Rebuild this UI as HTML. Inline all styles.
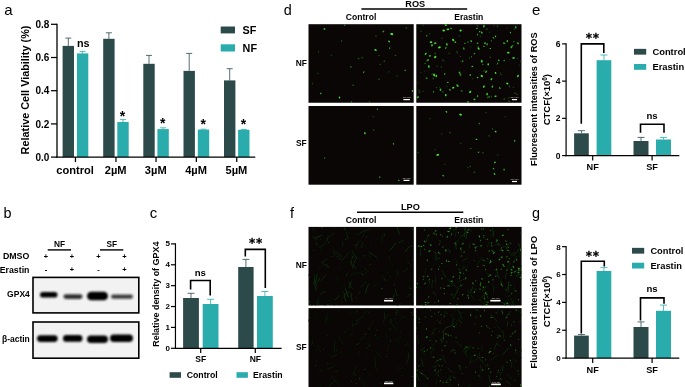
<!DOCTYPE html>
<html><head><meta charset="utf-8"><title>Figure</title>
<style>html,body{margin:0;padding:0;background:#fff;}svg{display:block;font-family:"Liberation Sans",sans-serif;}</style>
</head><body>
<svg width="685" height="387" viewBox="0 0 685 387">
<rect width="685" height="387" fill="#fff"/>
<text x="4.30" y="15.20" font-size="15" font-weight="normal" text-anchor="start" >a</text>
<line x1="51.00" y1="157.10" x2="57.00" y2="157.10" stroke="#000" stroke-width="1.25" stroke-linecap="butt"/>
<text x="49.30" y="160.70" font-size="10" font-weight="bold" text-anchor="end" >0.0</text>
<line x1="51.00" y1="123.90" x2="57.00" y2="123.90" stroke="#000" stroke-width="1.25" stroke-linecap="butt"/>
<text x="49.30" y="127.50" font-size="10" font-weight="bold" text-anchor="end" >0.2</text>
<line x1="51.00" y1="90.70" x2="57.00" y2="90.70" stroke="#000" stroke-width="1.25" stroke-linecap="butt"/>
<text x="49.30" y="94.30" font-size="10" font-weight="bold" text-anchor="end" >0.4</text>
<line x1="51.00" y1="57.50" x2="57.00" y2="57.50" stroke="#000" stroke-width="1.25" stroke-linecap="butt"/>
<text x="49.30" y="61.10" font-size="10" font-weight="bold" text-anchor="end" >0.6</text>
<line x1="51.00" y1="24.30" x2="57.00" y2="24.30" stroke="#000" stroke-width="1.25" stroke-linecap="butt"/>
<text x="49.30" y="27.90" font-size="10" font-weight="bold" text-anchor="end" >0.8</text>
<text transform="translate(29.40,90.00) rotate(-90)" font-size="10.85" font-weight="bold" text-anchor="middle">Relative Cell Viability (%)</text>
<rect x="62.60" y="45.90" width="11.40" height="111.20" fill="#2d4a4b" />
<line x1="68.30" y1="38.10" x2="68.30" y2="45.90" stroke="#2d4a4b" stroke-width="0.8" stroke-linecap="butt"/>
<line x1="65.30" y1="38.10" x2="71.30" y2="38.10" stroke="#2d4a4b" stroke-width="0.8" stroke-linecap="butt"/>
<rect x="76.90" y="53.40" width="11.40" height="103.70" fill="#2aacac" />
<line x1="82.60" y1="51.40" x2="82.60" y2="53.40" stroke="#2aacac" stroke-width="0.8" stroke-linecap="butt"/>
<line x1="79.60" y1="51.40" x2="85.60" y2="51.40" stroke="#2aacac" stroke-width="0.8" stroke-linecap="butt"/>
<line x1="75.45" y1="157.10" x2="75.45" y2="162.10" stroke="#000" stroke-width="1.25" stroke-linecap="butt"/>
<text x="75.15" y="174.30" font-size="11.1" font-weight="bold" text-anchor="middle" >control</text>
<rect x="103.20" y="38.80" width="11.40" height="118.30" fill="#2d4a4b" />
<line x1="108.90" y1="32.80" x2="108.90" y2="38.80" stroke="#2d4a4b" stroke-width="0.8" stroke-linecap="butt"/>
<line x1="105.90" y1="32.80" x2="111.90" y2="32.80" stroke="#2d4a4b" stroke-width="0.8" stroke-linecap="butt"/>
<rect x="117.30" y="122.00" width="11.40" height="35.10" fill="#2aacac" />
<line x1="123.00" y1="119.60" x2="123.00" y2="122.00" stroke="#2aacac" stroke-width="0.8" stroke-linecap="butt"/>
<line x1="120.00" y1="119.60" x2="126.00" y2="119.60" stroke="#2aacac" stroke-width="0.8" stroke-linecap="butt"/>
<line x1="115.95" y1="157.10" x2="115.95" y2="162.10" stroke="#000" stroke-width="1.25" stroke-linecap="butt"/>
<text x="115.65" y="174.30" font-size="11.1" font-weight="bold" text-anchor="middle" >2µM</text>
<rect x="143.30" y="63.80" width="11.40" height="93.30" fill="#2d4a4b" />
<line x1="149.00" y1="55.40" x2="149.00" y2="63.80" stroke="#2d4a4b" stroke-width="0.8" stroke-linecap="butt"/>
<line x1="146.00" y1="55.40" x2="152.00" y2="55.40" stroke="#2d4a4b" stroke-width="0.8" stroke-linecap="butt"/>
<rect x="157.40" y="129.10" width="11.40" height="28.00" fill="#2aacac" />
<line x1="163.10" y1="127.80" x2="163.10" y2="129.10" stroke="#2aacac" stroke-width="0.8" stroke-linecap="butt"/>
<line x1="160.10" y1="127.80" x2="166.10" y2="127.80" stroke="#2aacac" stroke-width="0.8" stroke-linecap="butt"/>
<line x1="156.05" y1="157.10" x2="156.05" y2="162.10" stroke="#000" stroke-width="1.25" stroke-linecap="butt"/>
<text x="155.75" y="174.30" font-size="11.1" font-weight="bold" text-anchor="middle" >3µM</text>
<rect x="183.50" y="70.90" width="11.40" height="86.20" fill="#2d4a4b" />
<line x1="189.20" y1="53.40" x2="189.20" y2="70.90" stroke="#2d4a4b" stroke-width="0.8" stroke-linecap="butt"/>
<line x1="186.20" y1="53.40" x2="192.20" y2="53.40" stroke="#2d4a4b" stroke-width="0.8" stroke-linecap="butt"/>
<rect x="197.80" y="129.60" width="11.40" height="27.50" fill="#2aacac" />
<line x1="203.50" y1="129.20" x2="203.50" y2="129.60" stroke="#2aacac" stroke-width="0.8" stroke-linecap="butt"/>
<line x1="200.50" y1="129.20" x2="206.50" y2="129.20" stroke="#2aacac" stroke-width="0.8" stroke-linecap="butt"/>
<line x1="196.35" y1="157.10" x2="196.35" y2="162.10" stroke="#000" stroke-width="1.25" stroke-linecap="butt"/>
<text x="196.05" y="174.30" font-size="11.1" font-weight="bold" text-anchor="middle" >4µM</text>
<rect x="224.00" y="80.40" width="11.40" height="76.70" fill="#2d4a4b" />
<line x1="229.70" y1="68.70" x2="229.70" y2="80.40" stroke="#2d4a4b" stroke-width="0.8" stroke-linecap="butt"/>
<line x1="226.70" y1="68.70" x2="232.70" y2="68.70" stroke="#2d4a4b" stroke-width="0.8" stroke-linecap="butt"/>
<rect x="238.10" y="129.80" width="11.40" height="27.30" fill="#2aacac" />
<line x1="243.80" y1="129.40" x2="243.80" y2="129.80" stroke="#2aacac" stroke-width="0.8" stroke-linecap="butt"/>
<line x1="240.80" y1="129.40" x2="246.80" y2="129.40" stroke="#2aacac" stroke-width="0.8" stroke-linecap="butt"/>
<line x1="236.75" y1="157.10" x2="236.75" y2="162.10" stroke="#000" stroke-width="1.25" stroke-linecap="butt"/>
<text x="236.45" y="174.30" font-size="11.1" font-weight="bold" text-anchor="middle" >5µM</text>
<line x1="57.00" y1="23.70" x2="57.00" y2="157.70" stroke="#000" stroke-width="1.3" stroke-linecap="butt"/>
<line x1="56.40" y1="157.10" x2="255.30" y2="157.10" stroke="#000" stroke-width="1.3" stroke-linecap="butt"/>
<text x="83.20" y="47.20" font-size="10.8" font-weight="bold" text-anchor="middle" >ns</text>
<text x="122.40" y="121.40" font-size="14" font-weight="bold" text-anchor="middle" >*</text>
<text x="162.80" y="128.40" font-size="14" font-weight="bold" text-anchor="middle" >*</text>
<text x="203.20" y="129.40" font-size="14" font-weight="bold" text-anchor="middle" >*</text>
<text x="243.50" y="129.40" font-size="14" font-weight="bold" text-anchor="middle" >*</text>
<rect x="220.70" y="26.50" width="14.30" height="6.90" fill="#2d4a4b" />
<text x="242.60" y="33.90" font-size="10.8" font-weight="bold" text-anchor="start" >SF</text>
<rect x="220.70" y="44.30" width="14.30" height="7.20" fill="#2aacac" />
<text x="242.60" y="51.60" font-size="10.8" font-weight="bold" text-anchor="start" >NF</text>
<text x="3.55" y="218.20" font-size="14.4" font-weight="normal" text-anchor="start" >b</text>
<text x="59.50" y="247.20" font-size="8.3" font-weight="bold" text-anchor="middle" >NF</text>
<line x1="47.70" y1="249.90" x2="71.00" y2="249.90" stroke="#000" stroke-width="1.4" stroke-linecap="butt"/>
<text x="111.70" y="247.20" font-size="8.3" font-weight="bold" text-anchor="middle" >SF</text>
<line x1="100.00" y1="249.90" x2="123.30" y2="249.90" stroke="#000" stroke-width="1.4" stroke-linecap="butt"/>
<text x="29.30" y="258.90" font-size="8.8" font-weight="bold" text-anchor="end" >DMSO</text>
<text x="29.50" y="272.60" font-size="8.8" font-weight="bold" text-anchor="end" >Erastin</text>
<text x="46.00" y="258.70" font-size="7.4" font-weight="bold" text-anchor="middle" >+</text>
<text x="46.00" y="272.30" font-size="7.4" font-weight="bold" text-anchor="middle" >-</text>
<text x="72.00" y="258.70" font-size="7.4" font-weight="bold" text-anchor="middle" >+</text>
<text x="72.00" y="272.30" font-size="7.4" font-weight="bold" text-anchor="middle" >+</text>
<text x="98.40" y="258.70" font-size="7.4" font-weight="bold" text-anchor="middle" >+</text>
<text x="98.40" y="272.30" font-size="7.4" font-weight="bold" text-anchor="middle" >-</text>
<text x="124.40" y="258.70" font-size="7.4" font-weight="bold" text-anchor="middle" >+</text>
<text x="124.40" y="272.30" font-size="7.4" font-weight="bold" text-anchor="middle" >+</text>
<defs><filter id="bl" x="-20%" y="-50%" width="140%" height="200%"><feGaussianBlur stdDeviation="0.9"/></filter><filter id="bl2" x="-20%" y="-50%" width="140%" height="200%"><feGaussianBlur stdDeviation="1.2"/></filter></defs>
<rect x="33.00" y="277.40" width="105.80" height="35.50" fill="#f2f2f2" stroke="#000" stroke-width="1.6"/>
<rect x="33.00" y="322.00" width="105.80" height="36.20" fill="#f2f2f2" stroke="#000" stroke-width="1.6"/>
<text x="29.80" y="297.20" font-size="8.5" font-weight="bold" text-anchor="end" >GPX4</text>
<text x="29.80" y="341.90" font-size="8.5" font-weight="bold" text-anchor="end" >β-actin</text>
<rect x="40.00" y="292.00" width="17.50" height="5.60" rx="2.80" fill="#000" opacity="1" filter="url(#bl)"/>
<rect x="63.50" y="294.30" width="19.00" height="4.60" rx="2.30" fill="#111" opacity="0.85" filter="url(#bl)"/>
<rect x="87.00" y="291.70" width="21.00" height="8.60" rx="4.30" fill="#000" opacity="1" filter="url(#bl)"/>
<rect x="111.00" y="294.40" width="22.00" height="4.40" rx="2.20" fill="#111" opacity="0.8" filter="url(#bl)"/>
<rect x="37.00" y="335.20" width="20.70" height="6.80" rx="3.40" fill="#000" opacity="1" filter="url(#bl)"/>
<rect x="63.00" y="335.00" width="19.50" height="6.80" rx="3.40" fill="#000" opacity="1" filter="url(#bl)"/>
<rect x="87.00" y="335.40" width="21.00" height="7.60" rx="3.80" fill="#000" opacity="1" filter="url(#bl)"/>
<rect x="110.00" y="334.50" width="23.00" height="7.40" rx="3.70" fill="#000" opacity="1" filter="url(#bl)"/>
<text x="149.70" y="218.40" font-size="15" font-weight="normal" text-anchor="start" >c</text>
<line x1="170.95" y1="348.30" x2="175.45" y2="348.30" stroke="#000" stroke-width="1.2" stroke-linecap="butt"/>
<text x="170.00" y="350.60" font-size="8.0" font-weight="bold" text-anchor="end" >0</text>
<line x1="170.95" y1="327.42" x2="175.45" y2="327.42" stroke="#000" stroke-width="1.2" stroke-linecap="butt"/>
<text x="170.00" y="329.72" font-size="8.0" font-weight="bold" text-anchor="end" >1</text>
<line x1="170.95" y1="306.54" x2="175.45" y2="306.54" stroke="#000" stroke-width="1.2" stroke-linecap="butt"/>
<text x="170.00" y="308.84" font-size="8.0" font-weight="bold" text-anchor="end" >2</text>
<line x1="170.95" y1="285.66" x2="175.45" y2="285.66" stroke="#000" stroke-width="1.2" stroke-linecap="butt"/>
<text x="170.00" y="287.96" font-size="8.0" font-weight="bold" text-anchor="end" >3</text>
<line x1="170.95" y1="264.78" x2="175.45" y2="264.78" stroke="#000" stroke-width="1.2" stroke-linecap="butt"/>
<text x="170.00" y="267.08" font-size="8.0" font-weight="bold" text-anchor="end" >4</text>
<line x1="170.95" y1="243.90" x2="175.45" y2="243.90" stroke="#000" stroke-width="1.2" stroke-linecap="butt"/>
<text x="170.00" y="246.20" font-size="8.0" font-weight="bold" text-anchor="end" >5</text>
<text transform="translate(159.20,294.20) rotate(-90)" font-size="8.93" font-weight="bold" text-anchor="middle">Relative density of GPX4</text>
<rect x="183.10" y="298.00" width="15.80" height="50.30" fill="#2d4a4b" />
<line x1="191.00" y1="293.30" x2="191.00" y2="298.00" stroke="#2d4a4b" stroke-width="0.8" stroke-linecap="butt"/>
<line x1="187.50" y1="293.30" x2="194.50" y2="293.30" stroke="#2d4a4b" stroke-width="0.8" stroke-linecap="butt"/>
<rect x="202.70" y="304.00" width="15.80" height="44.30" fill="#2aacac" />
<line x1="210.60" y1="299.30" x2="210.60" y2="304.00" stroke="#2aacac" stroke-width="0.8" stroke-linecap="butt"/>
<line x1="207.10" y1="299.30" x2="214.10" y2="299.30" stroke="#2aacac" stroke-width="0.8" stroke-linecap="butt"/>
<rect x="238.20" y="267.00" width="15.40" height="81.30" fill="#2d4a4b" />
<line x1="245.90" y1="259.40" x2="245.90" y2="267.00" stroke="#2d4a4b" stroke-width="0.8" stroke-linecap="butt"/>
<line x1="242.40" y1="259.40" x2="249.40" y2="259.40" stroke="#2d4a4b" stroke-width="0.8" stroke-linecap="butt"/>
<rect x="257.00" y="296.00" width="15.80" height="52.30" fill="#2aacac" />
<line x1="264.90" y1="291.50" x2="264.90" y2="296.00" stroke="#2aacac" stroke-width="0.8" stroke-linecap="butt"/>
<line x1="261.40" y1="291.50" x2="268.40" y2="291.50" stroke="#2aacac" stroke-width="0.8" stroke-linecap="butt"/>
<line x1="200.70" y1="348.30" x2="200.70" y2="352.90" stroke="#000" stroke-width="1.2" stroke-linecap="butt"/>
<text x="200.70" y="362.20" font-size="8.5" font-weight="bold" text-anchor="middle" >SF</text>
<line x1="255.30" y1="348.30" x2="255.30" y2="352.90" stroke="#000" stroke-width="1.2" stroke-linecap="butt"/>
<text x="255.30" y="362.20" font-size="8.5" font-weight="bold" text-anchor="middle" >NF</text>
<line x1="175.45" y1="243.30" x2="175.45" y2="348.90" stroke="#000" stroke-width="1.2" stroke-linecap="butt"/>
<line x1="174.85" y1="348.30" x2="281.60" y2="348.30" stroke="#000" stroke-width="1.2" stroke-linecap="butt"/>
<path d="M190.60 289.50V280.50H210.20V295.50" fill="none" stroke="#000" stroke-width="1.6" stroke-linejoin="miter"/>
<text x="200.30" y="276.00" font-size="9.6" font-weight="bold" text-anchor="middle" >ns</text>
<path d="M245.30 256.40V249.40H265.30V288.00" fill="none" stroke="#000" stroke-width="1.6" stroke-linejoin="miter"/>
<text x="256.00" y="246.90" font-family="DejaVu Sans, sans-serif" font-size="12" font-weight="bold" text-anchor="middle" stroke="#000" stroke-width="0.3" letter-spacing="0.6">**</text>
<rect x="169.60" y="372.20" width="11.40" height="5.60" fill="#2d4a4b" />
<text x="186.70" y="378.30" font-size="8.75" font-weight="bold" text-anchor="start" >Control</text>
<rect x="236.50" y="372.20" width="11.40" height="5.60" fill="#2aacac" />
<text x="253.00" y="378.30" font-size="8.75" font-weight="bold" text-anchor="start" >Erastin</text>
<defs><filter id="g1" x="-5%" y="-5%" width="110%" height="110%"><feGaussianBlur stdDeviation="0.35"/></filter><filter id="g2" x="-5%" y="-5%" width="110%" height="110%"><feGaussianBlur stdDeviation="0.45"/></filter></defs>
<text x="283.70" y="14.60" font-size="14.4" font-weight="normal" text-anchor="start" >d</text>
<text x="415.30" y="6.80" font-size="9.2" font-weight="bold" text-anchor="middle" >ROS</text>
<line x1="361.40" y1="9.10" x2="467.20" y2="9.10" stroke="#000" stroke-width="1.5" stroke-linecap="butt"/>
<text x="361.00" y="19.90" font-size="8.6" font-weight="bold" text-anchor="middle" >Control</text>
<text x="468.80" y="19.90" font-size="8.6" font-weight="bold" text-anchor="middle" >Erastin</text>
<text x="301.30" y="66.00" font-size="8.4" font-weight="bold" text-anchor="middle" >NF</text>
<text x="301.30" y="145.70" font-size="8.4" font-weight="bold" text-anchor="middle" >SF</text>
<rect x="308.50" y="24.20" width="105.20" height="78.55" fill="#090605" />
<clipPath id="cd1"><rect x="308.5" y="24.2" width="105.20" height="78.55"/></clipPath><g clip-path="url(#cd1)"><g filter="url(#g1)">
<ellipse cx="324.4" cy="29.0" rx="1.08" ry="0.72" transform="rotate(24 324.4 29.0)" fill="rgb(66,202,48)"/>
<ellipse cx="344.8" cy="25.0" rx="0.96" ry="0.64" transform="rotate(153 344.8 25.0)" fill="rgb(52,159,38)"/>
<ellipse cx="383.4" cy="31.5" rx="1.08" ry="0.72" transform="rotate(137 383.4 31.5)" fill="rgb(52,159,38)"/>
<ellipse cx="391.8" cy="34.1" rx="1.56" ry="1.04" transform="rotate(10 391.8 34.1)" fill="rgb(80,245,58)"/>
<ellipse cx="389.1" cy="41.5" rx="1.08" ry="0.72" transform="rotate(46 389.1 41.5)" fill="rgb(73,223,53)"/>
<ellipse cx="389.7" cy="48.1" rx="0.96" ry="0.64" transform="rotate(80 389.7 48.1)" fill="rgb(52,159,38)"/>
<ellipse cx="375.5" cy="50.0" rx="1.32" ry="0.88" transform="rotate(20 375.5 50.0)" fill="rgb(73,223,53)"/>
<ellipse cx="341.6" cy="41.1" rx="0.96" ry="0.64" transform="rotate(89 341.6 41.1)" fill="rgb(31,94,23)"/>
<ellipse cx="362.2" cy="57.6" rx="0.96" ry="0.64" transform="rotate(81 362.2 57.6)" fill="rgb(31,94,23)"/>
<ellipse cx="350.9" cy="66.9" rx="0.96" ry="0.64" transform="rotate(80 350.9 66.9)" fill="rgb(45,137,33)"/>
<ellipse cx="363.7" cy="72.2" rx="1.08" ry="0.72" transform="rotate(117 363.7 72.2)" fill="rgb(45,137,33)"/>
<ellipse cx="384.4" cy="61.2" rx="0.96" ry="0.64" transform="rotate(142 384.4 61.2)" fill="rgb(31,94,23)"/>
<ellipse cx="395.4" cy="55.5" rx="0.96" ry="0.64" transform="rotate(17 395.4 55.5)" fill="rgb(31,94,23)"/>
<ellipse cx="405.2" cy="70.3" rx="0.84" ry="0.56" transform="rotate(5 405.2 70.3)" fill="rgb(69,212,50)"/>
<ellipse cx="320.8" cy="93.4" rx="0.96" ry="0.64" transform="rotate(150 320.8 93.4)" fill="rgb(52,159,38)"/>
<ellipse cx="339.5" cy="97.5" rx="1.08" ry="0.72" transform="rotate(78 339.5 97.5)" fill="rgb(73,223,53)"/>
<ellipse cx="353.1" cy="85.2" rx="0.96" ry="0.64" transform="rotate(137 353.1 85.2)" fill="rgb(31,94,23)"/>
<ellipse cx="412.4" cy="90.9" rx="0.96" ry="0.64" transform="rotate(90 412.4 90.9)" fill="rgb(69,212,50)"/>
<ellipse cx="379.1" cy="79.2" rx="0.96" ry="0.64" transform="rotate(0 379.1 79.2)" fill="rgb(31,94,23)"/>
<ellipse cx="318.7" cy="51.7" rx="0.96" ry="0.64" transform="rotate(80 318.7 51.7)" fill="rgb(20,62,15)"/>
<ellipse cx="331.4" cy="55.5" rx="0.96" ry="0.64" transform="rotate(130 331.4 55.5)" fill="rgb(20,62,15)"/>
<ellipse cx="317.7" cy="73.5" rx="0.96" ry="0.64" transform="rotate(41 317.7 73.5)" fill="rgb(20,62,15)"/>
<ellipse cx="358.6" cy="58.5" rx="0.96" ry="0.64" transform="rotate(170 358.6 58.5)" fill="rgb(27,83,20)"/>
<ellipse cx="379.1" cy="55.5" rx="0.96" ry="0.64" transform="rotate(162 379.1 55.5)" fill="rgb(24,73,18)"/>
<ellipse cx="380.2" cy="64.4" rx="0.96" ry="0.64" transform="rotate(6 380.2 64.4)" fill="rgb(24,73,18)"/>
<ellipse cx="375.9" cy="35.8" rx="0.96" ry="0.64" transform="rotate(5 375.9 35.8)" fill="rgb(27,83,20)"/>
<ellipse cx="351.6" cy="102.1" rx="0.96" ry="0.64" transform="rotate(97 351.6 102.1)" fill="rgb(52,159,38)"/>
<ellipse cx="406.3" cy="27.9" rx="0.96" ry="0.64" transform="rotate(169 406.3 27.9)" fill="rgb(31,94,23)"/>
<ellipse cx="369.6" cy="102.1" rx="0.96" ry="0.64" transform="rotate(69 369.6 102.1)" fill="rgb(38,116,28)"/>
<ellipse cx="397.1" cy="76.0" rx="0.96" ry="0.64" transform="rotate(39 397.1 76.0)" fill="rgb(20,62,15)"/>
<ellipse cx="312.4" cy="83.5" rx="0.96" ry="0.64" transform="rotate(76 312.4 83.5)" fill="rgb(20,62,15)"/>
<ellipse cx="388.7" cy="71.8" rx="0.96" ry="0.64" transform="rotate(5 388.7 71.8)" fill="rgb(20,62,15)"/>
</g></g>
<line x1="403.40" y1="99.60" x2="409.90" y2="99.60" stroke="#fff" stroke-width="1.2" stroke-linecap="butt"/>
<text x="406.65" y="98.30" font-size="2.4" font-weight="normal" text-anchor="middle" fill="#cfcfcf">100 μm</text>
<rect x="416.30" y="24.20" width="105.20" height="78.55" fill="#090605" />
<clipPath id="cd2"><rect x="416.3" y="24.2" width="105.20" height="78.55"/></clipPath><g clip-path="url(#cd2)"><g filter="url(#g1)">
<ellipse cx="445.8" cy="25.2" rx="1.25" ry="0.84" transform="rotate(172 445.8 25.2)" fill="rgb(68,208,49)"/>
<ellipse cx="447.9" cy="29.4" rx="1.40" ry="0.93" transform="rotate(171 447.9 29.4)" fill="rgb(73,225,53)"/>
<ellipse cx="443.7" cy="30.5" rx="1.38" ry="0.92" transform="rotate(10 443.7 30.5)" fill="rgb(71,219,52)"/>
<ellipse cx="451.1" cy="28.4" rx="1.06" ry="0.70" transform="rotate(15 451.1 28.4)" fill="rgb(49,151,36)"/>
<ellipse cx="460.6" cy="30.5" rx="1.19" ry="0.79" transform="rotate(150 460.6 30.5)" fill="rgb(78,239,56)"/>
<ellipse cx="477.0" cy="28.4" rx="0.80" ry="0.53" transform="rotate(132 477.0 28.4)" fill="rgb(76,235,55)"/>
<ellipse cx="479.7" cy="31.5" rx="0.90" ry="0.60" transform="rotate(121 479.7 31.5)" fill="rgb(63,193,46)"/>
<ellipse cx="481.8" cy="32.6" rx="1.13" ry="0.76" transform="rotate(55 481.8 32.6)" fill="rgb(65,200,47)"/>
<ellipse cx="477.6" cy="34.7" rx="0.88" ry="0.58" transform="rotate(109 477.6 34.7)" fill="rgb(48,149,35)"/>
<ellipse cx="483.9" cy="26.2" rx="1.38" ry="0.92" transform="rotate(109 483.9 26.2)" fill="rgb(57,175,41)"/>
<ellipse cx="495.6" cy="36.4" rx="0.83" ry="0.56" transform="rotate(105 495.6 36.4)" fill="rgb(72,222,52)"/>
<ellipse cx="493.5" cy="37.9" rx="0.82" ry="0.55" transform="rotate(29 493.5 37.9)" fill="rgb(73,225,53)"/>
<ellipse cx="510.4" cy="32.6" rx="0.81" ry="0.54" transform="rotate(78 510.4 32.6)" fill="rgb(67,207,49)"/>
<ellipse cx="515.7" cy="27.3" rx="1.35" ry="0.90" transform="rotate(71 515.7 27.3)" fill="rgb(48,148,35)"/>
<ellipse cx="426.7" cy="35.8" rx="0.88" ry="0.58" transform="rotate(130 426.7 35.8)" fill="rgb(55,168,40)"/>
<ellipse cx="431.0" cy="42.1" rx="1.35" ry="0.90" transform="rotate(179 431.0 42.1)" fill="rgb(79,243,57)"/>
<ellipse cx="435.2" cy="43.2" rx="1.41" ry="0.94" transform="rotate(171 435.2 43.2)" fill="rgb(57,176,42)"/>
<ellipse cx="432.0" cy="45.3" rx="1.21" ry="0.81" transform="rotate(98 432.0 45.3)" fill="rgb(65,200,47)"/>
<ellipse cx="446.9" cy="44.3" rx="1.40" ry="0.93" transform="rotate(80 446.9 44.3)" fill="rgb(54,168,40)"/>
<ellipse cx="453.2" cy="40.0" rx="1.42" ry="0.94" transform="rotate(48 453.2 40.0)" fill="rgb(70,215,51)"/>
<ellipse cx="455.3" cy="42.1" rx="0.94" ry="0.62" transform="rotate(6 455.3 42.1)" fill="rgb(76,234,55)"/>
<ellipse cx="464.9" cy="43.2" rx="0.84" ry="0.56" transform="rotate(5 464.9 43.2)" fill="rgb(59,183,43)"/>
<ellipse cx="468.0" cy="42.1" rx="0.77" ry="0.51" transform="rotate(84 468.0 42.1)" fill="rgb(53,162,38)"/>
<ellipse cx="471.2" cy="41.1" rx="1.15" ry="0.77" transform="rotate(57 471.2 41.1)" fill="rgb(57,177,42)"/>
<ellipse cx="463.8" cy="48.5" rx="1.21" ry="0.81" transform="rotate(68 463.8 48.5)" fill="rgb(48,148,35)"/>
<ellipse cx="477.6" cy="43.2" rx="0.94" ry="0.63" transform="rotate(161 477.6 43.2)" fill="rgb(59,180,43)"/>
<ellipse cx="485.0" cy="43.2" rx="1.07" ry="0.71" transform="rotate(95 485.0 43.2)" fill="rgb(74,227,53)"/>
<ellipse cx="487.1" cy="44.3" rx="1.07" ry="0.71" transform="rotate(101 487.1 44.3)" fill="rgb(58,178,42)"/>
<ellipse cx="483.9" cy="46.4" rx="0.76" ry="0.51" transform="rotate(43 483.9 46.4)" fill="rgb(70,216,51)"/>
<ellipse cx="490.3" cy="48.5" rx="0.74" ry="0.49" transform="rotate(4 490.3 48.5)" fill="rgb(79,242,57)"/>
<ellipse cx="478.6" cy="48.5" rx="1.33" ry="0.89" transform="rotate(59 478.6 48.5)" fill="rgb(72,220,52)"/>
<ellipse cx="504.1" cy="43.2" rx="1.29" ry="0.86" transform="rotate(25 504.1 43.2)" fill="rgb(49,149,35)"/>
<ellipse cx="507.3" cy="41.1" rx="1.14" ry="0.76" transform="rotate(92 507.3 41.1)" fill="rgb(60,183,43)"/>
<ellipse cx="512.6" cy="45.3" rx="0.75" ry="0.50" transform="rotate(180 512.6 45.3)" fill="rgb(48,149,35)"/>
<ellipse cx="511.5" cy="47.0" rx="1.41" ry="0.94" transform="rotate(121 511.5 47.0)" fill="rgb(54,165,39)"/>
<ellipse cx="517.9" cy="43.2" rx="1.26" ry="0.84" transform="rotate(33 517.9 43.2)" fill="rgb(54,167,39)"/>
<ellipse cx="439.4" cy="47.4" rx="1.40" ry="0.93" transform="rotate(161 439.4 47.4)" fill="rgb(77,238,56)"/>
<ellipse cx="445.8" cy="47.9" rx="0.98" ry="0.65" transform="rotate(143 445.8 47.9)" fill="rgb(59,181,43)"/>
<ellipse cx="425.7" cy="53.8" rx="1.28" ry="0.85" transform="rotate(132 425.7 53.8)" fill="rgb(65,199,47)"/>
<ellipse cx="429.9" cy="55.9" rx="1.26" ry="0.84" transform="rotate(163 429.9 55.9)" fill="rgb(51,158,37)"/>
<ellipse cx="435.2" cy="57.0" rx="1.34" ry="0.89" transform="rotate(137 435.2 57.0)" fill="rgb(73,225,53)"/>
<ellipse cx="427.8" cy="60.2" rx="1.40" ry="0.93" transform="rotate(142 427.8 60.2)" fill="rgb(49,151,36)"/>
<ellipse cx="462.7" cy="61.2" rx="0.97" ry="0.64" transform="rotate(64 462.7 61.2)" fill="rgb(51,157,37)"/>
<ellipse cx="508.3" cy="52.7" rx="1.38" ry="0.92" transform="rotate(177 508.3 52.7)" fill="rgb(67,207,49)"/>
<ellipse cx="513.6" cy="58.0" rx="1.39" ry="0.92" transform="rotate(173 513.6 58.0)" fill="rgb(59,181,43)"/>
<ellipse cx="498.8" cy="60.2" rx="0.94" ry="0.63" transform="rotate(29 498.8 60.2)" fill="rgb(65,200,47)"/>
<ellipse cx="504.1" cy="60.6" rx="0.85" ry="0.57" transform="rotate(136 504.1 60.6)" fill="rgb(58,178,42)"/>
<ellipse cx="497.7" cy="63.3" rx="0.83" ry="0.55" transform="rotate(129 497.7 63.3)" fill="rgb(50,155,37)"/>
<ellipse cx="481.8" cy="61.2" rx="1.44" ry="0.96" transform="rotate(83 481.8 61.2)" fill="rgb(70,214,51)"/>
<ellipse cx="482.9" cy="64.4" rx="0.75" ry="0.50" transform="rotate(95 482.9 64.4)" fill="rgb(53,163,39)"/>
<ellipse cx="488.2" cy="64.4" rx="1.10" ry="0.74" transform="rotate(88 488.2 64.4)" fill="rgb(79,243,57)"/>
<ellipse cx="474.4" cy="53.8" rx="0.89" ry="0.59" transform="rotate(166 474.4 53.8)" fill="rgb(61,187,44)"/>
<ellipse cx="428.8" cy="66.5" rx="1.31" ry="0.88" transform="rotate(90 428.8 66.5)" fill="rgb(67,205,48)"/>
<ellipse cx="472.3" cy="66.5" rx="1.02" ry="0.68" transform="rotate(150 472.3 66.5)" fill="rgb(62,192,45)"/>
<ellipse cx="459.6" cy="72.9" rx="1.38" ry="0.92" transform="rotate(64 459.6 72.9)" fill="rgb(50,153,36)"/>
<ellipse cx="460.6" cy="75.0" rx="1.08" ry="0.72" transform="rotate(159 460.6 75.0)" fill="rgb(49,151,36)"/>
<ellipse cx="444.7" cy="73.9" rx="0.81" ry="0.54" transform="rotate(162 444.7 73.9)" fill="rgb(74,229,54)"/>
<ellipse cx="434.1" cy="75.0" rx="1.40" ry="0.94" transform="rotate(83 434.1 75.0)" fill="rgb(71,219,51)"/>
<ellipse cx="436.3" cy="76.0" rx="1.29" ry="0.86" transform="rotate(102 436.3 76.0)" fill="rgb(68,209,49)"/>
<ellipse cx="426.7" cy="78.2" rx="1.03" ry="0.69" transform="rotate(166 426.7 78.2)" fill="rgb(51,158,37)"/>
<ellipse cx="486.1" cy="71.8" rx="1.33" ry="0.89" transform="rotate(130 486.1 71.8)" fill="rgb(53,162,38)"/>
<ellipse cx="470.2" cy="75.0" rx="1.05" ry="0.70" transform="rotate(88 470.2 75.0)" fill="rgb(57,176,42)"/>
<ellipse cx="481.8" cy="76.0" rx="1.33" ry="0.89" transform="rotate(40 481.8 76.0)" fill="rgb(79,244,57)"/>
<ellipse cx="495.6" cy="72.9" rx="1.05" ry="0.70" transform="rotate(58 495.6 72.9)" fill="rgb(79,242,57)"/>
<ellipse cx="491.4" cy="79.2" rx="1.25" ry="0.83" transform="rotate(126 491.4 79.2)" fill="rgb(63,195,46)"/>
<ellipse cx="477.6" cy="77.5" rx="0.93" ry="0.62" transform="rotate(30 477.6 77.5)" fill="rgb(63,194,46)"/>
<ellipse cx="447.9" cy="82.4" rx="0.83" ry="0.55" transform="rotate(163 447.9 82.4)" fill="rgb(61,187,44)"/>
<ellipse cx="457.5" cy="85.6" rx="1.43" ry="0.95" transform="rotate(48 457.5 85.6)" fill="rgb(60,184,43)"/>
<ellipse cx="453.2" cy="87.7" rx="1.17" ry="0.78" transform="rotate(164 453.2 87.7)" fill="rgb(78,241,57)"/>
<ellipse cx="450.0" cy="89.8" rx="0.96" ry="0.64" transform="rotate(56 450.0 89.8)" fill="rgb(64,196,46)"/>
<ellipse cx="461.7" cy="90.9" rx="0.92" ry="0.61" transform="rotate(172 461.7 90.9)" fill="rgb(51,156,37)"/>
<ellipse cx="470.2" cy="91.9" rx="1.34" ry="0.90" transform="rotate(127 470.2 91.9)" fill="rgb(73,223,53)"/>
<ellipse cx="440.5" cy="89.8" rx="1.29" ry="0.86" transform="rotate(91 440.5 89.8)" fill="rgb(59,183,43)"/>
<ellipse cx="445.8" cy="95.1" rx="1.22" ry="0.81" transform="rotate(93 445.8 95.1)" fill="rgb(72,223,52)"/>
<ellipse cx="483.9" cy="86.6" rx="1.27" ry="0.84" transform="rotate(117 483.9 86.6)" fill="rgb(69,212,50)"/>
<ellipse cx="492.4" cy="86.6" rx="1.23" ry="0.82" transform="rotate(106 492.4 86.6)" fill="rgb(59,183,43)"/>
<ellipse cx="499.8" cy="88.1" rx="1.07" ry="0.71" transform="rotate(56 499.8 88.1)" fill="rgb(57,175,41)"/>
<ellipse cx="507.3" cy="83.5" rx="1.22" ry="0.81" transform="rotate(37 507.3 83.5)" fill="rgb(72,222,52)"/>
<ellipse cx="487.1" cy="94.1" rx="1.40" ry="0.93" transform="rotate(92 487.1 94.1)" fill="rgb(57,176,42)"/>
<ellipse cx="495.6" cy="96.2" rx="1.14" ry="0.76" transform="rotate(168 495.6 96.2)" fill="rgb(68,211,50)"/>
<ellipse cx="477.6" cy="96.2" rx="1.11" ry="0.74" transform="rotate(112 477.6 96.2)" fill="rgb(48,149,35)"/>
<ellipse cx="474.4" cy="99.4" rx="1.20" ry="0.80" transform="rotate(14 474.4 99.4)" fill="rgb(56,172,41)"/>
<ellipse cx="417.8" cy="97.2" rx="1.31" ry="0.87" transform="rotate(148 417.8 97.2)" fill="rgb(63,193,45)"/>
<ellipse cx="517.9" cy="76.0" rx="1.29" ry="0.86" transform="rotate(131 517.9 76.0)" fill="rgb(68,210,50)"/>
<ellipse cx="468.0" cy="102.1" rx="1.18" ry="0.79" transform="rotate(163 468.0 102.1)" fill="rgb(59,181,43)"/>
<ellipse cx="441.3" cy="66.9" rx="0.89" ry="0.59" transform="rotate(113 441.3 66.9)" fill="rgb(24,75,18)"/>
<ellipse cx="423.2" cy="25.2" rx="0.72" ry="0.48" transform="rotate(42 423.2 25.2)" fill="rgb(34,105,25)"/>
<ellipse cx="521.0" cy="61.1" rx="0.83" ry="0.55" transform="rotate(115 521.0 61.1)" fill="rgb(34,105,25)"/>
<ellipse cx="432.1" cy="74.1" rx="0.85" ry="0.57" transform="rotate(133 432.1 74.1)" fill="rgb(35,107,26)"/>
<ellipse cx="486.9" cy="29.2" rx="0.88" ry="0.59" transform="rotate(54 486.9 29.2)" fill="rgb(32,100,24)"/>
<ellipse cx="419.6" cy="92.2" rx="0.95" ry="0.63" transform="rotate(158 419.6 92.2)" fill="rgb(26,81,20)"/>
<ellipse cx="491.4" cy="96.6" rx="0.98" ry="0.66" transform="rotate(80 491.4 96.6)" fill="rgb(25,76,18)"/>
<ellipse cx="514.7" cy="93.2" rx="0.67" ry="0.44" transform="rotate(39 514.7 93.2)" fill="rgb(19,57,14)"/>
<ellipse cx="517.9" cy="58.5" rx="0.74" ry="0.50" transform="rotate(91 517.9 58.5)" fill="rgb(30,91,22)"/>
<ellipse cx="456.9" cy="51.8" rx="0.88" ry="0.59" transform="rotate(163 456.9 51.8)" fill="rgb(29,89,21)"/>
<ellipse cx="488.0" cy="97.2" rx="1.08" ry="0.72" transform="rotate(121 488.0 97.2)" fill="rgb(34,106,25)"/>
<ellipse cx="433.5" cy="91.8" rx="1.03" ry="0.69" transform="rotate(102 433.5 91.8)" fill="rgb(37,113,27)"/>
<ellipse cx="491.4" cy="40.8" rx="0.88" ry="0.58" transform="rotate(51 491.4 40.8)" fill="rgb(34,105,25)"/>
<ellipse cx="423.0" cy="91.3" rx="0.64" ry="0.43" transform="rotate(144 423.0 91.3)" fill="rgb(37,115,27)"/>
<ellipse cx="459.5" cy="36.0" rx="0.97" ry="0.65" transform="rotate(157 459.5 36.0)" fill="rgb(23,70,17)"/>
<ellipse cx="420.9" cy="72.5" rx="0.94" ry="0.63" transform="rotate(60 420.9 72.5)" fill="rgb(17,54,13)"/>
<ellipse cx="509.0" cy="101.2" rx="1.08" ry="0.72" transform="rotate(56 509.0 101.2)" fill="rgb(27,84,20)"/>
<ellipse cx="424.4" cy="71.3" rx="0.69" ry="0.46" transform="rotate(73 424.4 71.3)" fill="rgb(17,53,13)"/>
<ellipse cx="480.5" cy="36.5" rx="1.02" ry="0.68" transform="rotate(56 480.5 36.5)" fill="rgb(17,54,13)"/>
<ellipse cx="517.2" cy="94.6" rx="0.82" ry="0.55" transform="rotate(94 517.2 94.6)" fill="rgb(24,75,18)"/>
<ellipse cx="484.0" cy="71.0" rx="0.90" ry="0.60" transform="rotate(169 484.0 71.0)" fill="rgb(28,87,21)"/>
<ellipse cx="469.6" cy="58.1" rx="0.71" ry="0.48" transform="rotate(54 469.6 58.1)" fill="rgb(32,97,23)"/>
<ellipse cx="519.2" cy="65.1" rx="0.61" ry="0.40" transform="rotate(75 519.2 65.1)" fill="rgb(28,86,21)"/>
<ellipse cx="477.3" cy="25.8" rx="0.90" ry="0.60" transform="rotate(11 477.3 25.8)" fill="rgb(29,91,22)"/>
<ellipse cx="482.3" cy="60.8" rx="0.77" ry="0.51" transform="rotate(127 482.3 60.8)" fill="rgb(31,95,23)"/>
<ellipse cx="493.9" cy="25.9" rx="0.92" ry="0.62" transform="rotate(173 493.9 25.9)" fill="rgb(18,55,13)"/>
<ellipse cx="442.7" cy="60.0" rx="0.75" ry="0.50" transform="rotate(66 442.7 60.0)" fill="rgb(29,89,21)"/>
<ellipse cx="449.2" cy="53.2" rx="0.74" ry="0.50" transform="rotate(68 449.2 53.2)" fill="rgb(29,89,21)"/>
<ellipse cx="497.5" cy="26.3" rx="0.95" ry="0.64" transform="rotate(56 497.5 26.3)" fill="rgb(28,88,21)"/>
<ellipse cx="439.7" cy="87.3" rx="0.69" ry="0.46" transform="rotate(78 439.7 87.3)" fill="rgb(22,66,16)"/>
<ellipse cx="489.7" cy="32.2" rx="0.76" ry="0.51" transform="rotate(150 489.7 32.2)" fill="rgb(23,72,17)"/>
<ellipse cx="462.4" cy="91.4" rx="0.76" ry="0.51" transform="rotate(117 462.4 91.4)" fill="rgb(20,62,15)"/>
<ellipse cx="509.4" cy="59.6" rx="0.66" ry="0.44" transform="rotate(95 509.4 59.6)" fill="rgb(21,66,16)"/>
<ellipse cx="436.4" cy="87.6" rx="0.69" ry="0.46" transform="rotate(50 436.4 87.6)" fill="rgb(34,105,25)"/>
<ellipse cx="501.2" cy="74.6" rx="0.77" ry="0.51" transform="rotate(23 501.2 74.6)" fill="rgb(33,103,25)"/>
<ellipse cx="447.0" cy="86.6" rx="0.77" ry="0.51" transform="rotate(75 447.0 86.6)" fill="rgb(22,68,17)"/>
<ellipse cx="460.5" cy="56.4" rx="0.67" ry="0.45" transform="rotate(1 460.5 56.4)" fill="rgb(36,110,26)"/>
<ellipse cx="515.5" cy="93.3" rx="0.81" ry="0.54" transform="rotate(171 515.5 93.3)" fill="rgb(37,115,27)"/>
<ellipse cx="513.9" cy="41.6" rx="1.00" ry="0.67" transform="rotate(119 513.9 41.6)" fill="rgb(32,99,24)"/>
<ellipse cx="470.9" cy="46.9" rx="0.71" ry="0.47" transform="rotate(12 470.9 46.9)" fill="rgb(24,73,18)"/>
<ellipse cx="478.2" cy="46.7" rx="0.62" ry="0.41" transform="rotate(163 478.2 46.7)" fill="rgb(34,103,25)"/>
<ellipse cx="489.3" cy="96.8" rx="1.03" ry="0.69" transform="rotate(104 489.3 96.8)" fill="rgb(35,109,26)"/>
<ellipse cx="417.7" cy="82.7" rx="0.74" ry="0.50" transform="rotate(119 417.7 82.7)" fill="rgb(20,62,15)"/>
<ellipse cx="471.5" cy="56.7" rx="0.89" ry="0.60" transform="rotate(61 471.5 56.7)" fill="rgb(36,112,27)"/>
<ellipse cx="442.9" cy="91.9" rx="0.98" ry="0.65" transform="rotate(63 442.9 91.9)" fill="rgb(27,82,20)"/>
<ellipse cx="437.1" cy="66.2" rx="0.68" ry="0.45" transform="rotate(143 437.1 66.2)" fill="rgb(34,104,25)"/>
<ellipse cx="513.3" cy="87.5" rx="0.60" ry="0.40" transform="rotate(113 513.3 87.5)" fill="rgb(34,104,25)"/>
<ellipse cx="507.0" cy="28.1" rx="0.73" ry="0.49" transform="rotate(95 507.0 28.1)" fill="rgb(22,69,17)"/>
<ellipse cx="460.8" cy="61.3" rx="0.60" ry="0.40" transform="rotate(10 460.8 61.3)" fill="rgb(33,101,24)"/>
<ellipse cx="429.6" cy="34.0" rx="1.07" ry="0.71" transform="rotate(154 429.6 34.0)" fill="rgb(18,55,14)"/>
<ellipse cx="425.4" cy="63.6" rx="0.75" ry="0.50" transform="rotate(63 425.4 63.6)" fill="rgb(23,71,17)"/>
<ellipse cx="484.4" cy="70.3" rx="0.69" ry="0.46" transform="rotate(59 484.4 70.3)" fill="rgb(24,74,18)"/>
<ellipse cx="429.3" cy="67.8" rx="0.78" ry="0.52" transform="rotate(14 429.3 67.8)" fill="rgb(32,97,23)"/>
<ellipse cx="435.1" cy="53.5" rx="0.98" ry="0.65" transform="rotate(68 435.1 53.5)" fill="rgb(29,90,22)"/>
<ellipse cx="500.6" cy="73.1" rx="0.78" ry="0.52" transform="rotate(89 500.6 73.1)" fill="rgb(26,79,19)"/>
<ellipse cx="490.2" cy="57.2" rx="0.82" ry="0.55" transform="rotate(44 490.2 57.2)" fill="rgb(31,96,23)"/>
<ellipse cx="472.7" cy="78.8" rx="0.80" ry="0.54" transform="rotate(77 472.7 78.8)" fill="rgb(18,56,14)"/>
<ellipse cx="508.8" cy="97.8" rx="1.03" ry="0.69" transform="rotate(142 508.8 97.8)" fill="rgb(24,75,18)"/>
<ellipse cx="443.9" cy="60.7" rx="0.99" ry="0.66" transform="rotate(119 443.9 60.7)" fill="rgb(19,59,14)"/>
<ellipse cx="509.6" cy="86.4" rx="0.95" ry="0.63" transform="rotate(101 509.6 86.4)" fill="rgb(31,94,23)"/>
<ellipse cx="427.1" cy="70.4" rx="0.67" ry="0.45" transform="rotate(139 427.1 70.4)" fill="rgb(17,51,13)"/>
<ellipse cx="421.0" cy="31.4" rx="1.02" ry="0.68" transform="rotate(32 421.0 31.4)" fill="rgb(19,57,14)"/>
<ellipse cx="418.8" cy="90.3" rx="1.01" ry="0.67" transform="rotate(121 418.8 90.3)" fill="rgb(19,59,14)"/>
<ellipse cx="504.3" cy="99.0" rx="0.98" ry="0.66" transform="rotate(7 504.3 99.0)" fill="rgb(29,88,21)"/>
<ellipse cx="497.0" cy="64.4" rx="0.65" ry="0.43" transform="rotate(135 497.0 64.4)" fill="rgb(32,97,23)"/>
<ellipse cx="514.6" cy="29.0" rx="0.87" ry="0.58" transform="rotate(149 514.6 29.0)" fill="rgb(23,72,17)"/>
<ellipse cx="441.8" cy="38.3" rx="0.90" ry="0.60" transform="rotate(136 441.8 38.3)" fill="rgb(22,67,16)"/>
<ellipse cx="457.7" cy="53.1" rx="0.77" ry="0.51" transform="rotate(75 457.7 53.1)" fill="rgb(25,77,18)"/>
<ellipse cx="425.1" cy="63.5" rx="0.80" ry="0.53" transform="rotate(135 425.1 63.5)" fill="rgb(37,114,27)"/>
<ellipse cx="433.2" cy="78.5" rx="0.92" ry="0.62" transform="rotate(93 433.2 78.5)" fill="rgb(32,100,24)"/>
</g></g>
<line x1="511.90" y1="99.60" x2="517.10" y2="99.60" stroke="#fff" stroke-width="1.2" stroke-linecap="butt"/>
<text x="514.50" y="98.30" font-size="2.4" font-weight="normal" text-anchor="middle" fill="#cfcfcf">100 μm</text>
<rect x="308.50" y="106.00" width="105.20" height="78.70" fill="#090605" />
<clipPath id="cd3"><rect x="308.5" y="106.0" width="105.20" height="78.70"/></clipPath><g clip-path="url(#cd3)"><g filter="url(#g1)">
<ellipse cx="377.4" cy="109.3" rx="0.84" ry="0.56" transform="rotate(43 377.4 109.3)" fill="rgb(52,159,38)"/>
<ellipse cx="373.8" cy="130.1" rx="0.84" ry="0.56" transform="rotate(98 373.8 130.1)" fill="rgb(34,105,25)"/>
<ellipse cx="364.9" cy="133.2" rx="1.20" ry="0.80" transform="rotate(80 364.9 133.2)" fill="rgb(66,202,48)"/>
<ellipse cx="393.5" cy="143.8" rx="0.96" ry="0.64" transform="rotate(67 393.5 143.8)" fill="rgb(52,159,38)"/>
<ellipse cx="324.7" cy="158.0" rx="0.84" ry="0.56" transform="rotate(109 324.7 158.0)" fill="rgb(45,137,33)"/>
<ellipse cx="379.8" cy="177.1" rx="0.96" ry="0.64" transform="rotate(113 379.8 177.1)" fill="rgb(52,159,38)"/>
<ellipse cx="398.8" cy="180.3" rx="0.96" ry="0.64" transform="rotate(12 398.8 180.3)" fill="rgb(55,169,40)"/>
<ellipse cx="373.4" cy="116.7" rx="0.96" ry="0.64" transform="rotate(2 373.4 116.7)" fill="rgb(20,62,15)"/>
</g></g>
<line x1="403.50" y1="180.40" x2="409.50" y2="180.40" stroke="#fff" stroke-width="1.2" stroke-linecap="butt"/>
<text x="406.50" y="179.10" font-size="2.4" font-weight="normal" text-anchor="middle" fill="#cfcfcf">100 μm</text>
<rect x="416.30" y="106.00" width="105.20" height="78.70" fill="#090605" />
<clipPath id="cd4"><rect x="416.3" y="106.0" width="105.20" height="78.70"/></clipPath><g clip-path="url(#cd4)"><g filter="url(#g1)">
<ellipse cx="446.4" cy="111.8" rx="0.96" ry="0.64" transform="rotate(42 446.4 111.8)" fill="rgb(73,223,53)"/>
<ellipse cx="460.6" cy="114.6" rx="1.44" ry="0.96" transform="rotate(19 460.6 114.6)" fill="rgb(73,223,53)"/>
<ellipse cx="479.3" cy="123.5" rx="0.84" ry="0.56" transform="rotate(71 479.3 123.5)" fill="rgb(52,159,38)"/>
<ellipse cx="495.6" cy="131.6" rx="1.08" ry="0.72" transform="rotate(28 495.6 131.6)" fill="rgb(69,212,50)"/>
<ellipse cx="476.5" cy="139.4" rx="0.96" ry="0.64" transform="rotate(12 476.5 139.4)" fill="rgb(69,212,50)"/>
<ellipse cx="514.7" cy="140.7" rx="1.08" ry="0.72" transform="rotate(72 514.7 140.7)" fill="rgb(52,159,38)"/>
<ellipse cx="437.7" cy="154.9" rx="1.44" ry="0.96" transform="rotate(165 437.7 154.9)" fill="rgb(73,223,53)"/>
<ellipse cx="478.6" cy="152.3" rx="0.96" ry="0.64" transform="rotate(144 478.6 152.3)" fill="rgb(52,159,38)"/>
<ellipse cx="495.0" cy="162.3" rx="0.96" ry="0.64" transform="rotate(138 495.0 162.3)" fill="rgb(73,223,53)"/>
<ellipse cx="493.5" cy="168.6" rx="0.96" ry="0.64" transform="rotate(40 493.5 168.6)" fill="rgb(52,159,38)"/>
<ellipse cx="504.1" cy="169.7" rx="1.08" ry="0.72" transform="rotate(97 504.1 169.7)" fill="rgb(52,159,38)"/>
<ellipse cx="494.5" cy="173.9" rx="1.08" ry="0.72" transform="rotate(50 494.5 173.9)" fill="rgb(69,212,50)"/>
<ellipse cx="443.2" cy="175.6" rx="0.96" ry="0.64" transform="rotate(31 443.2 175.6)" fill="rgb(55,169,40)"/>
<ellipse cx="474.4" cy="172.2" rx="0.96" ry="0.64" transform="rotate(19 474.4 172.2)" fill="rgb(31,94,23)"/>
<ellipse cx="470.2" cy="166.5" rx="0.96" ry="0.64" transform="rotate(39 470.2 166.5)" fill="rgb(27,83,20)"/>
<ellipse cx="470.8" cy="148.5" rx="0.96" ry="0.64" transform="rotate(167 470.8 148.5)" fill="rgb(31,94,23)"/>
<ellipse cx="429.9" cy="118.8" rx="0.96" ry="0.64" transform="rotate(149 429.9 118.8)" fill="rgb(20,62,15)"/>
<ellipse cx="450.0" cy="132.6" rx="0.96" ry="0.64" transform="rotate(145 450.0 132.6)" fill="rgb(27,83,20)"/>
<ellipse cx="441.6" cy="133.7" rx="0.96" ry="0.64" transform="rotate(144 441.6 133.7)" fill="rgb(20,62,15)"/>
<ellipse cx="486.1" cy="112.5" rx="0.96" ry="0.64" transform="rotate(35 486.1 112.5)" fill="rgb(20,62,15)"/>
<ellipse cx="489.2" cy="135.8" rx="0.96" ry="0.64" transform="rotate(56 489.2 135.8)" fill="rgb(27,83,20)"/>
<ellipse cx="482.9" cy="152.7" rx="0.96" ry="0.64" transform="rotate(113 482.9 152.7)" fill="rgb(31,94,23)"/>
<ellipse cx="444.7" cy="164.4" rx="0.96" ry="0.64" transform="rotate(132 444.7 164.4)" fill="rgb(20,62,15)"/>
<ellipse cx="418.2" cy="152.7" rx="0.96" ry="0.64" transform="rotate(154 418.2 152.7)" fill="rgb(20,62,15)"/>
<ellipse cx="497.7" cy="154.9" rx="0.96" ry="0.64" transform="rotate(158 497.7 154.9)" fill="rgb(20,62,15)"/>
<ellipse cx="460.6" cy="143.2" rx="0.96" ry="0.64" transform="rotate(16 460.6 143.2)" fill="rgb(20,62,15)"/>
<ellipse cx="492.4" cy="129.0" rx="0.96" ry="0.64" transform="rotate(109 492.4 129.0)" fill="rgb(24,73,18)"/>
<ellipse cx="435.2" cy="149.6" rx="0.96" ry="0.64" transform="rotate(121 435.2 149.6)" fill="rgb(20,62,15)"/>
<ellipse cx="468.0" cy="167.6" rx="0.96" ry="0.64" transform="rotate(91 468.0 167.6)" fill="rgb(24,73,18)"/>
<ellipse cx="505.1" cy="116.7" rx="0.96" ry="0.64" transform="rotate(32 505.1 116.7)" fill="rgb(18,55,14)"/>
</g></g>
<line x1="512.00" y1="181.50" x2="517.00" y2="181.50" stroke="#fff" stroke-width="1.2" stroke-linecap="butt"/>
<text x="514.50" y="180.20" font-size="2.4" font-weight="normal" text-anchor="middle" fill="#cfcfcf">100 μm</text>
<text x="290.00" y="218.00" font-size="14.4" font-weight="normal" text-anchor="start" >f</text>
<text x="410.40" y="209.60" font-size="9.2" font-weight="bold" text-anchor="middle" >LPO</text>
<line x1="357.00" y1="212.20" x2="463.30" y2="212.20" stroke="#000" stroke-width="1.5" stroke-linecap="butt"/>
<text x="361.00" y="223.20" font-size="8.6" font-weight="bold" text-anchor="middle" >Control</text>
<text x="468.80" y="223.20" font-size="8.6" font-weight="bold" text-anchor="middle" >Erastin</text>
<text x="301.30" y="268.10" font-size="8.4" font-weight="bold" text-anchor="middle" >NF</text>
<text x="301.30" y="350.10" font-size="8.4" font-weight="bold" text-anchor="middle" >SF</text>
<defs><filter id="g3" x="-5%" y="-5%" width="110%" height="110%"><feGaussianBlur stdDeviation="0.7"/></filter></defs>
<rect x="308.50" y="226.90" width="105.30" height="78.60" fill="#090605" />
<clipPath id="cf1"><rect x="308.5" y="226.9" width="105.30" height="78.60"/></clipPath><g clip-path="url(#cf1)"><g filter="url(#g3)">
<path d="M348.1 239.0Q346.8 236.6 346.8 232.3" fill="none" stroke="rgb(12,41,11)" stroke-width="0.9" stroke-linecap="round"/>
<path d="M350.9 234.8Q349.3 232.7 346.5 229.1" fill="none" stroke="rgb(9,20,8)" stroke-width="0.9" stroke-linecap="round"/>
<path d="M343.1 246.5Q342.8 245.2 342.4 242.0" fill="none" stroke="rgb(11,37,10)" stroke-width="0.9" stroke-linecap="round"/>
<path d="M356.9 258.6Q355.0 254.6 352.4 251.8" fill="none" stroke="rgb(13,47,12)" stroke-width="0.9" stroke-linecap="round"/>
<path d="M345.6 288.7Q345.2 286.3 344.4 284.0" fill="none" stroke="rgb(10,26,9)" stroke-width="0.9" stroke-linecap="round"/>
<path d="M351.9 255.4Q352.5 252.9 352.6 250.3" fill="none" stroke="rgb(9,22,8)" stroke-width="0.9" stroke-linecap="round"/>
<path d="M361.8 237.4Q363.8 236.3 364.2 234.6" fill="none" stroke="rgb(10,30,9)" stroke-width="0.9" stroke-linecap="round"/>
<path d="M354.9 245.8Q355.9 245.7 357.8 244.2" fill="none" stroke="rgb(12,41,11)" stroke-width="0.9" stroke-linecap="round"/>
<path d="M317.9 307.3Q317.5 303.8 318.0 300.9" fill="none" stroke="rgb(12,44,11)" stroke-width="0.9" stroke-linecap="round"/>
<path d="M315.0 281.2Q315.2 276.6 314.1 274.0" fill="none" stroke="rgb(11,33,10)" stroke-width="0.9" stroke-linecap="round"/>
<path d="M322.3 292.9Q322.1 289.8 323.8 288.2" fill="none" stroke="rgb(9,22,8)" stroke-width="0.9" stroke-linecap="round"/>
<path d="M399.6 233.9Q398.2 229.6 396.0 225.0" fill="none" stroke="rgb(13,47,12)" stroke-width="0.9" stroke-linecap="round"/>
<path d="M367.3 271.3Q365.6 270.2 364.6 267.9" fill="none" stroke="rgb(11,38,10)" stroke-width="0.9" stroke-linecap="round"/>
<path d="M342.8 259.8Q346.0 255.5 348.9 252.4" fill="none" stroke="rgb(12,40,11)" stroke-width="0.9" stroke-linecap="round"/>
<path d="M316.6 239.5Q314.5 238.4 313.0 236.9" fill="none" stroke="rgb(13,48,12)" stroke-width="0.9" stroke-linecap="round"/>
<path d="M405.3 251.6Q407.2 248.3 410.1 246.1" fill="none" stroke="rgb(13,48,12)" stroke-width="0.9" stroke-linecap="round"/>
<path d="M355.9 259.2Q353.7 258.6 352.3 256.2" fill="none" stroke="rgb(10,27,9)" stroke-width="0.9" stroke-linecap="round"/>
<path d="M320.3 247.3Q323.0 245.2 325.1 243.4" fill="none" stroke="rgb(12,39,11)" stroke-width="0.9" stroke-linecap="round"/>
<path d="M315.7 242.3Q316.0 240.7 317.2 237.6" fill="none" stroke="rgb(10,25,9)" stroke-width="0.9" stroke-linecap="round"/>
<path d="M334.4 254.7Q334.6 253.4 333.8 250.7" fill="none" stroke="rgb(12,38,11)" stroke-width="0.9" stroke-linecap="round"/>
<path d="M361.0 287.0Q364.6 284.1 366.8 281.9" fill="none" stroke="rgb(11,34,10)" stroke-width="0.9" stroke-linecap="round"/>
<path d="M349.3 284.5Q349.6 282.4 348.1 281.4" fill="none" stroke="rgb(11,36,10)" stroke-width="0.9" stroke-linecap="round"/>
<path d="M397.8 263.0Q394.5 259.8 392.1 256.6" fill="none" stroke="rgb(8,18,7)" stroke-width="0.9" stroke-linecap="round"/>
<path d="M326.6 241.2Q327.5 238.2 328.1 236.9" fill="none" stroke="rgb(13,47,12)" stroke-width="0.9" stroke-linecap="round"/>
<path d="M352.4 268.1Q353.6 263.3 355.5 259.8" fill="none" stroke="rgb(12,42,11)" stroke-width="0.9" stroke-linecap="round"/>
<path d="M341.5 299.1Q342.1 298.2 344.4 295.9" fill="none" stroke="rgb(9,23,8)" stroke-width="0.9" stroke-linecap="round"/>
<path d="M352.0 301.1Q352.0 297.8 351.0 293.0" fill="none" stroke="rgb(13,48,12)" stroke-width="0.9" stroke-linecap="round"/>
<path d="M353.6 274.7Q358.3 272.6 362.2 271.7" fill="none" stroke="rgb(10,27,9)" stroke-width="0.9" stroke-linecap="round"/>
<path d="M328.2 267.6Q325.4 264.7 321.3 262.2" fill="none" stroke="rgb(11,37,10)" stroke-width="0.9" stroke-linecap="round"/>
<path d="M315.8 282.4Q316.1 278.3 317.2 273.6" fill="none" stroke="rgb(12,41,11)" stroke-width="0.9" stroke-linecap="round"/>
<path d="M355.9 245.7Q357.7 243.4 360.1 240.4" fill="none" stroke="rgb(11,33,10)" stroke-width="0.9" stroke-linecap="round"/>
<path d="M359.3 234.9Q360.5 233.2 362.4 230.8" fill="none" stroke="rgb(8,18,7)" stroke-width="0.9" stroke-linecap="round"/>
<path d="M397.4 295.8Q395.9 292.4 395.4 288.9" fill="none" stroke="rgb(12,43,11)" stroke-width="0.9" stroke-linecap="round"/>
<path d="M391.4 277.8Q389.5 274.1 386.9 271.7" fill="none" stroke="rgb(9,22,8)" stroke-width="0.9" stroke-linecap="round"/>
<path d="M409.6 288.0Q409.8 283.5 409.9 278.3" fill="none" stroke="rgb(9,22,8)" stroke-width="0.9" stroke-linecap="round"/>
<path d="M320.1 294.5Q322.4 292.3 325.9 291.6" fill="none" stroke="rgb(12,39,11)" stroke-width="0.9" stroke-linecap="round"/>
<path d="M398.8 243.0Q401.7 240.7 403.4 240.1" fill="none" stroke="rgb(13,46,12)" stroke-width="0.9" stroke-linecap="round"/>
<path d="M318.3 281.2Q319.1 279.2 319.8 278.2" fill="none" stroke="rgb(13,51,12)" stroke-width="0.9" stroke-linecap="round"/>
<path d="M347.5 263.4Q346.0 261.3 345.8 260.1" fill="none" stroke="rgb(9,19,8)" stroke-width="0.9" stroke-linecap="round"/>
<path d="M376.9 257.6Q373.9 254.8 369.4 252.6" fill="none" stroke="rgb(12,41,11)" stroke-width="0.9" stroke-linecap="round"/>
<path d="M334.8 300.0Q337.2 298.8 339.0 295.7" fill="none" stroke="rgb(13,51,12)" stroke-width="0.9" stroke-linecap="round"/>
<path d="M320.9 280.8Q322.6 278.6 325.8 274.7" fill="none" stroke="rgb(12,39,11)" stroke-width="0.9" stroke-linecap="round"/>
<path d="M317.8 269.4Q321.4 267.6 325.7 264.0" fill="none" stroke="rgb(10,25,9)" stroke-width="0.9" stroke-linecap="round"/>
<path d="M345.9 301.4Q344.2 297.9 344.3 294.6" fill="none" stroke="rgb(13,51,12)" stroke-width="0.9" stroke-linecap="round"/>
<path d="M343.9 294.8Q347.7 293.9 349.7 291.7" fill="none" stroke="rgb(12,41,11)" stroke-width="0.9" stroke-linecap="round"/>
<path d="M389.3 269.5Q391.2 267.8 393.6 264.6" fill="none" stroke="rgb(8,17,7)" stroke-width="0.9" stroke-linecap="round"/>
<path d="M322.7 261.9Q326.0 259.6 327.5 258.8" fill="none" stroke="rgb(12,40,11)" stroke-width="0.9" stroke-linecap="round"/>
<path d="M310.5 278.4Q309.2 275.2 306.3 272.3" fill="none" stroke="rgb(9,19,8)" stroke-width="0.9" stroke-linecap="round"/>
<path d="M363.7 274.7Q366.7 272.3 368.5 271.6" fill="none" stroke="rgb(10,26,9)" stroke-width="0.9" stroke-linecap="round"/>
<path d="M324.2 243.0Q325.0 240.6 325.0 238.3" fill="none" stroke="rgb(8,18,7)" stroke-width="0.9" stroke-linecap="round"/>
<path d="M349.6 265.3Q347.8 263.6 347.1 262.9" fill="none" stroke="rgb(8,17,7)" stroke-width="0.9" stroke-linecap="round"/>
<path d="M357.1 236.4Q359.6 234.0 363.7 230.5" fill="none" stroke="rgb(10,26,9)" stroke-width="0.9" stroke-linecap="round"/>
<path d="M318.1 310.2Q314.4 307.7 310.7 304.7" fill="none" stroke="rgb(13,51,12)" stroke-width="0.9" stroke-linecap="round"/>
<path d="M391.3 301.5Q393.8 298.1 394.3 294.3" fill="none" stroke="rgb(13,45,12)" stroke-width="0.9" stroke-linecap="round"/>
<path d="M361.7 247.8Q361.4 244.5 362.8 242.1" fill="none" stroke="rgb(11,37,10)" stroke-width="0.9" stroke-linecap="round"/>
<path d="M344.7 293.9Q342.7 291.7 342.1 291.4" fill="none" stroke="rgb(11,36,10)" stroke-width="0.9" stroke-linecap="round"/>
<path d="M316.2 290.5Q315.2 286.0 313.3 282.1" fill="none" stroke="rgb(12,44,11)" stroke-width="0.9" stroke-linecap="round"/>
<path d="M330.5 250.8Q332.8 249.1 334.6 247.6" fill="none" stroke="rgb(9,19,8)" stroke-width="0.9" stroke-linecap="round"/>
<path d="M316.7 286.6Q314.7 282.4 314.4 278.9" fill="none" stroke="rgb(13,47,12)" stroke-width="0.9" stroke-linecap="round"/>
<path d="M352.7 289.0Q350.3 286.3 349.8 283.2" fill="none" stroke="rgb(11,36,10)" stroke-width="0.9" stroke-linecap="round"/>
<path d="M394.0 308.0Q398.5 305.2 401.2 302.9" fill="none" stroke="rgb(10,27,9)" stroke-width="0.9" stroke-linecap="round"/>
<path d="M349.1 288.1Q349.7 284.5 351.4 281.3" fill="none" stroke="rgb(12,42,11)" stroke-width="0.9" stroke-linecap="round"/>
<path d="M351.2 265.0Q351.4 259.8 352.6 256.3" fill="none" stroke="rgb(12,42,11)" stroke-width="0.9" stroke-linecap="round"/>
<path d="M328.8 237.1Q330.8 235.5 334.4 233.3" fill="none" stroke="rgb(12,40,11)" stroke-width="0.9" stroke-linecap="round"/>
<path d="M353.7 258.8Q353.9 257.4 356.0 254.7" fill="none" stroke="rgb(9,22,8)" stroke-width="0.9" stroke-linecap="round"/>
<path d="M343.0 288.6Q340.0 285.8 336.6 282.5" fill="none" stroke="rgb(9,21,8)" stroke-width="0.9" stroke-linecap="round"/>
<path d="M387.5 281.6Q384.8 279.0 381.2 276.0" fill="none" stroke="rgb(10,31,9)" stroke-width="0.9" stroke-linecap="round"/>
<path d="M398.2 274.3Q397.9 272.7 396.8 271.0" fill="none" stroke="rgb(13,45,12)" stroke-width="0.9" stroke-linecap="round"/>
<path d="M404.7 244.6Q403.0 243.5 402.4 241.4" fill="none" stroke="rgb(8,16,7)" stroke-width="0.9" stroke-linecap="round"/>
<path d="M364.9 233.7Q364.9 231.4 363.2 230.1" fill="none" stroke="rgb(9,19,8)" stroke-width="0.9" stroke-linecap="round"/>
<path d="M348.6 297.5Q346.7 294.2 345.7 289.1" fill="none" stroke="rgb(13,50,12)" stroke-width="0.9" stroke-linecap="round"/>
<path d="M339.4 269.7Q340.6 269.0 342.8 267.0" fill="none" stroke="rgb(10,28,9)" stroke-width="0.9" stroke-linecap="round"/>
<path d="M368.4 293.9Q366.7 291.9 366.7 291.1" fill="none" stroke="rgb(10,25,9)" stroke-width="0.9" stroke-linecap="round"/>
<path d="M346.0 276.2Q346.3 275.7 347.7 273.3" fill="none" stroke="rgb(13,46,12)" stroke-width="0.9" stroke-linecap="round"/>
<path d="M411.8 265.0Q409.8 263.9 407.2 261.7" fill="none" stroke="rgb(11,32,10)" stroke-width="0.9" stroke-linecap="round"/>
<path d="M370.9 258.8Q370.1 257.3 368.8 255.4" fill="none" stroke="rgb(9,20,8)" stroke-width="0.9" stroke-linecap="round"/>
<path d="M324.1 307.6Q325.1 305.3 326.2 301.4" fill="none" stroke="rgb(8,17,7)" stroke-width="0.9" stroke-linecap="round"/>
<path d="M407.5 258.1Q405.2 256.6 403.9 253.1" fill="none" stroke="rgb(9,20,8)" stroke-width="0.9" stroke-linecap="round"/>
<path d="M345.4 230.6Q344.4 227.8 342.9 223.3" fill="none" stroke="rgb(12,44,11)" stroke-width="0.9" stroke-linecap="round"/>
<path d="M337.9 281.5Q336.8 278.0 336.7 275.7" fill="none" stroke="rgb(9,22,8)" stroke-width="0.9" stroke-linecap="round"/>
<path d="M356.7 248.6Q356.4 246.7 356.2 244.9" fill="none" stroke="rgb(10,29,9)" stroke-width="0.9" stroke-linecap="round"/>
<path d="M381.7 276.6Q383.7 274.4 384.4 271.9" fill="none" stroke="rgb(8,18,7)" stroke-width="0.9" stroke-linecap="round"/>
<path d="M403.3 271.8Q405.8 270.6 407.8 268.4" fill="none" stroke="rgb(11,33,10)" stroke-width="0.9" stroke-linecap="round"/>
<path d="M339.3 308.6Q339.8 305.2 338.5 303.0" fill="none" stroke="rgb(8,18,7)" stroke-width="0.9" stroke-linecap="round"/>
<path d="M395.5 277.6Q395.0 276.0 395.0 274.0" fill="none" stroke="rgb(8,16,7)" stroke-width="0.9" stroke-linecap="round"/>
<path d="M316.0 237.4Q319.0 236.7 322.0 235.0" fill="none" stroke="rgb(13,48,12)" stroke-width="0.9" stroke-linecap="round"/>
<path d="M348.9 276.6Q352.9 273.0 356.1 271.3" fill="none" stroke="rgb(9,25,8)" stroke-width="0.9" stroke-linecap="round"/>
<path d="M328.8 267.0Q326.9 266.3 326.7 264.3" fill="none" stroke="rgb(13,45,12)" stroke-width="0.9" stroke-linecap="round"/>
<path d="M413.0 230.5Q411.8 228.0 409.2 225.8" fill="none" stroke="rgb(13,49,12)" stroke-width="0.9" stroke-linecap="round"/>
<path d="M341.6 256.4Q338.3 254.5 335.8 251.3" fill="none" stroke="rgb(13,45,12)" stroke-width="0.9" stroke-linecap="round"/>
<path d="M356.0 268.6Q355.0 265.9 353.2 264.8" fill="none" stroke="rgb(11,37,10)" stroke-width="0.9" stroke-linecap="round"/>
<path d="M366.7 282.2Q366.9 279.0 367.9 276.1" fill="none" stroke="rgb(8,17,7)" stroke-width="0.9" stroke-linecap="round"/>
<path d="M412.7 304.5Q414.0 302.8 416.3 301.9" fill="none" stroke="rgb(9,21,8)" stroke-width="0.9" stroke-linecap="round"/>
<path d="M327.2 301.4Q330.7 300.1 332.3 298.1" fill="none" stroke="rgb(9,21,8)" stroke-width="0.9" stroke-linecap="round"/>
<path d="M333.9 306.3Q335.4 304.2 335.7 302.2" fill="none" stroke="rgb(9,19,8)" stroke-width="0.9" stroke-linecap="round"/>
<path d="M360.5 232.8Q364.4 230.3 369.9 229.7" fill="none" stroke="rgb(11,33,10)" stroke-width="0.9" stroke-linecap="round"/>
<path d="M358.8 294.4Q359.1 292.6 360.5 290.9" fill="none" stroke="rgb(10,29,9)" stroke-width="0.9" stroke-linecap="round"/>
<path d="M390.2 262.1Q389.5 259.3 389.4 256.1" fill="none" stroke="rgb(10,27,9)" stroke-width="0.9" stroke-linecap="round"/>
<path d="M329.7 304.5Q331.5 302.3 333.9 302.1" fill="none" stroke="rgb(9,20,8)" stroke-width="0.9" stroke-linecap="round"/>
<path d="M341.8 260.0Q338.6 257.2 335.7 255.4" fill="none" stroke="rgb(12,39,11)" stroke-width="0.9" stroke-linecap="round"/>
<path d="M315.1 306.4Q316.4 301.9 319.0 297.6" fill="none" stroke="rgb(9,24,8)" stroke-width="0.9" stroke-linecap="round"/>
<path d="M321.8 249.2Q317.9 247.3 315.7 243.5" fill="none" stroke="rgb(10,27,9)" stroke-width="0.9" stroke-linecap="round"/>
<path d="M315.0 232.1Q313.2 230.9 312.8 228.3" fill="none" stroke="rgb(11,34,10)" stroke-width="0.9" stroke-linecap="round"/>
<path d="M310.1 252.7Q310.5 250.2 309.5 249.5" fill="none" stroke="rgb(9,22,8)" stroke-width="0.9" stroke-linecap="round"/>
<path d="M381.7 243.0Q381.4 237.9 382.9 234.7" fill="none" stroke="rgb(10,28,9)" stroke-width="0.9" stroke-linecap="round"/>
<path d="M360.1 259.7Q358.2 255.5 356.1 253.4" fill="none" stroke="rgb(8,18,7)" stroke-width="0.9" stroke-linecap="round"/>
<path d="M390.0 250.4Q393.0 247.2 395.8 243.0" fill="none" stroke="rgb(13,51,12)" stroke-width="0.9" stroke-linecap="round"/>
<path d="M373.5 286.1Q376.2 284.4 378.4 282.7" fill="none" stroke="rgb(10,27,9)" stroke-width="0.9" stroke-linecap="round"/>
<path d="M354.0 267.4Q351.7 264.4 349.8 261.9" fill="none" stroke="rgb(12,39,11)" stroke-width="0.9" stroke-linecap="round"/>
<path d="M365.3 293.4Q366.2 289.3 368.6 284.0" fill="none" stroke="rgb(12,43,11)" stroke-width="0.9" stroke-linecap="round"/>
</g><g filter="url(#g1)">
<ellipse cx="316.7" cy="243.7" rx="0.92" ry="0.46" transform="rotate(89 316.7 243.7)" fill="rgb(19,58,14)"/>
<ellipse cx="384.3" cy="234.8" rx="0.90" ry="0.45" transform="rotate(94 384.3 234.8)" fill="rgb(21,65,16)"/>
<ellipse cx="408.0" cy="296.2" rx="0.56" ry="0.28" transform="rotate(136 408.0 296.2)" fill="rgb(20,60,15)"/>
<ellipse cx="321.8" cy="227.6" rx="0.90" ry="0.45" transform="rotate(151 321.8 227.6)" fill="rgb(24,73,18)"/>
<ellipse cx="408.9" cy="242.8" rx="0.61" ry="0.30" transform="rotate(176 408.9 242.8)" fill="rgb(16,50,12)"/>
<ellipse cx="320.3" cy="239.4" rx="0.58" ry="0.29" transform="rotate(7 320.3 239.4)" fill="rgb(15,47,12)"/>
<ellipse cx="345.7" cy="239.7" rx="0.93" ry="0.47" transform="rotate(30 345.7 239.7)" fill="rgb(19,58,14)"/>
<ellipse cx="394.3" cy="284.9" rx="0.79" ry="0.40" transform="rotate(139 394.3 284.9)" fill="rgb(22,67,16)"/>
<ellipse cx="370.3" cy="244.9" rx="0.66" ry="0.33" transform="rotate(72 370.3 244.9)" fill="rgb(19,59,14)"/>
<ellipse cx="412.5" cy="260.4" rx="0.75" ry="0.38" transform="rotate(146 412.5 260.4)" fill="rgb(16,49,12)"/>
<ellipse cx="355.4" cy="282.1" rx="0.58" ry="0.29" transform="rotate(119 355.4 282.1)" fill="rgb(16,50,12)"/>
<ellipse cx="313.6" cy="250.6" rx="0.64" ry="0.32" transform="rotate(7 313.6 250.6)" fill="rgb(20,61,15)"/>
<ellipse cx="309.2" cy="301.7" rx="0.94" ry="0.47" transform="rotate(89 309.2 301.7)" fill="rgb(23,72,17)"/>
<ellipse cx="409.0" cy="294.7" rx="0.77" ry="0.39" transform="rotate(92 409.0 294.7)" fill="rgb(22,69,17)"/>
<ellipse cx="332.2" cy="256.5" rx="0.64" ry="0.32" transform="rotate(153 332.2 256.5)" fill="rgb(24,73,18)"/>
<ellipse cx="362.2" cy="274.4" rx="0.82" ry="0.41" transform="rotate(25 362.2 274.4)" fill="rgb(25,77,18)"/>
<ellipse cx="334.6" cy="227.0" rx="0.94" ry="0.47" transform="rotate(107 334.6 227.0)" fill="rgb(15,48,12)"/>
<ellipse cx="410.5" cy="288.3" rx="0.95" ry="0.47" transform="rotate(166 410.5 288.3)" fill="rgb(19,58,14)"/>
<ellipse cx="356.6" cy="233.4" rx="0.63" ry="0.31" transform="rotate(66 356.6 233.4)" fill="rgb(19,58,14)"/>
<ellipse cx="317.2" cy="283.0" rx="0.64" ry="0.32" transform="rotate(140 317.2 283.0)" fill="rgb(27,83,20)"/>
<ellipse cx="370.0" cy="264.8" rx="0.71" ry="0.36" transform="rotate(148 370.0 264.8)" fill="rgb(26,80,19)"/>
<ellipse cx="312.2" cy="302.8" rx="0.56" ry="0.28" transform="rotate(159 312.2 302.8)" fill="rgb(17,53,13)"/>
<ellipse cx="384.5" cy="279.9" rx="0.71" ry="0.36" transform="rotate(21 384.5 279.9)" fill="rgb(24,75,18)"/>
<ellipse cx="342.0" cy="301.9" rx="0.65" ry="0.33" transform="rotate(80 342.0 301.9)" fill="rgb(27,83,20)"/>
<ellipse cx="355.9" cy="298.0" rx="0.89" ry="0.45" transform="rotate(46 355.9 298.0)" fill="rgb(15,47,12)"/>
<ellipse cx="366.3" cy="237.0" rx="0.91" ry="0.46" transform="rotate(91 366.3 237.0)" fill="rgb(16,50,12)"/>
<ellipse cx="410.8" cy="294.9" rx="0.59" ry="0.29" transform="rotate(106 410.8 294.9)" fill="rgb(24,74,18)"/>
<ellipse cx="413.0" cy="266.4" rx="0.63" ry="0.32" transform="rotate(178 413.0 266.4)" fill="rgb(16,49,12)"/>
<ellipse cx="411.4" cy="246.3" rx="0.85" ry="0.42" transform="rotate(91 411.4 246.3)" fill="rgb(19,58,14)"/>
<ellipse cx="328.0" cy="304.3" rx="0.71" ry="0.35" transform="rotate(4 328.0 304.3)" fill="rgb(22,69,17)"/>
<ellipse cx="381.9" cy="288.6" rx="0.72" ry="0.48" transform="rotate(103 381.9 288.6)" fill="rgb(41,126,30)"/>
<ellipse cx="328.3" cy="242.7" rx="0.60" ry="0.40" transform="rotate(114 328.3 242.7)" fill="rgb(31,94,23)"/>
<ellipse cx="364.3" cy="255.8" rx="0.60" ry="0.40" transform="rotate(80 364.3 255.8)" fill="rgb(31,94,23)"/>
</g></g>
<line x1="384.00" y1="300.70" x2="393.00" y2="300.70" stroke="#fff" stroke-width="1.6" stroke-linecap="butt"/>
<text x="388.50" y="299.40" font-size="2.4" font-weight="normal" text-anchor="middle" fill="#cfcfcf">100 μm</text>
<rect x="416.10" y="226.90" width="105.50" height="78.60" fill="#090605" />
<clipPath id="cf2"><rect x="416.1" y="226.9" width="105.50" height="78.60"/></clipPath><g clip-path="url(#cf2)"><g filter="url(#g3)">
<path d="M456.3 248.5Q455.4 245.2 455.3 242.9" fill="none" stroke="rgb(13,48,12)" stroke-width="0.9" stroke-linecap="round"/>
<path d="M506.0 291.4Q507.4 287.2 509.0 284.4" fill="none" stroke="rgb(13,46,12)" stroke-width="0.9" stroke-linecap="round"/>
<path d="M431.9 288.2Q431.5 284.5 432.7 280.4" fill="none" stroke="rgb(11,37,10)" stroke-width="0.9" stroke-linecap="round"/>
<path d="M461.7 252.6Q461.6 248.9 461.3 247.1" fill="none" stroke="rgb(11,33,10)" stroke-width="0.9" stroke-linecap="round"/>
<path d="M426.5 241.5Q427.2 238.3 427.5 236.3" fill="none" stroke="rgb(11,38,10)" stroke-width="0.9" stroke-linecap="round"/>
<path d="M509.8 298.1Q507.9 296.8 508.0 294.8" fill="none" stroke="rgb(9,19,8)" stroke-width="0.9" stroke-linecap="round"/>
<path d="M506.8 248.5Q507.9 246.1 509.3 242.8" fill="none" stroke="rgb(12,42,11)" stroke-width="0.9" stroke-linecap="round"/>
<path d="M473.0 300.9Q473.9 300.7 476.6 299.1" fill="none" stroke="rgb(8,18,7)" stroke-width="0.9" stroke-linecap="round"/>
<path d="M508.4 290.5Q508.4 286.9 508.8 282.5" fill="none" stroke="rgb(13,48,12)" stroke-width="0.9" stroke-linecap="round"/>
<path d="M425.1 272.5Q425.7 270.6 425.4 267.9" fill="none" stroke="rgb(10,31,9)" stroke-width="0.9" stroke-linecap="round"/>
<path d="M459.4 266.2Q456.7 262.5 454.5 258.0" fill="none" stroke="rgb(9,24,8)" stroke-width="0.9" stroke-linecap="round"/>
<path d="M501.3 280.1Q498.3 275.9 496.6 273.5" fill="none" stroke="rgb(9,23,8)" stroke-width="0.9" stroke-linecap="round"/>
<path d="M435.2 283.6Q435.3 279.5 435.5 276.8" fill="none" stroke="rgb(11,38,10)" stroke-width="0.9" stroke-linecap="round"/>
<path d="M456.6 288.1Q460.0 286.9 463.4 283.8" fill="none" stroke="rgb(11,35,10)" stroke-width="0.9" stroke-linecap="round"/>
<path d="M510.4 296.1Q512.1 293.0 515.3 289.9" fill="none" stroke="rgb(9,21,8)" stroke-width="0.9" stroke-linecap="round"/>
<path d="M513.1 263.0Q514.2 259.4 516.5 256.2" fill="none" stroke="rgb(12,40,11)" stroke-width="0.9" stroke-linecap="round"/>
<path d="M514.4 306.9Q513.4 303.5 511.1 298.5" fill="none" stroke="rgb(11,38,10)" stroke-width="0.9" stroke-linecap="round"/>
<path d="M445.6 277.2Q443.3 274.3 442.6 271.5" fill="none" stroke="rgb(13,46,12)" stroke-width="0.9" stroke-linecap="round"/>
<path d="M462.6 268.9Q464.9 267.6 466.9 266.9" fill="none" stroke="rgb(11,32,10)" stroke-width="0.9" stroke-linecap="round"/>
<path d="M480.5 310.4Q482.0 307.9 483.5 303.6" fill="none" stroke="rgb(10,30,9)" stroke-width="0.9" stroke-linecap="round"/>
<path d="M477.3 264.4Q479.3 261.0 482.7 257.1" fill="none" stroke="rgb(11,34,10)" stroke-width="0.9" stroke-linecap="round"/>
<path d="M472.1 232.1Q469.7 229.6 468.4 226.3" fill="none" stroke="rgb(11,34,10)" stroke-width="0.9" stroke-linecap="round"/>
<path d="M420.8 256.3Q420.2 252.2 420.8 249.3" fill="none" stroke="rgb(12,41,11)" stroke-width="0.9" stroke-linecap="round"/>
<path d="M467.2 290.7Q470.3 290.0 472.1 289.1" fill="none" stroke="rgb(10,26,9)" stroke-width="0.9" stroke-linecap="round"/>
<path d="M510.2 255.6Q511.7 253.7 514.8 252.3" fill="none" stroke="rgb(12,44,11)" stroke-width="0.9" stroke-linecap="round"/>
<path d="M453.1 299.5Q452.6 294.5 454.0 290.2" fill="none" stroke="rgb(8,18,7)" stroke-width="0.9" stroke-linecap="round"/>
<path d="M513.5 256.0Q517.1 252.6 519.2 248.6" fill="none" stroke="rgb(13,51,12)" stroke-width="0.9" stroke-linecap="round"/>
<path d="M510.7 303.6Q509.2 300.0 505.8 295.4" fill="none" stroke="rgb(10,25,9)" stroke-width="0.9" stroke-linecap="round"/>
<path d="M508.2 292.1Q506.6 289.9 504.8 288.7" fill="none" stroke="rgb(12,40,11)" stroke-width="0.9" stroke-linecap="round"/>
<path d="M489.1 302.8Q487.6 302.0 487.9 299.8" fill="none" stroke="rgb(10,25,9)" stroke-width="0.9" stroke-linecap="round"/>
<path d="M450.0 252.8Q450.2 250.7 448.5 249.4" fill="none" stroke="rgb(13,46,12)" stroke-width="0.9" stroke-linecap="round"/>
<path d="M458.8 273.8Q462.0 269.9 464.1 265.7" fill="none" stroke="rgb(10,29,9)" stroke-width="0.9" stroke-linecap="round"/>
<path d="M486.2 263.7Q485.8 260.9 485.9 259.3" fill="none" stroke="rgb(10,26,9)" stroke-width="0.9" stroke-linecap="round"/>
<path d="M460.5 237.0Q463.9 235.0 466.3 232.4" fill="none" stroke="rgb(13,51,12)" stroke-width="0.9" stroke-linecap="round"/>
<path d="M464.3 236.5Q465.5 230.8 465.6 226.9" fill="none" stroke="rgb(13,50,12)" stroke-width="0.9" stroke-linecap="round"/>
<path d="M516.0 275.7Q517.5 274.4 520.3 271.9" fill="none" stroke="rgb(13,48,12)" stroke-width="0.9" stroke-linecap="round"/>
<path d="M484.0 304.5Q482.8 303.1 479.8 299.9" fill="none" stroke="rgb(10,29,9)" stroke-width="0.9" stroke-linecap="round"/>
<path d="M510.9 271.8Q511.7 268.8 510.5 266.8" fill="none" stroke="rgb(9,22,8)" stroke-width="0.9" stroke-linecap="round"/>
<path d="M444.6 269.6Q445.7 266.6 446.2 265.3" fill="none" stroke="rgb(8,16,7)" stroke-width="0.9" stroke-linecap="round"/>
<path d="M510.8 305.4Q514.8 300.8 516.8 297.7" fill="none" stroke="rgb(9,22,8)" stroke-width="0.9" stroke-linecap="round"/>
<path d="M453.2 230.5Q454.0 229.6 456.5 229.3" fill="none" stroke="rgb(12,41,11)" stroke-width="0.9" stroke-linecap="round"/>
<path d="M431.7 246.0Q429.1 242.6 427.3 237.4" fill="none" stroke="rgb(9,21,8)" stroke-width="0.9" stroke-linecap="round"/>
<path d="M494.9 244.9Q496.5 243.7 499.0 243.1" fill="none" stroke="rgb(11,33,10)" stroke-width="0.9" stroke-linecap="round"/>
<path d="M505.4 270.0Q508.3 267.9 510.2 267.3" fill="none" stroke="rgb(10,29,9)" stroke-width="0.9" stroke-linecap="round"/>
<path d="M426.2 265.9Q424.7 264.1 423.2 260.5" fill="none" stroke="rgb(9,21,8)" stroke-width="0.9" stroke-linecap="round"/>
<path d="M449.7 237.1Q450.3 234.4 451.8 232.5" fill="none" stroke="rgb(10,25,9)" stroke-width="0.9" stroke-linecap="round"/>
<path d="M515.3 271.4Q519.3 269.4 521.5 266.9" fill="none" stroke="rgb(11,37,10)" stroke-width="0.9" stroke-linecap="round"/>
<path d="M469.2 248.4Q469.8 245.6 470.1 244.4" fill="none" stroke="rgb(12,39,11)" stroke-width="0.9" stroke-linecap="round"/>
<path d="M498.5 277.8Q497.3 273.9 496.5 269.1" fill="none" stroke="rgb(13,50,12)" stroke-width="0.9" stroke-linecap="round"/>
<path d="M510.3 253.3Q507.4 249.5 505.7 246.4" fill="none" stroke="rgb(12,42,11)" stroke-width="0.9" stroke-linecap="round"/>
<path d="M505.3 278.4Q505.7 275.0 506.4 273.2" fill="none" stroke="rgb(13,46,12)" stroke-width="0.9" stroke-linecap="round"/>
<path d="M465.7 273.5Q467.7 271.3 469.6 270.5" fill="none" stroke="rgb(9,22,8)" stroke-width="0.9" stroke-linecap="round"/>
<path d="M461.6 239.1Q462.6 237.5 464.3 237.6" fill="none" stroke="rgb(9,22,8)" stroke-width="0.9" stroke-linecap="round"/>
<path d="M453.8 297.5Q456.7 292.8 458.4 288.7" fill="none" stroke="rgb(13,50,12)" stroke-width="0.9" stroke-linecap="round"/>
<path d="M505.4 306.2Q505.9 303.6 505.1 300.2" fill="none" stroke="rgb(10,30,9)" stroke-width="0.9" stroke-linecap="round"/>
<path d="M464.5 230.4Q463.7 227.8 464.5 224.6" fill="none" stroke="rgb(11,35,10)" stroke-width="0.9" stroke-linecap="round"/>
<path d="M430.0 283.9Q430.2 282.8 428.6 279.8" fill="none" stroke="rgb(12,41,11)" stroke-width="0.9" stroke-linecap="round"/>
<path d="M496.8 242.6Q497.8 237.8 500.6 233.5" fill="none" stroke="rgb(8,17,7)" stroke-width="0.9" stroke-linecap="round"/>
<path d="M424.3 306.7Q423.5 304.6 422.9 302.6" fill="none" stroke="rgb(10,25,9)" stroke-width="0.9" stroke-linecap="round"/>
<path d="M511.9 257.8Q511.1 256.7 510.5 255.2" fill="none" stroke="rgb(8,17,7)" stroke-width="0.9" stroke-linecap="round"/>
<path d="M521.3 271.9Q525.8 269.1 528.7 266.1" fill="none" stroke="rgb(12,38,11)" stroke-width="0.9" stroke-linecap="round"/>
<path d="M417.1 288.6Q419.0 286.9 420.4 286.4" fill="none" stroke="rgb(10,25,9)" stroke-width="0.9" stroke-linecap="round"/>
<path d="M485.3 292.1Q484.4 288.4 485.2 285.7" fill="none" stroke="rgb(8,18,7)" stroke-width="0.9" stroke-linecap="round"/>
<path d="M487.5 247.2Q488.6 243.8 488.5 242.3" fill="none" stroke="rgb(11,34,10)" stroke-width="0.9" stroke-linecap="round"/>
<path d="M482.2 290.5Q485.1 288.8 486.3 286.0" fill="none" stroke="rgb(13,51,12)" stroke-width="0.9" stroke-linecap="round"/>
<path d="M479.3 300.3Q482.2 298.2 483.5 295.1" fill="none" stroke="rgb(12,40,11)" stroke-width="0.9" stroke-linecap="round"/>
<path d="M473.8 298.9Q471.1 294.2 468.3 291.4" fill="none" stroke="rgb(11,36,10)" stroke-width="0.9" stroke-linecap="round"/>
<path d="M507.2 267.3Q509.7 265.7 510.6 263.2" fill="none" stroke="rgb(11,37,10)" stroke-width="0.9" stroke-linecap="round"/>
<path d="M451.4 310.1Q450.5 308.5 451.0 306.7" fill="none" stroke="rgb(12,43,11)" stroke-width="0.9" stroke-linecap="round"/>
<path d="M436.0 295.4Q434.7 294.5 433.2 291.9" fill="none" stroke="rgb(13,51,12)" stroke-width="0.9" stroke-linecap="round"/>
<path d="M470.6 292.8Q471.3 290.6 472.8 286.8" fill="none" stroke="rgb(13,45,12)" stroke-width="0.9" stroke-linecap="round"/>
<path d="M493.3 293.4Q492.9 289.9 494.6 286.1" fill="none" stroke="rgb(10,30,9)" stroke-width="0.9" stroke-linecap="round"/>
<path d="M488.9 274.6Q487.1 274.0 486.1 272.8" fill="none" stroke="rgb(12,39,11)" stroke-width="0.9" stroke-linecap="round"/>
<path d="M521.5 250.1Q519.4 247.0 518.4 243.4" fill="none" stroke="rgb(13,49,12)" stroke-width="0.9" stroke-linecap="round"/>
<path d="M466.1 238.6Q466.1 236.0 466.5 234.0" fill="none" stroke="rgb(13,48,12)" stroke-width="0.9" stroke-linecap="round"/>
<path d="M436.0 260.5Q436.5 255.4 435.2 251.5" fill="none" stroke="rgb(13,50,12)" stroke-width="0.9" stroke-linecap="round"/>
<path d="M491.2 235.4Q491.6 234.8 493.2 232.9" fill="none" stroke="rgb(10,30,9)" stroke-width="0.9" stroke-linecap="round"/>
<path d="M454.9 237.1Q456.2 233.3 456.3 230.1" fill="none" stroke="rgb(10,30,9)" stroke-width="0.9" stroke-linecap="round"/>
<path d="M485.2 302.4Q484.8 298.8 484.1 293.4" fill="none" stroke="rgb(13,46,12)" stroke-width="0.9" stroke-linecap="round"/>
<path d="M456.2 245.5Q456.2 242.1 458.2 239.9" fill="none" stroke="rgb(12,42,11)" stroke-width="0.9" stroke-linecap="round"/>
<path d="M453.1 286.1Q451.0 282.3 447.4 278.9" fill="none" stroke="rgb(11,36,10)" stroke-width="0.9" stroke-linecap="round"/>
<path d="M516.4 276.7Q520.2 274.4 523.7 271.6" fill="none" stroke="rgb(12,44,11)" stroke-width="0.9" stroke-linecap="round"/>
<path d="M514.0 289.9Q514.3 287.6 514.8 285.3" fill="none" stroke="rgb(10,27,9)" stroke-width="0.9" stroke-linecap="round"/>
<path d="M520.0 258.4Q519.5 255.7 520.1 252.5" fill="none" stroke="rgb(11,35,10)" stroke-width="0.9" stroke-linecap="round"/>
<path d="M455.9 287.1Q453.2 283.7 449.8 279.5" fill="none" stroke="rgb(12,41,11)" stroke-width="0.9" stroke-linecap="round"/>
<path d="M493.3 236.3Q493.8 232.3 492.4 227.8" fill="none" stroke="rgb(13,51,12)" stroke-width="0.9" stroke-linecap="round"/>
<path d="M459.1 281.6Q462.3 279.7 467.1 278.3" fill="none" stroke="rgb(13,46,12)" stroke-width="0.9" stroke-linecap="round"/>
<path d="M438.5 267.0Q437.6 263.8 437.5 258.8" fill="none" stroke="rgb(8,17,7)" stroke-width="0.9" stroke-linecap="round"/>
<path d="M493.9 291.4Q493.7 287.2 492.6 284.2" fill="none" stroke="rgb(10,29,9)" stroke-width="0.9" stroke-linecap="round"/>
<path d="M463.1 260.4Q465.3 259.5 467.5 258.1" fill="none" stroke="rgb(13,46,12)" stroke-width="0.9" stroke-linecap="round"/>
</g><g filter="url(#g1)">
<ellipse cx="483.6" cy="228.9" rx="0.84" ry="0.42" transform="rotate(133 483.6 228.9)" fill="rgb(32,97,23)"/>
<ellipse cx="487.5" cy="297.0" rx="0.96" ry="0.48" transform="rotate(5 487.5 297.0)" fill="rgb(26,80,19)"/>
<ellipse cx="439.2" cy="266.6" rx="0.83" ry="0.42" transform="rotate(117 439.2 266.6)" fill="rgb(24,75,18)"/>
<ellipse cx="473.6" cy="244.2" rx="1.17" ry="0.59" transform="rotate(1 473.6 244.2)" fill="rgb(41,126,30)"/>
<ellipse cx="501.1" cy="281.8" rx="0.81" ry="0.40" transform="rotate(172 501.1 281.8)" fill="rgb(34,103,25)"/>
<ellipse cx="451.6" cy="234.2" rx="1.19" ry="0.60" transform="rotate(109 451.6 234.2)" fill="rgb(26,81,20)"/>
<ellipse cx="501.3" cy="284.3" rx="1.26" ry="0.63" transform="rotate(68 501.3 284.3)" fill="rgb(39,121,29)"/>
<ellipse cx="474.3" cy="292.1" rx="1.20" ry="0.60" transform="rotate(104 474.3 292.1)" fill="rgb(42,128,30)"/>
<ellipse cx="490.4" cy="230.5" rx="0.88" ry="0.44" transform="rotate(14 490.4 230.5)" fill="rgb(30,93,22)"/>
<ellipse cx="440.7" cy="234.8" rx="1.08" ry="0.54" transform="rotate(66 440.7 234.8)" fill="rgb(32,98,23)"/>
<ellipse cx="455.2" cy="243.4" rx="1.24" ry="0.62" transform="rotate(117 455.2 243.4)" fill="rgb(31,97,23)"/>
<ellipse cx="480.4" cy="240.4" rx="0.81" ry="0.41" transform="rotate(68 480.4 240.4)" fill="rgb(45,138,33)"/>
<ellipse cx="520.5" cy="277.2" rx="1.10" ry="0.55" transform="rotate(152 520.5 277.2)" fill="rgb(40,123,29)"/>
<ellipse cx="498.0" cy="244.9" rx="0.90" ry="0.45" transform="rotate(48 498.0 244.9)" fill="rgb(24,75,18)"/>
<ellipse cx="438.4" cy="301.0" rx="0.90" ry="0.45" transform="rotate(118 438.4 301.0)" fill="rgb(49,152,36)"/>
<ellipse cx="457.8" cy="298.8" rx="0.87" ry="0.43" transform="rotate(44 457.8 298.8)" fill="rgb(37,114,27)"/>
<ellipse cx="475.3" cy="247.6" rx="1.22" ry="0.61" transform="rotate(72 475.3 247.6)" fill="rgb(41,125,30)"/>
<ellipse cx="439.2" cy="305.3" rx="0.77" ry="0.39" transform="rotate(8 439.2 305.3)" fill="rgb(38,119,28)"/>
<ellipse cx="427.7" cy="276.2" rx="0.96" ry="0.48" transform="rotate(11 427.7 276.2)" fill="rgb(47,144,34)"/>
<ellipse cx="456.4" cy="305.2" rx="1.26" ry="0.63" transform="rotate(155 456.4 305.2)" fill="rgb(39,120,29)"/>
<ellipse cx="417.3" cy="283.5" rx="1.02" ry="0.51" transform="rotate(48 417.3 283.5)" fill="rgb(44,134,32)"/>
<ellipse cx="483.7" cy="235.7" rx="0.97" ry="0.49" transform="rotate(172 483.7 235.7)" fill="rgb(36,112,27)"/>
<ellipse cx="508.5" cy="247.6" rx="0.82" ry="0.41" transform="rotate(164 508.5 247.6)" fill="rgb(38,118,28)"/>
<ellipse cx="507.9" cy="250.4" rx="1.06" ry="0.53" transform="rotate(28 507.9 250.4)" fill="rgb(42,130,31)"/>
<ellipse cx="496.5" cy="269.3" rx="1.02" ry="0.51" transform="rotate(0 496.5 269.3)" fill="rgb(46,143,34)"/>
<ellipse cx="450.3" cy="228.4" rx="1.21" ry="0.61" transform="rotate(150 450.3 228.4)" fill="rgb(51,156,37)"/>
<ellipse cx="448.5" cy="231.5" rx="1.25" ry="0.63" transform="rotate(15 448.5 231.5)" fill="rgb(49,152,36)"/>
<ellipse cx="467.4" cy="232.3" rx="1.15" ry="0.57" transform="rotate(23 467.4 232.3)" fill="rgb(46,141,33)"/>
<ellipse cx="466.2" cy="270.1" rx="1.21" ry="0.60" transform="rotate(76 466.2 270.1)" fill="rgb(31,96,23)"/>
<ellipse cx="438.4" cy="269.3" rx="0.83" ry="0.42" transform="rotate(56 438.4 269.3)" fill="rgb(45,138,33)"/>
<ellipse cx="521.1" cy="278.0" rx="1.01" ry="0.50" transform="rotate(22 521.1 278.0)" fill="rgb(36,112,27)"/>
<ellipse cx="439.8" cy="253.5" rx="0.85" ry="0.42" transform="rotate(40 439.8 253.5)" fill="rgb(41,126,30)"/>
<ellipse cx="423.6" cy="276.5" rx="1.23" ry="0.61" transform="rotate(155 423.6 276.5)" fill="rgb(30,93,22)"/>
<ellipse cx="423.6" cy="245.6" rx="0.84" ry="0.42" transform="rotate(24 423.6 245.6)" fill="rgb(43,133,32)"/>
<ellipse cx="514.8" cy="271.8" rx="1.16" ry="0.58" transform="rotate(145 514.8 271.8)" fill="rgb(37,115,27)"/>
<ellipse cx="436.2" cy="234.5" rx="0.96" ry="0.48" transform="rotate(84 436.2 234.5)" fill="rgb(36,111,27)"/>
<ellipse cx="493.0" cy="279.8" rx="0.78" ry="0.39" transform="rotate(72 493.0 279.8)" fill="rgb(52,161,38)"/>
<ellipse cx="451.9" cy="294.6" rx="0.83" ry="0.41" transform="rotate(81 451.9 294.6)" fill="rgb(31,95,23)"/>
<ellipse cx="460.6" cy="248.8" rx="1.24" ry="0.62" transform="rotate(80 460.6 248.8)" fill="rgb(31,95,23)"/>
<ellipse cx="507.0" cy="270.2" rx="1.28" ry="0.64" transform="rotate(150 507.0 270.2)" fill="rgb(25,77,19)"/>
<ellipse cx="518.3" cy="299.7" rx="0.81" ry="0.41" transform="rotate(87 518.3 299.7)" fill="rgb(48,149,35)"/>
<ellipse cx="438.7" cy="258.4" rx="0.93" ry="0.47" transform="rotate(177 438.7 258.4)" fill="rgb(25,78,19)"/>
<ellipse cx="444.1" cy="288.5" rx="0.96" ry="0.48" transform="rotate(172 444.1 288.5)" fill="rgb(37,114,27)"/>
<ellipse cx="521.1" cy="270.6" rx="0.81" ry="0.40" transform="rotate(53 521.1 270.6)" fill="rgb(45,137,33)"/>
<ellipse cx="518.3" cy="272.4" rx="1.14" ry="0.57" transform="rotate(10 518.3 272.4)" fill="rgb(39,121,29)"/>
<ellipse cx="477.7" cy="266.4" rx="0.81" ry="0.40" transform="rotate(173 477.7 266.4)" fill="rgb(49,150,35)"/>
<ellipse cx="424.6" cy="241.5" rx="1.10" ry="0.55" transform="rotate(42 424.6 241.5)" fill="rgb(41,126,30)"/>
<ellipse cx="428.7" cy="296.9" rx="1.05" ry="0.53" transform="rotate(111 428.7 296.9)" fill="rgb(31,95,23)"/>
<ellipse cx="460.3" cy="272.8" rx="1.24" ry="0.62" transform="rotate(37 460.3 272.8)" fill="rgb(39,120,28)"/>
<ellipse cx="491.7" cy="245.7" rx="1.10" ry="0.55" transform="rotate(54 491.7 245.7)" fill="rgb(35,108,26)"/>
<ellipse cx="449.5" cy="286.0" rx="0.98" ry="0.49" transform="rotate(180 449.5 286.0)" fill="rgb(26,79,19)"/>
<ellipse cx="521.2" cy="232.7" rx="0.87" ry="0.43" transform="rotate(168 521.2 232.7)" fill="rgb(30,92,22)"/>
<ellipse cx="509.0" cy="296.0" rx="0.81" ry="0.40" transform="rotate(150 509.0 296.0)" fill="rgb(34,106,25)"/>
<ellipse cx="490.3" cy="275.0" rx="1.09" ry="0.54" transform="rotate(1 490.3 275.0)" fill="rgb(53,162,38)"/>
<ellipse cx="502.3" cy="250.4" rx="1.25" ry="0.62" transform="rotate(24 502.3 250.4)" fill="rgb(43,132,31)"/>
<ellipse cx="428.3" cy="235.3" rx="0.87" ry="0.44" transform="rotate(109 428.3 235.3)" fill="rgb(40,122,29)"/>
<ellipse cx="491.8" cy="242.9" rx="0.87" ry="0.43" transform="rotate(88 491.8 242.9)" fill="rgb(42,130,31)"/>
<ellipse cx="511.6" cy="293.4" rx="0.96" ry="0.48" transform="rotate(50 511.6 293.4)" fill="rgb(26,81,19)"/>
<ellipse cx="416.5" cy="287.5" rx="0.87" ry="0.43" transform="rotate(133 416.5 287.5)" fill="rgb(42,130,31)"/>
<ellipse cx="474.3" cy="260.5" rx="0.76" ry="0.38" transform="rotate(159 474.3 260.5)" fill="rgb(24,73,18)"/>
<ellipse cx="511.5" cy="269.8" rx="1.05" ry="0.52" transform="rotate(27 511.5 269.8)" fill="rgb(48,148,35)"/>
<ellipse cx="429.5" cy="251.1" rx="1.17" ry="0.58" transform="rotate(155 429.5 251.1)" fill="rgb(50,154,36)"/>
<ellipse cx="510.9" cy="243.4" rx="0.78" ry="0.39" transform="rotate(140 510.9 243.4)" fill="rgb(31,95,23)"/>
<ellipse cx="509.4" cy="258.8" rx="0.81" ry="0.40" transform="rotate(167 509.4 258.8)" fill="rgb(42,129,31)"/>
<ellipse cx="507.3" cy="303.6" rx="1.21" ry="0.61" transform="rotate(4 507.3 303.6)" fill="rgb(47,146,35)"/>
<ellipse cx="493.8" cy="253.0" rx="1.17" ry="0.58" transform="rotate(156 493.8 253.0)" fill="rgb(51,157,37)"/>
<ellipse cx="501.6" cy="247.9" rx="0.78" ry="0.39" transform="rotate(157 501.6 247.9)" fill="rgb(47,144,34)"/>
<ellipse cx="506.7" cy="244.4" rx="0.98" ry="0.49" transform="rotate(55 506.7 244.4)" fill="rgb(48,146,35)"/>
<ellipse cx="500.0" cy="244.8" rx="0.83" ry="0.41" transform="rotate(59 500.0 244.8)" fill="rgb(24,75,18)"/>
<ellipse cx="507.3" cy="302.9" rx="1.08" ry="0.54" transform="rotate(72 507.3 302.9)" fill="rgb(32,98,23)"/>
<ellipse cx="519.6" cy="269.0" rx="0.78" ry="0.39" transform="rotate(175 519.6 269.0)" fill="rgb(51,157,37)"/>
<ellipse cx="434.9" cy="302.6" rx="0.78" ry="0.39" transform="rotate(78 434.9 302.6)" fill="rgb(31,96,23)"/>
<ellipse cx="493.0" cy="251.6" rx="1.01" ry="0.50" transform="rotate(69 493.0 251.6)" fill="rgb(41,127,30)"/>
<ellipse cx="476.9" cy="246.9" rx="0.72" ry="0.36" transform="rotate(167 476.9 246.9)" fill="rgb(44,137,32)"/>
<ellipse cx="472.9" cy="283.4" rx="1.10" ry="0.55" transform="rotate(66 472.9 283.4)" fill="rgb(45,139,33)"/>
<ellipse cx="423.5" cy="279.1" rx="0.90" ry="0.45" transform="rotate(153 423.5 279.1)" fill="rgb(33,102,24)"/>
<ellipse cx="492.0" cy="250.5" rx="0.95" ry="0.47" transform="rotate(72 492.0 250.5)" fill="rgb(33,100,24)"/>
<ellipse cx="447.3" cy="236.9" rx="1.25" ry="0.62" transform="rotate(122 447.3 236.9)" fill="rgb(36,110,26)"/>
<ellipse cx="511.3" cy="275.3" rx="1.03" ry="0.51" transform="rotate(0 511.3 275.3)" fill="rgb(32,100,24)"/>
<ellipse cx="446.4" cy="260.7" rx="1.09" ry="0.54" transform="rotate(84 446.4 260.7)" fill="rgb(41,125,30)"/>
<ellipse cx="462.7" cy="243.7" rx="1.22" ry="0.61" transform="rotate(143 462.7 243.7)" fill="rgb(37,115,27)"/>
<ellipse cx="434.0" cy="233.6" rx="1.07" ry="0.54" transform="rotate(60 434.0 233.6)" fill="rgb(39,119,28)"/>
<ellipse cx="502.4" cy="285.9" rx="0.85" ry="0.42" transform="rotate(36 502.4 285.9)" fill="rgb(43,133,32)"/>
<ellipse cx="418.7" cy="246.1" rx="1.20" ry="0.60" transform="rotate(13 418.7 246.1)" fill="rgb(37,115,27)"/>
<ellipse cx="459.8" cy="276.4" rx="1.11" ry="0.55" transform="rotate(89 459.8 276.4)" fill="rgb(29,90,22)"/>
<ellipse cx="441.8" cy="278.5" rx="1.14" ry="0.57" transform="rotate(139 441.8 278.5)" fill="rgb(24,73,18)"/>
<ellipse cx="427.3" cy="260.3" rx="1.26" ry="0.63" transform="rotate(93 427.3 260.3)" fill="rgb(29,88,21)"/>
<ellipse cx="421.4" cy="246.5" rx="0.98" ry="0.49" transform="rotate(144 421.4 246.5)" fill="rgb(48,149,35)"/>
<ellipse cx="486.5" cy="304.5" rx="1.25" ry="0.63" transform="rotate(160 486.5 304.5)" fill="rgb(41,126,30)"/>
<ellipse cx="480.7" cy="283.4" rx="1.19" ry="0.59" transform="rotate(99 480.7 283.4)" fill="rgb(38,118,28)"/>
<ellipse cx="510.8" cy="285.4" rx="0.87" ry="0.43" transform="rotate(45 510.8 285.4)" fill="rgb(37,115,27)"/>
<ellipse cx="483.4" cy="287.1" rx="1.07" ry="0.54" transform="rotate(49 483.4 287.1)" fill="rgb(39,120,28)"/>
<ellipse cx="424.3" cy="249.4" rx="0.90" ry="0.45" transform="rotate(97 424.3 249.4)" fill="rgb(31,97,23)"/>
<ellipse cx="430.7" cy="245.1" rx="1.12" ry="0.56" transform="rotate(12 430.7 245.1)" fill="rgb(44,135,32)"/>
<ellipse cx="459.1" cy="269.5" rx="0.84" ry="0.42" transform="rotate(76 459.1 269.5)" fill="rgb(36,110,26)"/>
<ellipse cx="511.6" cy="272.8" rx="1.20" ry="0.60" transform="rotate(138 511.6 272.8)" fill="rgb(44,135,32)"/>
<ellipse cx="456.2" cy="227.4" rx="1.14" ry="0.57" transform="rotate(154 456.2 227.4)" fill="rgb(34,104,25)"/>
<ellipse cx="516.7" cy="259.8" rx="1.03" ry="0.51" transform="rotate(109 516.7 259.8)" fill="rgb(45,140,33)"/>
<ellipse cx="439.4" cy="244.1" rx="0.74" ry="0.37" transform="rotate(61 439.4 244.1)" fill="rgb(36,112,27)"/>
<ellipse cx="487.7" cy="258.7" rx="0.98" ry="0.49" transform="rotate(23 487.7 258.7)" fill="rgb(28,87,21)"/>
<ellipse cx="481.7" cy="229.0" rx="1.04" ry="0.52" transform="rotate(5 481.7 229.0)" fill="rgb(35,108,26)"/>
<ellipse cx="483.9" cy="237.6" rx="0.75" ry="0.37" transform="rotate(68 483.9 237.6)" fill="rgb(37,114,27)"/>
<ellipse cx="438.4" cy="252.6" rx="0.93" ry="0.47" transform="rotate(135 438.4 252.6)" fill="rgb(46,141,33)"/>
<ellipse cx="503.9" cy="246.7" rx="0.73" ry="0.37" transform="rotate(97 503.9 246.7)" fill="rgb(26,80,19)"/>
<ellipse cx="521.6" cy="254.4" rx="1.16" ry="0.58" transform="rotate(117 521.6 254.4)" fill="rgb(43,131,31)"/>
<ellipse cx="495.7" cy="301.5" rx="0.73" ry="0.37" transform="rotate(27 495.7 301.5)" fill="rgb(29,91,22)"/>
<ellipse cx="429.4" cy="279.5" rx="0.84" ry="0.42" transform="rotate(126 429.4 279.5)" fill="rgb(40,123,29)"/>
<ellipse cx="497.0" cy="240.1" rx="1.14" ry="0.57" transform="rotate(21 497.0 240.1)" fill="rgb(41,127,30)"/>
<ellipse cx="502.5" cy="302.7" rx="0.73" ry="0.37" transform="rotate(56 502.5 302.7)" fill="rgb(27,82,20)"/>
<ellipse cx="487.6" cy="302.2" rx="1.12" ry="0.56" transform="rotate(14 487.6 302.2)" fill="rgb(35,108,26)"/>
<ellipse cx="489.0" cy="276.2" rx="1.15" ry="0.58" transform="rotate(153 489.0 276.2)" fill="rgb(26,82,20)"/>
<ellipse cx="479.4" cy="236.4" rx="1.16" ry="0.58" transform="rotate(62 479.4 236.4)" fill="rgb(52,161,38)"/>
<ellipse cx="461.3" cy="256.0" rx="0.91" ry="0.46" transform="rotate(153 461.3 256.0)" fill="rgb(38,118,28)"/>
<ellipse cx="502.9" cy="235.2" rx="1.08" ry="0.54" transform="rotate(149 502.9 235.2)" fill="rgb(52,159,38)"/>
<ellipse cx="490.7" cy="261.1" rx="1.26" ry="0.63" transform="rotate(49 490.7 261.1)" fill="rgb(45,139,33)"/>
<ellipse cx="501.4" cy="269.2" rx="0.96" ry="0.48" transform="rotate(132 501.4 269.2)" fill="rgb(38,116,28)"/>
<ellipse cx="444.4" cy="293.8" rx="0.77" ry="0.38" transform="rotate(159 444.4 293.8)" fill="rgb(48,148,35)"/>
<ellipse cx="441.8" cy="263.4" rx="0.93" ry="0.47" transform="rotate(5 441.8 263.4)" fill="rgb(41,128,30)"/>
<ellipse cx="505.9" cy="241.2" rx="1.17" ry="0.58" transform="rotate(61 505.9 241.2)" fill="rgb(30,92,22)"/>
<ellipse cx="509.0" cy="282.0" rx="0.73" ry="0.36" transform="rotate(171 509.0 282.0)" fill="rgb(32,97,23)"/>
<ellipse cx="425.1" cy="283.5" rx="1.14" ry="0.57" transform="rotate(124 425.1 283.5)" fill="rgb(38,117,28)"/>
<ellipse cx="484.2" cy="265.5" rx="0.77" ry="0.39" transform="rotate(40 484.2 265.5)" fill="rgb(47,144,34)"/>
<ellipse cx="489.1" cy="251.0" rx="0.99" ry="0.49" transform="rotate(96 489.1 251.0)" fill="rgb(41,125,30)"/>
<ellipse cx="461.0" cy="285.5" rx="1.11" ry="0.56" transform="rotate(49 461.0 285.5)" fill="rgb(33,102,24)"/>
<ellipse cx="442.6" cy="236.4" rx="0.79" ry="0.39" transform="rotate(96 442.6 236.4)" fill="rgb(29,90,22)"/>
<ellipse cx="496.5" cy="241.5" rx="0.99" ry="0.50" transform="rotate(130 496.5 241.5)" fill="rgb(30,92,22)"/>
<ellipse cx="519.1" cy="268.1" rx="0.78" ry="0.39" transform="rotate(35 519.1 268.1)" fill="rgb(32,98,23)"/>
<ellipse cx="440.1" cy="241.0" rx="1.02" ry="0.51" transform="rotate(49 440.1 241.0)" fill="rgb(24,74,18)"/>
<ellipse cx="518.9" cy="270.4" rx="0.79" ry="0.40" transform="rotate(156 518.9 270.4)" fill="rgb(44,135,32)"/>
<ellipse cx="467.9" cy="295.5" rx="0.98" ry="0.49" transform="rotate(79 467.9 295.5)" fill="rgb(40,124,30)"/>
<ellipse cx="435.6" cy="230.9" rx="0.99" ry="0.49" transform="rotate(148 435.6 230.9)" fill="rgb(51,157,37)"/>
<ellipse cx="458.4" cy="232.7" rx="0.75" ry="0.38" transform="rotate(27 458.4 232.7)" fill="rgb(42,129,31)"/>
<ellipse cx="475.5" cy="250.8" rx="0.79" ry="0.39" transform="rotate(138 475.5 250.8)" fill="rgb(53,162,38)"/>
<ellipse cx="480.1" cy="289.1" rx="1.01" ry="0.51" transform="rotate(81 480.1 289.1)" fill="rgb(30,93,22)"/>
<ellipse cx="462.8" cy="294.5" rx="0.89" ry="0.45" transform="rotate(112 462.8 294.5)" fill="rgb(53,162,38)"/>
<ellipse cx="480.4" cy="285.1" rx="0.84" ry="0.42" transform="rotate(38 480.4 285.1)" fill="rgb(51,158,37)"/>
<ellipse cx="485.8" cy="239.2" rx="0.76" ry="0.38" transform="rotate(0 485.8 239.2)" fill="rgb(29,88,21)"/>
<ellipse cx="463.6" cy="273.6" rx="0.85" ry="0.42" transform="rotate(127 463.6 273.6)" fill="rgb(32,99,24)"/>
<ellipse cx="490.3" cy="262.6" rx="1.24" ry="0.62" transform="rotate(142 490.3 262.6)" fill="rgb(44,135,32)"/>
<ellipse cx="482.0" cy="278.9" rx="0.96" ry="0.48" transform="rotate(98 482.0 278.9)" fill="rgb(51,157,37)"/>
<ellipse cx="484.4" cy="298.3" rx="0.76" ry="0.38" transform="rotate(30 484.4 298.3)" fill="rgb(48,147,35)"/>
<ellipse cx="448.6" cy="285.8" rx="0.88" ry="0.44" transform="rotate(22 448.6 285.8)" fill="rgb(40,124,29)"/>
<ellipse cx="488.8" cy="281.9" rx="1.00" ry="0.50" transform="rotate(89 488.8 281.9)" fill="rgb(51,158,37)"/>
<ellipse cx="424.6" cy="230.0" rx="0.90" ry="0.45" transform="rotate(45 424.6 230.0)" fill="rgb(36,112,27)"/>
<ellipse cx="425.7" cy="302.5" rx="1.04" ry="0.52" transform="rotate(171 425.7 302.5)" fill="rgb(48,148,35)"/>
<ellipse cx="521.6" cy="279.7" rx="0.74" ry="0.37" transform="rotate(136 521.6 279.7)" fill="rgb(31,97,23)"/>
<ellipse cx="465.7" cy="278.1" rx="0.82" ry="0.41" transform="rotate(105 465.7 278.1)" fill="rgb(50,155,37)"/>
<ellipse cx="483.1" cy="265.5" rx="0.91" ry="0.46" transform="rotate(60 483.1 265.5)" fill="rgb(26,81,19)"/>
<ellipse cx="486.8" cy="294.3" rx="1.11" ry="0.55" transform="rotate(52 486.8 294.3)" fill="rgb(33,102,24)"/>
<ellipse cx="515.8" cy="290.8" rx="0.97" ry="0.49" transform="rotate(57 515.8 290.8)" fill="rgb(40,122,29)"/>
<ellipse cx="450.2" cy="303.2" rx="1.01" ry="0.50" transform="rotate(178 450.2 303.2)" fill="rgb(35,109,26)"/>
<ellipse cx="485.5" cy="269.5" rx="0.83" ry="0.41" transform="rotate(65 485.5 269.5)" fill="rgb(36,110,26)"/>
<ellipse cx="495.9" cy="276.1" rx="0.83" ry="0.42" transform="rotate(99 495.9 276.1)" fill="rgb(46,141,33)"/>
<ellipse cx="514.0" cy="261.3" rx="0.79" ry="0.39" transform="rotate(175 514.0 261.3)" fill="rgb(44,136,32)"/>
<ellipse cx="480.3" cy="245.7" rx="1.03" ry="0.51" transform="rotate(99 480.3 245.7)" fill="rgb(28,87,21)"/>
<ellipse cx="425.9" cy="304.9" rx="0.98" ry="0.49" transform="rotate(21 425.9 304.9)" fill="rgb(50,155,37)"/>
<ellipse cx="503.9" cy="266.1" rx="1.00" ry="0.50" transform="rotate(49 503.9 266.1)" fill="rgb(45,137,33)"/>
<ellipse cx="504.2" cy="303.9" rx="1.03" ry="0.51" transform="rotate(69 504.2 303.9)" fill="rgb(31,95,23)"/>
<ellipse cx="513.4" cy="266.8" rx="1.20" ry="0.60" transform="rotate(50 513.4 266.8)" fill="rgb(49,152,36)"/>
<ellipse cx="499.4" cy="259.5" rx="1.00" ry="0.50" transform="rotate(148 499.4 259.5)" fill="rgb(51,157,37)"/>
<ellipse cx="445.9" cy="250.4" rx="1.28" ry="0.64" transform="rotate(88 445.9 250.4)" fill="rgb(41,126,30)"/>
<ellipse cx="431.8" cy="269.2" rx="1.03" ry="0.51" transform="rotate(98 431.8 269.2)" fill="rgb(34,104,25)"/>
<ellipse cx="464.1" cy="252.2" rx="1.11" ry="0.56" transform="rotate(103 464.1 252.2)" fill="rgb(29,90,21)"/>
<ellipse cx="440.7" cy="287.9" rx="1.14" ry="0.57" transform="rotate(127 440.7 287.9)" fill="rgb(25,76,18)"/>
<ellipse cx="501.7" cy="257.2" rx="1.18" ry="0.59" transform="rotate(177 501.7 257.2)" fill="rgb(43,132,31)"/>
<ellipse cx="468.4" cy="229.8" rx="1.05" ry="0.53" transform="rotate(157 468.4 229.8)" fill="rgb(38,118,28)"/>
<ellipse cx="508.3" cy="261.5" rx="0.98" ry="0.49" transform="rotate(130 508.3 261.5)" fill="rgb(39,120,29)"/>
<ellipse cx="459.4" cy="278.4" rx="0.98" ry="0.49" transform="rotate(174 459.4 278.4)" fill="rgb(28,86,21)"/>
<ellipse cx="451.8" cy="281.3" rx="1.20" ry="0.60" transform="rotate(153 451.8 281.3)" fill="rgb(43,131,31)"/>
<ellipse cx="506.8" cy="256.8" rx="1.12" ry="0.56" transform="rotate(137 506.8 256.8)" fill="rgb(33,101,24)"/>
<ellipse cx="508.1" cy="229.7" rx="1.07" ry="0.54" transform="rotate(166 508.1 229.7)" fill="rgb(26,79,19)"/>
<ellipse cx="521.3" cy="285.6" rx="0.78" ry="0.39" transform="rotate(114 521.3 285.6)" fill="rgb(36,112,27)"/>
<ellipse cx="508.2" cy="261.8" rx="1.23" ry="0.61" transform="rotate(8 508.2 261.8)" fill="rgb(44,135,32)"/>
<ellipse cx="500.1" cy="250.0" rx="0.80" ry="0.40" transform="rotate(96 500.1 250.0)" fill="rgb(35,106,25)"/>
<ellipse cx="475.8" cy="289.2" rx="0.76" ry="0.38" transform="rotate(157 475.8 289.2)" fill="rgb(28,88,21)"/>
<ellipse cx="481.5" cy="245.8" rx="0.80" ry="0.40" transform="rotate(83 481.5 245.8)" fill="rgb(50,155,37)"/>
<ellipse cx="442.9" cy="247.0" rx="1.17" ry="0.59" transform="rotate(162 442.9 247.0)" fill="rgb(24,73,18)"/>
<ellipse cx="487.6" cy="239.3" rx="0.91" ry="0.46" transform="rotate(106 487.6 239.3)" fill="rgb(36,112,27)"/>
<ellipse cx="483.5" cy="260.3" rx="1.19" ry="0.60" transform="rotate(36 483.5 260.3)" fill="rgb(31,95,23)"/>
<ellipse cx="456.7" cy="264.9" rx="1.04" ry="0.52" transform="rotate(103 456.7 264.9)" fill="rgb(30,94,22)"/>
<ellipse cx="520.8" cy="250.1" rx="1.09" ry="0.54" transform="rotate(49 520.8 250.1)" fill="rgb(52,161,38)"/>
<ellipse cx="475.8" cy="280.8" rx="0.75" ry="0.37" transform="rotate(109 475.8 280.8)" fill="rgb(45,140,33)"/>
<ellipse cx="468.5" cy="298.0" rx="1.17" ry="0.58" transform="rotate(109 468.5 298.0)" fill="rgb(32,98,24)"/>
<ellipse cx="453.3" cy="276.9" rx="1.10" ry="0.55" transform="rotate(130 453.3 276.9)" fill="rgb(42,129,31)"/>
<ellipse cx="485.6" cy="292.8" rx="1.23" ry="0.61" transform="rotate(116 485.6 292.8)" fill="rgb(42,129,31)"/>
<ellipse cx="448.7" cy="261.5" rx="1.13" ry="0.57" transform="rotate(16 448.7 261.5)" fill="rgb(41,125,30)"/>
<ellipse cx="447.2" cy="285.7" rx="0.79" ry="0.40" transform="rotate(97 447.2 285.7)" fill="rgb(29,88,21)"/>
<ellipse cx="518.6" cy="268.6" rx="1.19" ry="0.59" transform="rotate(46 518.6 268.6)" fill="rgb(50,155,37)"/>
<ellipse cx="503.1" cy="264.8" rx="1.14" ry="0.57" transform="rotate(61 503.1 264.8)" fill="rgb(47,145,34)"/>
<ellipse cx="428.3" cy="302.6" rx="1.26" ry="0.63" transform="rotate(155 428.3 302.6)" fill="rgb(28,85,20)"/>
</g></g>
<line x1="490.30" y1="300.70" x2="500.50" y2="300.70" stroke="#fff" stroke-width="1.6" stroke-linecap="butt"/>
<text x="495.40" y="299.40" font-size="2.4" font-weight="normal" text-anchor="middle" fill="#cfcfcf">100 μm</text>
<rect x="308.50" y="308.10" width="105.30" height="79.40" fill="#090605" />
<clipPath id="cf3"><rect x="308.5" y="308.1" width="105.30" height="79.40"/></clipPath><g clip-path="url(#cf3)"><g filter="url(#g3)">
<path d="M334.1 352.0Q334.2 347.8 335.2 342.1" fill="none" stroke="rgb(10,31,9)" stroke-width="0.9" stroke-linecap="round"/>
<path d="M366.2 348.8Q367.9 347.8 370.0 344.8" fill="none" stroke="rgb(11,35,10)" stroke-width="0.9" stroke-linecap="round"/>
<path d="M398.3 313.4Q396.7 309.3 395.8 306.1" fill="none" stroke="rgb(11,34,10)" stroke-width="0.9" stroke-linecap="round"/>
<path d="M355.8 375.7Q354.5 373.2 354.6 372.7" fill="none" stroke="rgb(11,34,10)" stroke-width="0.9" stroke-linecap="round"/>
<path d="M314.9 319.7Q315.8 315.1 318.7 310.6" fill="none" stroke="rgb(9,23,8)" stroke-width="0.9" stroke-linecap="round"/>
<path d="M352.2 327.5Q355.3 324.4 359.8 322.0" fill="none" stroke="rgb(9,25,8)" stroke-width="0.9" stroke-linecap="round"/>
<path d="M355.9 320.7Q360.6 318.9 364.1 315.2" fill="none" stroke="rgb(10,31,9)" stroke-width="0.9" stroke-linecap="round"/>
<path d="M406.6 363.5Q408.4 360.0 408.8 355.1" fill="none" stroke="rgb(11,34,10)" stroke-width="0.9" stroke-linecap="round"/>
<path d="M311.4 345.3Q312.6 340.4 312.3 336.3" fill="none" stroke="rgb(9,21,8)" stroke-width="0.9" stroke-linecap="round"/>
<path d="M403.9 349.3Q408.3 347.4 412.9 345.4" fill="none" stroke="rgb(8,13,7)" stroke-width="0.9" stroke-linecap="round"/>
<path d="M371.2 391.0Q372.0 389.3 374.2 386.9" fill="none" stroke="rgb(9,23,8)" stroke-width="0.9" stroke-linecap="round"/>
<path d="M353.0 375.0Q354.9 370.0 356.1 366.4" fill="none" stroke="rgb(10,29,9)" stroke-width="0.9" stroke-linecap="round"/>
<path d="M352.9 317.4Q350.9 314.1 349.1 311.3" fill="none" stroke="rgb(9,22,8)" stroke-width="0.9" stroke-linecap="round"/>
<path d="M375.9 367.1Q375.1 362.9 374.7 357.2" fill="none" stroke="rgb(10,30,9)" stroke-width="0.9" stroke-linecap="round"/>
<path d="M349.1 337.1Q350.8 335.2 353.2 332.9" fill="none" stroke="rgb(10,29,9)" stroke-width="0.9" stroke-linecap="round"/>
<path d="M309.1 321.8Q308.3 320.2 307.2 317.3" fill="none" stroke="rgb(9,21,8)" stroke-width="0.9" stroke-linecap="round"/>
<path d="M364.2 313.8Q364.3 312.6 366.1 311.4" fill="none" stroke="rgb(11,34,10)" stroke-width="0.9" stroke-linecap="round"/>
<path d="M364.8 374.9Q365.0 370.2 365.4 365.5" fill="none" stroke="rgb(8,13,7)" stroke-width="0.9" stroke-linecap="round"/>
<path d="M396.8 330.7Q395.0 328.2 391.6 323.9" fill="none" stroke="rgb(11,33,10)" stroke-width="0.9" stroke-linecap="round"/>
<path d="M384.8 312.0Q383.2 308.5 383.1 303.7" fill="none" stroke="rgb(9,23,8)" stroke-width="0.9" stroke-linecap="round"/>
<path d="M365.2 345.1Q367.7 343.2 372.0 339.3" fill="none" stroke="rgb(9,23,8)" stroke-width="0.9" stroke-linecap="round"/>
<path d="M320.9 352.4Q319.4 349.8 317.9 345.4" fill="none" stroke="rgb(10,26,9)" stroke-width="0.9" stroke-linecap="round"/>
<path d="M394.8 340.1Q398.4 337.9 401.9 337.0" fill="none" stroke="rgb(9,23,8)" stroke-width="0.9" stroke-linecap="round"/>
<path d="M348.8 355.9Q350.5 352.5 352.2 347.9" fill="none" stroke="rgb(8,14,7)" stroke-width="0.9" stroke-linecap="round"/>
<path d="M364.0 311.9Q366.0 308.6 369.3 304.0" fill="none" stroke="rgb(9,19,8)" stroke-width="0.9" stroke-linecap="round"/>
<path d="M385.2 318.8Q386.3 316.8 389.1 313.8" fill="none" stroke="rgb(10,30,9)" stroke-width="0.9" stroke-linecap="round"/>
<path d="M380.3 356.5Q377.6 353.8 375.5 350.8" fill="none" stroke="rgb(10,31,9)" stroke-width="0.9" stroke-linecap="round"/>
<path d="M355.2 314.8Q354.3 312.9 353.5 311.8" fill="none" stroke="rgb(9,24,8)" stroke-width="0.9" stroke-linecap="round"/>
<path d="M328.5 386.1Q332.3 382.3 336.4 380.3" fill="none" stroke="rgb(11,34,10)" stroke-width="0.9" stroke-linecap="round"/>
<path d="M339.2 315.3Q338.4 312.4 338.9 309.5" fill="none" stroke="rgb(9,24,8)" stroke-width="0.9" stroke-linecap="round"/>
<path d="M378.8 372.4Q377.0 368.8 374.1 366.8" fill="none" stroke="rgb(9,24,8)" stroke-width="0.9" stroke-linecap="round"/>
<path d="M327.0 369.5Q331.2 367.7 334.7 366.1" fill="none" stroke="rgb(10,30,9)" stroke-width="0.9" stroke-linecap="round"/>
<path d="M314.5 329.8Q314.4 328.0 312.6 327.2" fill="none" stroke="rgb(9,20,8)" stroke-width="0.9" stroke-linecap="round"/>
<path d="M406.8 374.9Q408.8 371.5 411.1 368.5" fill="none" stroke="rgb(8,16,7)" stroke-width="0.9" stroke-linecap="round"/>
<path d="M378.5 339.9Q377.1 338.2 377.0 335.5" fill="none" stroke="rgb(8,17,7)" stroke-width="0.9" stroke-linecap="round"/>
<path d="M400.7 318.8Q404.5 316.7 406.4 316.2" fill="none" stroke="rgb(10,26,9)" stroke-width="0.9" stroke-linecap="round"/>
<path d="M334.8 379.7Q332.7 378.6 331.6 376.3" fill="none" stroke="rgb(10,27,9)" stroke-width="0.9" stroke-linecap="round"/>
<path d="M358.0 355.9Q358.4 352.6 359.7 351.3" fill="none" stroke="rgb(10,29,9)" stroke-width="0.9" stroke-linecap="round"/>
<path d="M398.1 326.6Q396.9 322.7 394.3 318.1" fill="none" stroke="rgb(8,18,7)" stroke-width="0.9" stroke-linecap="round"/>
<path d="M377.4 338.4Q379.8 337.0 381.5 336.8" fill="none" stroke="rgb(9,21,8)" stroke-width="0.9" stroke-linecap="round"/>
<path d="M331.6 357.5Q331.1 356.4 329.1 354.5" fill="none" stroke="rgb(9,21,8)" stroke-width="0.9" stroke-linecap="round"/>
<path d="M356.9 312.2Q357.5 307.7 358.7 304.0" fill="none" stroke="rgb(10,28,9)" stroke-width="0.9" stroke-linecap="round"/>
<path d="M383.7 321.9Q385.1 317.5 384.5 313.2" fill="none" stroke="rgb(11,33,10)" stroke-width="0.9" stroke-linecap="round"/>
<path d="M387.2 338.5Q386.2 335.6 386.8 333.9" fill="none" stroke="rgb(10,27,9)" stroke-width="0.9" stroke-linecap="round"/>
<path d="M409.6 387.1Q410.2 384.2 410.4 381.9" fill="none" stroke="rgb(9,20,8)" stroke-width="0.9" stroke-linecap="round"/>
<path d="M387.0 353.4Q387.9 350.2 389.0 345.0" fill="none" stroke="rgb(9,23,8)" stroke-width="0.9" stroke-linecap="round"/>
<path d="M338.8 352.8Q336.6 351.6 335.9 349.2" fill="none" stroke="rgb(8,16,7)" stroke-width="0.9" stroke-linecap="round"/>
<path d="M363.6 390.2Q363.8 385.3 365.0 380.8" fill="none" stroke="rgb(9,25,8)" stroke-width="0.9" stroke-linecap="round"/>
<path d="M355.1 324.2Q356.8 321.3 359.2 318.9" fill="none" stroke="rgb(10,25,9)" stroke-width="0.9" stroke-linecap="round"/>
<path d="M328.6 321.5Q330.9 320.0 333.8 318.1" fill="none" stroke="rgb(8,18,7)" stroke-width="0.9" stroke-linecap="round"/>
<path d="M343.7 333.5Q346.9 330.3 348.3 328.4" fill="none" stroke="rgb(10,31,9)" stroke-width="0.9" stroke-linecap="round"/>
<path d="M406.1 359.7Q408.1 357.9 408.1 357.0" fill="none" stroke="rgb(9,23,8)" stroke-width="0.9" stroke-linecap="round"/>
<path d="M411.9 391.1Q414.4 388.6 418.0 385.9" fill="none" stroke="rgb(10,26,9)" stroke-width="0.9" stroke-linecap="round"/>
<path d="M331.6 357.6Q334.7 355.1 336.5 354.5" fill="none" stroke="rgb(11,32,10)" stroke-width="0.9" stroke-linecap="round"/>
<path d="M368.0 328.7Q371.3 324.7 373.0 321.7" fill="none" stroke="rgb(10,28,9)" stroke-width="0.9" stroke-linecap="round"/>
<path d="M339.4 385.3Q337.8 383.0 337.7 382.5" fill="none" stroke="rgb(11,35,10)" stroke-width="0.9" stroke-linecap="round"/>
<path d="M408.3 345.7Q406.8 343.6 407.2 342.4" fill="none" stroke="rgb(10,30,9)" stroke-width="0.9" stroke-linecap="round"/>
<path d="M342.9 344.5Q340.6 339.9 338.7 336.6" fill="none" stroke="rgb(10,29,9)" stroke-width="0.9" stroke-linecap="round"/>
<path d="M359.3 340.1Q362.8 338.5 364.6 336.4" fill="none" stroke="rgb(10,26,9)" stroke-width="0.9" stroke-linecap="round"/>
<path d="M390.9 382.0Q392.2 380.0 392.2 378.7" fill="none" stroke="rgb(9,23,8)" stroke-width="0.9" stroke-linecap="round"/>
<path d="M397.4 342.4Q394.4 338.8 393.1 334.8" fill="none" stroke="rgb(8,17,7)" stroke-width="0.9" stroke-linecap="round"/>
<path d="M399.4 345.1Q398.7 342.0 397.6 339.7" fill="none" stroke="rgb(9,23,8)" stroke-width="0.9" stroke-linecap="round"/>
<path d="M413.7 317.5Q413.1 316.0 411.2 313.9" fill="none" stroke="rgb(11,33,10)" stroke-width="0.9" stroke-linecap="round"/>
<path d="M352.0 326.7Q353.2 323.7 352.8 321.8" fill="none" stroke="rgb(10,27,9)" stroke-width="0.9" stroke-linecap="round"/>
<path d="M388.6 323.9Q392.1 321.7 396.1 317.6" fill="none" stroke="rgb(9,20,8)" stroke-width="0.9" stroke-linecap="round"/>
<path d="M318.0 373.6Q319.2 371.4 321.0 371.1" fill="none" stroke="rgb(9,22,8)" stroke-width="0.9" stroke-linecap="round"/>
<path d="M326.0 322.5Q327.3 317.2 327.3 313.0" fill="none" stroke="rgb(10,29,9)" stroke-width="0.9" stroke-linecap="round"/>
<path d="M327.7 383.3Q329.8 381.0 330.3 379.6" fill="none" stroke="rgb(8,16,7)" stroke-width="0.9" stroke-linecap="round"/>
<path d="M399.1 369.2Q400.7 368.0 403.9 367.7" fill="none" stroke="rgb(9,22,8)" stroke-width="0.9" stroke-linecap="round"/>
<path d="M402.5 316.6Q399.7 312.4 395.7 309.9" fill="none" stroke="rgb(9,25,8)" stroke-width="0.9" stroke-linecap="round"/>
</g><g filter="url(#g1)">
<ellipse cx="411.5" cy="312.4" rx="0.71" ry="0.36" transform="rotate(170 411.5 312.4)" fill="rgb(23,72,17)"/>
<ellipse cx="351.3" cy="381.1" rx="0.88" ry="0.44" transform="rotate(74 351.3 381.1)" fill="rgb(16,49,12)"/>
<ellipse cx="327.8" cy="335.6" rx="0.57" ry="0.29" transform="rotate(70 327.8 335.6)" fill="rgb(22,68,16)"/>
<ellipse cx="309.7" cy="313.6" rx="0.63" ry="0.32" transform="rotate(49 309.7 313.6)" fill="rgb(16,49,12)"/>
<ellipse cx="390.4" cy="341.1" rx="0.85" ry="0.42" transform="rotate(161 390.4 341.1)" fill="rgb(25,77,19)"/>
<ellipse cx="408.3" cy="353.8" rx="0.84" ry="0.42" transform="rotate(98 408.3 353.8)" fill="rgb(23,70,17)"/>
<ellipse cx="323.5" cy="349.4" rx="0.62" ry="0.31" transform="rotate(17 323.5 349.4)" fill="rgb(21,64,16)"/>
<ellipse cx="327.9" cy="363.5" rx="0.77" ry="0.39" transform="rotate(77 327.9 363.5)" fill="rgb(25,76,18)"/>
<ellipse cx="311.5" cy="308.4" rx="0.73" ry="0.36" transform="rotate(82 311.5 308.4)" fill="rgb(22,69,17)"/>
<ellipse cx="326.6" cy="317.9" rx="0.60" ry="0.30" transform="rotate(108 326.6 317.9)" fill="rgb(16,50,12)"/>
<ellipse cx="340.8" cy="352.2" rx="0.74" ry="0.37" transform="rotate(134 340.8 352.2)" fill="rgb(19,60,15)"/>
<ellipse cx="390.7" cy="320.0" rx="0.83" ry="0.42" transform="rotate(148 390.7 320.0)" fill="rgb(26,82,20)"/>
<ellipse cx="356.2" cy="383.7" rx="0.64" ry="0.32" transform="rotate(124 356.2 383.7)" fill="rgb(25,76,18)"/>
<ellipse cx="397.9" cy="367.9" rx="0.73" ry="0.36" transform="rotate(121 397.9 367.9)" fill="rgb(26,79,19)"/>
<ellipse cx="316.5" cy="360.8" rx="0.79" ry="0.40" transform="rotate(162 316.5 360.8)" fill="rgb(16,48,12)"/>
<ellipse cx="347.6" cy="313.7" rx="0.73" ry="0.36" transform="rotate(28 347.6 313.7)" fill="rgb(14,44,11)"/>
<ellipse cx="386.3" cy="356.5" rx="0.77" ry="0.39" transform="rotate(27 386.3 356.5)" fill="rgb(20,63,15)"/>
<ellipse cx="356.8" cy="311.8" rx="0.81" ry="0.41" transform="rotate(28 356.8 311.8)" fill="rgb(21,65,16)"/>
<ellipse cx="381.0" cy="387.0" rx="0.63" ry="0.31" transform="rotate(45 381.0 387.0)" fill="rgb(18,56,14)"/>
<ellipse cx="396.2" cy="314.5" rx="0.64" ry="0.32" transform="rotate(136 396.2 314.5)" fill="rgb(24,74,18)"/>
<ellipse cx="401.9" cy="375.4" rx="0.74" ry="0.37" transform="rotate(57 401.9 375.4)" fill="rgb(16,50,12)"/>
<ellipse cx="400.7" cy="331.5" rx="0.69" ry="0.34" transform="rotate(16 400.7 331.5)" fill="rgb(16,49,12)"/>
<ellipse cx="332.0" cy="363.9" rx="0.62" ry="0.31" transform="rotate(168 332.0 363.9)" fill="rgb(18,56,14)"/>
<ellipse cx="336.0" cy="371.3" rx="0.74" ry="0.37" transform="rotate(117 336.0 371.3)" fill="rgb(23,70,17)"/>
<ellipse cx="369.7" cy="374.9" rx="0.65" ry="0.32" transform="rotate(118 369.7 374.9)" fill="rgb(23,71,17)"/>
<ellipse cx="361.9" cy="381.4" rx="0.70" ry="0.35" transform="rotate(174 361.9 381.4)" fill="rgb(15,47,12)"/>
<ellipse cx="315.6" cy="365.9" rx="0.75" ry="0.38" transform="rotate(10 315.6 365.9)" fill="rgb(26,79,19)"/>
<ellipse cx="390.2" cy="329.0" rx="0.82" ry="0.41" transform="rotate(56 390.2 329.0)" fill="rgb(21,64,15)"/>
<ellipse cx="334.2" cy="317.4" rx="0.59" ry="0.30" transform="rotate(125 334.2 317.4)" fill="rgb(18,56,14)"/>
<ellipse cx="395.9" cy="312.5" rx="0.81" ry="0.41" transform="rotate(140 395.9 312.5)" fill="rgb(21,64,16)"/>
<ellipse cx="336.4" cy="350.2" rx="0.73" ry="0.36" transform="rotate(180 336.4 350.2)" fill="rgb(23,70,17)"/>
<ellipse cx="404.4" cy="384.8" rx="0.57" ry="0.28" transform="rotate(106 404.4 384.8)" fill="rgb(15,48,12)"/>
<ellipse cx="369.4" cy="329.2" rx="0.81" ry="0.41" transform="rotate(143 369.4 329.2)" fill="rgb(17,52,13)"/>
<ellipse cx="309.9" cy="317.9" rx="0.70" ry="0.35" transform="rotate(28 309.9 317.9)" fill="rgb(23,72,17)"/>
<ellipse cx="408.4" cy="334.3" rx="0.69" ry="0.35" transform="rotate(73 408.4 334.3)" fill="rgb(15,46,11)"/>
<ellipse cx="376.6" cy="368.9" rx="0.71" ry="0.36" transform="rotate(162 376.6 368.9)" fill="rgb(15,46,11)"/>
<ellipse cx="359.7" cy="378.6" rx="0.82" ry="0.41" transform="rotate(117 359.7 378.6)" fill="rgb(26,79,19)"/>
<ellipse cx="320.1" cy="386.2" rx="0.66" ry="0.33" transform="rotate(91 320.1 386.2)" fill="rgb(18,55,13)"/>
<ellipse cx="364.8" cy="369.3" rx="0.85" ry="0.43" transform="rotate(141 364.8 369.3)" fill="rgb(21,64,16)"/>
<ellipse cx="376.6" cy="329.9" rx="0.72" ry="0.36" transform="rotate(137 376.6 329.9)" fill="rgb(22,68,17)"/>
<ellipse cx="337.4" cy="371.0" rx="0.62" ry="0.31" transform="rotate(169 337.4 371.0)" fill="rgb(23,72,17)"/>
<ellipse cx="359.6" cy="343.1" rx="0.68" ry="0.34" transform="rotate(144 359.6 343.1)" fill="rgb(18,56,14)"/>
<ellipse cx="405.6" cy="345.4" rx="0.71" ry="0.36" transform="rotate(22 405.6 345.4)" fill="rgb(21,64,16)"/>
<ellipse cx="402.1" cy="341.5" rx="0.63" ry="0.32" transform="rotate(54 402.1 341.5)" fill="rgb(14,43,11)"/>
<ellipse cx="391.2" cy="322.2" rx="0.85" ry="0.42" transform="rotate(55 391.2 322.2)" fill="rgb(16,49,12)"/>
<ellipse cx="406.5" cy="308.9" rx="0.63" ry="0.31" transform="rotate(70 406.5 308.9)" fill="rgb(15,46,11)"/>
<ellipse cx="365.2" cy="334.2" rx="0.86" ry="0.43" transform="rotate(102 365.2 334.2)" fill="rgb(27,82,20)"/>
<ellipse cx="412.3" cy="376.5" rx="0.75" ry="0.37" transform="rotate(19 412.3 376.5)" fill="rgb(27,82,20)"/>
<ellipse cx="368.2" cy="312.0" rx="0.88" ry="0.44" transform="rotate(71 368.2 312.0)" fill="rgb(19,59,14)"/>
<ellipse cx="380.7" cy="383.6" rx="0.68" ry="0.34" transform="rotate(92 380.7 383.6)" fill="rgb(23,71,17)"/>
<ellipse cx="321.4" cy="370.2" rx="0.66" ry="0.33" transform="rotate(78 321.4 370.2)" fill="rgb(22,69,17)"/>
<ellipse cx="398.3" cy="312.0" rx="0.76" ry="0.38" transform="rotate(142 398.3 312.0)" fill="rgb(17,51,13)"/>
<ellipse cx="365.5" cy="358.2" rx="0.74" ry="0.37" transform="rotate(100 365.5 358.2)" fill="rgb(14,43,11)"/>
<ellipse cx="316.2" cy="350.1" rx="0.67" ry="0.34" transform="rotate(142 316.2 350.1)" fill="rgb(17,53,13)"/>
<ellipse cx="396.6" cy="309.1" rx="0.76" ry="0.38" transform="rotate(166 396.6 309.1)" fill="rgb(15,46,11)"/>
<ellipse cx="375.1" cy="335.2" rx="0.85" ry="0.43" transform="rotate(12 375.1 335.2)" fill="rgb(24,73,18)"/>
<ellipse cx="312.3" cy="342.8" rx="0.73" ry="0.36" transform="rotate(86 312.3 342.8)" fill="rgb(23,72,17)"/>
<ellipse cx="325.2" cy="321.2" rx="0.71" ry="0.35" transform="rotate(47 325.2 321.2)" fill="rgb(14,44,11)"/>
<ellipse cx="369.6" cy="345.3" rx="0.80" ry="0.40" transform="rotate(61 369.6 345.3)" fill="rgb(18,55,14)"/>
<ellipse cx="357.2" cy="344.3" rx="0.87" ry="0.44" transform="rotate(133 357.2 344.3)" fill="rgb(23,71,17)"/>
</g></g>
<line x1="384.00" y1="383.40" x2="393.30" y2="383.40" stroke="#fff" stroke-width="1.6" stroke-linecap="butt"/>
<text x="388.65" y="382.10" font-size="2.4" font-weight="normal" text-anchor="middle" fill="#cfcfcf">100 μm</text>
<rect x="416.10" y="308.10" width="105.50" height="79.40" fill="#090605" />
<clipPath id="cf4"><rect x="416.1" y="308.1" width="105.50" height="79.40"/></clipPath><g clip-path="url(#cf4)"><g filter="url(#g3)">
<path d="M468.3 356.4Q471.3 352.8 474.9 350.9" fill="none" stroke="rgb(8,16,7)" stroke-width="0.9" stroke-linecap="round"/>
<path d="M464.8 390.4Q468.1 386.6 470.9 383.5" fill="none" stroke="rgb(12,40,11)" stroke-width="0.9" stroke-linecap="round"/>
<path d="M461.8 322.8Q459.9 321.9 458.6 319.0" fill="none" stroke="rgb(13,51,12)" stroke-width="0.9" stroke-linecap="round"/>
<path d="M481.3 373.1Q480.3 368.8 480.4 365.8" fill="none" stroke="rgb(10,31,9)" stroke-width="0.9" stroke-linecap="round"/>
<path d="M473.2 350.5Q471.1 348.3 470.2 346.2" fill="none" stroke="rgb(8,16,7)" stroke-width="0.9" stroke-linecap="round"/>
<path d="M491.4 343.1Q492.1 339.4 492.9 336.0" fill="none" stroke="rgb(8,17,7)" stroke-width="0.9" stroke-linecap="round"/>
<path d="M458.1 322.1Q454.7 319.6 451.3 315.3" fill="none" stroke="rgb(10,27,9)" stroke-width="0.9" stroke-linecap="round"/>
<path d="M419.2 380.9Q418.4 377.7 416.2 372.7" fill="none" stroke="rgb(13,48,12)" stroke-width="0.9" stroke-linecap="round"/>
<path d="M518.4 352.1Q521.0 350.7 522.0 350.8" fill="none" stroke="rgb(9,23,8)" stroke-width="0.9" stroke-linecap="round"/>
<path d="M418.6 343.5Q417.6 338.5 417.2 335.2" fill="none" stroke="rgb(11,32,10)" stroke-width="0.9" stroke-linecap="round"/>
<path d="M507.1 325.9Q508.1 324.1 507.3 321.9" fill="none" stroke="rgb(13,48,12)" stroke-width="0.9" stroke-linecap="round"/>
<path d="M425.6 359.8Q426.6 357.8 426.2 356.1" fill="none" stroke="rgb(9,22,8)" stroke-width="0.9" stroke-linecap="round"/>
<path d="M462.0 346.6Q458.0 343.2 455.7 341.6" fill="none" stroke="rgb(11,35,10)" stroke-width="0.9" stroke-linecap="round"/>
<path d="M430.3 353.1Q432.7 350.8 434.3 348.1" fill="none" stroke="rgb(11,34,10)" stroke-width="0.9" stroke-linecap="round"/>
<path d="M420.3 350.8Q422.7 348.7 424.4 347.5" fill="none" stroke="rgb(12,45,11)" stroke-width="0.9" stroke-linecap="round"/>
<path d="M511.7 367.4Q511.9 364.2 511.5 362.4" fill="none" stroke="rgb(11,35,10)" stroke-width="0.9" stroke-linecap="round"/>
<path d="M452.6 326.0Q452.3 323.2 453.4 318.9" fill="none" stroke="rgb(12,43,11)" stroke-width="0.9" stroke-linecap="round"/>
<path d="M431.2 367.4Q435.0 366.1 438.4 364.7" fill="none" stroke="rgb(10,29,9)" stroke-width="0.9" stroke-linecap="round"/>
<path d="M445.7 327.8Q449.9 326.4 452.7 325.1" fill="none" stroke="rgb(13,45,12)" stroke-width="0.9" stroke-linecap="round"/>
<path d="M514.4 363.0Q514.5 362.5 516.6 360.1" fill="none" stroke="rgb(11,35,10)" stroke-width="0.9" stroke-linecap="round"/>
<path d="M431.6 334.4Q433.2 331.7 435.5 328.5" fill="none" stroke="rgb(11,38,10)" stroke-width="0.9" stroke-linecap="round"/>
<path d="M498.9 374.2Q499.4 371.5 500.8 369.5" fill="none" stroke="rgb(10,26,9)" stroke-width="0.9" stroke-linecap="round"/>
<path d="M480.1 357.1Q479.4 354.5 479.4 353.1" fill="none" stroke="rgb(11,37,10)" stroke-width="0.9" stroke-linecap="round"/>
<path d="M428.2 388.3Q425.1 385.0 421.5 382.8" fill="none" stroke="rgb(9,23,8)" stroke-width="0.9" stroke-linecap="round"/>
<path d="M482.3 351.0Q482.6 347.8 481.2 345.0" fill="none" stroke="rgb(10,28,9)" stroke-width="0.9" stroke-linecap="round"/>
<path d="M425.5 313.3Q425.6 310.6 424.5 305.9" fill="none" stroke="rgb(9,19,8)" stroke-width="0.9" stroke-linecap="round"/>
<path d="M454.9 375.9Q454.6 373.5 453.0 370.0" fill="none" stroke="rgb(9,19,8)" stroke-width="0.9" stroke-linecap="round"/>
<path d="M431.6 377.6Q432.9 376.0 433.8 373.5" fill="none" stroke="rgb(9,20,8)" stroke-width="0.9" stroke-linecap="round"/>
<path d="M479.2 379.5Q480.5 378.3 481.4 376.2" fill="none" stroke="rgb(9,24,8)" stroke-width="0.9" stroke-linecap="round"/>
<path d="M497.3 311.1Q497.6 310.2 499.4 307.3" fill="none" stroke="rgb(11,34,10)" stroke-width="0.9" stroke-linecap="round"/>
<path d="M425.7 330.5Q424.3 327.5 422.5 323.6" fill="none" stroke="rgb(9,20,8)" stroke-width="0.9" stroke-linecap="round"/>
<path d="M514.5 363.0Q513.9 361.7 512.1 359.1" fill="none" stroke="rgb(8,18,7)" stroke-width="0.9" stroke-linecap="round"/>
<path d="M460.7 369.9Q459.7 368.3 460.1 366.2" fill="none" stroke="rgb(13,48,12)" stroke-width="0.9" stroke-linecap="round"/>
<path d="M442.7 331.5Q445.4 328.4 447.3 326.9" fill="none" stroke="rgb(13,47,12)" stroke-width="0.9" stroke-linecap="round"/>
<path d="M443.6 340.3Q443.9 334.8 443.1 331.3" fill="none" stroke="rgb(13,47,12)" stroke-width="0.9" stroke-linecap="round"/>
<path d="M422.8 353.7Q423.3 352.1 422.0 349.2" fill="none" stroke="rgb(10,26,9)" stroke-width="0.9" stroke-linecap="round"/>
<path d="M440.4 320.7Q442.5 317.6 445.5 316.1" fill="none" stroke="rgb(10,25,9)" stroke-width="0.9" stroke-linecap="round"/>
<path d="M521.5 314.9Q519.7 312.6 518.4 310.6" fill="none" stroke="rgb(11,37,10)" stroke-width="0.9" stroke-linecap="round"/>
<path d="M499.5 345.7Q496.8 345.4 495.9 343.3" fill="none" stroke="rgb(12,40,11)" stroke-width="0.9" stroke-linecap="round"/>
<path d="M512.2 379.2Q510.7 376.7 507.1 374.1" fill="none" stroke="rgb(10,29,9)" stroke-width="0.9" stroke-linecap="round"/>
<path d="M441.6 392.3Q441.8 391.4 442.2 388.4" fill="none" stroke="rgb(13,45,12)" stroke-width="0.9" stroke-linecap="round"/>
<path d="M455.8 325.5Q457.3 323.1 457.3 322.6" fill="none" stroke="rgb(12,44,11)" stroke-width="0.9" stroke-linecap="round"/>
<path d="M427.0 317.8Q427.5 315.0 429.7 314.2" fill="none" stroke="rgb(9,21,8)" stroke-width="0.9" stroke-linecap="round"/>
<path d="M439.1 376.3Q438.0 373.7 435.6 371.9" fill="none" stroke="rgb(13,47,12)" stroke-width="0.9" stroke-linecap="round"/>
<path d="M460.9 313.4Q462.6 311.8 464.5 311.8" fill="none" stroke="rgb(10,30,9)" stroke-width="0.9" stroke-linecap="round"/>
<path d="M503.9 338.3Q502.7 334.0 503.1 330.2" fill="none" stroke="rgb(11,38,10)" stroke-width="0.9" stroke-linecap="round"/>
<path d="M496.8 321.3Q493.9 318.0 490.4 313.9" fill="none" stroke="rgb(13,45,12)" stroke-width="0.9" stroke-linecap="round"/>
<path d="M449.9 385.8Q449.2 383.3 449.7 382.7" fill="none" stroke="rgb(10,30,9)" stroke-width="0.9" stroke-linecap="round"/>
<path d="M451.9 372.3Q449.3 369.5 447.9 368.2" fill="none" stroke="rgb(13,48,12)" stroke-width="0.9" stroke-linecap="round"/>
<path d="M436.8 386.2Q436.3 382.9 436.5 380.1" fill="none" stroke="rgb(9,25,8)" stroke-width="0.9" stroke-linecap="round"/>
<path d="M472.3 362.3Q474.9 361.3 477.6 358.7" fill="none" stroke="rgb(10,30,9)" stroke-width="0.9" stroke-linecap="round"/>
<path d="M431.9 356.3Q431.5 351.8 430.7 349.0" fill="none" stroke="rgb(9,22,8)" stroke-width="0.9" stroke-linecap="round"/>
<path d="M516.6 370.8Q516.1 368.5 514.8 367.4" fill="none" stroke="rgb(9,19,8)" stroke-width="0.9" stroke-linecap="round"/>
<path d="M515.4 353.7Q516.3 350.9 516.1 348.8" fill="none" stroke="rgb(11,35,10)" stroke-width="0.9" stroke-linecap="round"/>
<path d="M499.2 388.0Q498.3 385.8 499.0 381.7" fill="none" stroke="rgb(11,37,10)" stroke-width="0.9" stroke-linecap="round"/>
<path d="M448.2 381.5Q446.3 377.4 446.4 371.9" fill="none" stroke="rgb(8,16,7)" stroke-width="0.9" stroke-linecap="round"/>
<path d="M447.2 380.6Q449.1 378.3 450.9 375.9" fill="none" stroke="rgb(12,43,11)" stroke-width="0.9" stroke-linecap="round"/>
<path d="M431.2 347.8Q432.4 346.3 434.6 343.3" fill="none" stroke="rgb(10,27,9)" stroke-width="0.9" stroke-linecap="round"/>
<path d="M434.7 362.6Q437.6 359.7 442.3 358.8" fill="none" stroke="rgb(13,45,12)" stroke-width="0.9" stroke-linecap="round"/>
<path d="M423.1 366.5Q422.6 361.6 421.0 358.7" fill="none" stroke="rgb(12,40,11)" stroke-width="0.9" stroke-linecap="round"/>
<path d="M426.4 377.0Q423.6 373.7 418.8 371.5" fill="none" stroke="rgb(13,48,12)" stroke-width="0.9" stroke-linecap="round"/>
<path d="M453.7 329.5Q457.4 326.5 461.2 324.5" fill="none" stroke="rgb(9,19,8)" stroke-width="0.9" stroke-linecap="round"/>
<path d="M458.8 383.8Q457.7 381.9 458.1 380.5" fill="none" stroke="rgb(10,26,9)" stroke-width="0.9" stroke-linecap="round"/>
<path d="M424.5 355.1Q422.2 350.3 421.9 345.9" fill="none" stroke="rgb(9,19,8)" stroke-width="0.9" stroke-linecap="round"/>
<path d="M510.8 384.7Q509.0 382.9 506.2 381.1" fill="none" stroke="rgb(12,43,11)" stroke-width="0.9" stroke-linecap="round"/>
<path d="M502.5 371.1Q502.4 368.4 503.1 365.5" fill="none" stroke="rgb(13,48,12)" stroke-width="0.9" stroke-linecap="round"/>
<path d="M416.1 370.1Q415.8 367.9 416.5 366.2" fill="none" stroke="rgb(13,48,12)" stroke-width="0.9" stroke-linecap="round"/>
<path d="M474.5 326.1Q476.4 324.0 476.8 323.1" fill="none" stroke="rgb(9,21,8)" stroke-width="0.9" stroke-linecap="round"/>
<path d="M456.3 379.9Q455.8 379.4 454.7 377.0" fill="none" stroke="rgb(11,33,10)" stroke-width="0.9" stroke-linecap="round"/>
<path d="M478.0 311.2Q477.6 309.0 477.3 306.2" fill="none" stroke="rgb(10,28,9)" stroke-width="0.9" stroke-linecap="round"/>
<path d="M465.1 350.4Q467.7 348.6 471.8 346.0" fill="none" stroke="rgb(9,24,8)" stroke-width="0.9" stroke-linecap="round"/>
<path d="M502.5 332.2Q500.0 328.9 496.8 325.2" fill="none" stroke="rgb(11,32,10)" stroke-width="0.9" stroke-linecap="round"/>
<path d="M497.0 387.5Q497.2 384.6 496.0 383.4" fill="none" stroke="rgb(13,49,12)" stroke-width="0.9" stroke-linecap="round"/>
<path d="M442.4 339.2Q442.7 337.7 443.9 335.5" fill="none" stroke="rgb(10,31,9)" stroke-width="0.9" stroke-linecap="round"/>
<path d="M490.6 360.2Q494.3 357.9 497.9 354.9" fill="none" stroke="rgb(11,34,10)" stroke-width="0.9" stroke-linecap="round"/>
<path d="M490.4 382.5Q489.8 378.5 488.7 375.2" fill="none" stroke="rgb(12,44,11)" stroke-width="0.9" stroke-linecap="round"/>
<path d="M470.0 354.6Q468.8 349.8 469.0 345.3" fill="none" stroke="rgb(8,18,7)" stroke-width="0.9" stroke-linecap="round"/>
<path d="M499.9 375.4Q500.8 374.0 501.4 372.4" fill="none" stroke="rgb(11,33,10)" stroke-width="0.9" stroke-linecap="round"/>
<path d="M452.9 315.1Q455.1 309.8 457.4 306.2" fill="none" stroke="rgb(9,22,8)" stroke-width="0.9" stroke-linecap="round"/>
<path d="M424.3 350.6Q422.6 345.6 421.1 342.1" fill="none" stroke="rgb(9,18,8)" stroke-width="0.9" stroke-linecap="round"/>
<path d="M494.1 349.7Q495.0 346.0 497.6 341.9" fill="none" stroke="rgb(12,39,11)" stroke-width="0.9" stroke-linecap="round"/>
<path d="M470.6 363.7Q470.7 359.6 471.1 356.2" fill="none" stroke="rgb(11,33,10)" stroke-width="0.9" stroke-linecap="round"/>
<path d="M465.1 353.6Q466.6 350.9 469.9 347.5" fill="none" stroke="rgb(11,32,10)" stroke-width="0.9" stroke-linecap="round"/>
<path d="M467.1 355.4Q465.0 350.9 464.2 347.0" fill="none" stroke="rgb(10,26,9)" stroke-width="0.9" stroke-linecap="round"/>
<path d="M426.2 351.6Q427.5 350.0 427.6 348.1" fill="none" stroke="rgb(9,19,8)" stroke-width="0.9" stroke-linecap="round"/>
<path d="M461.8 318.7Q460.2 314.2 458.2 310.3" fill="none" stroke="rgb(12,41,11)" stroke-width="0.9" stroke-linecap="round"/>
<path d="M502.7 354.6Q506.4 350.6 508.7 347.9" fill="none" stroke="rgb(13,45,12)" stroke-width="0.9" stroke-linecap="round"/>
<path d="M508.8 391.8Q508.0 389.5 508.7 387.0" fill="none" stroke="rgb(13,48,12)" stroke-width="0.9" stroke-linecap="round"/>
<path d="M517.2 389.1Q520.1 386.9 524.9 386.2" fill="none" stroke="rgb(9,20,8)" stroke-width="0.9" stroke-linecap="round"/>
<path d="M435.4 335.2Q432.9 332.3 431.3 331.1" fill="none" stroke="rgb(9,21,8)" stroke-width="0.9" stroke-linecap="round"/>
<path d="M445.3 362.6Q444.8 359.6 442.8 355.1" fill="none" stroke="rgb(11,33,10)" stroke-width="0.9" stroke-linecap="round"/>
<path d="M436.2 369.8Q435.9 368.3 434.6 366.4" fill="none" stroke="rgb(11,36,10)" stroke-width="0.9" stroke-linecap="round"/>
<path d="M417.9 390.5Q416.6 388.7 417.0 385.5" fill="none" stroke="rgb(12,43,11)" stroke-width="0.9" stroke-linecap="round"/>
<path d="M519.7 317.5Q516.8 315.3 514.7 311.4" fill="none" stroke="rgb(8,16,7)" stroke-width="0.9" stroke-linecap="round"/>
<path d="M505.4 318.5Q507.2 315.4 510.3 311.1" fill="none" stroke="rgb(13,48,12)" stroke-width="0.9" stroke-linecap="round"/>
<path d="M482.0 317.7Q478.9 313.6 476.9 309.2" fill="none" stroke="rgb(9,21,8)" stroke-width="0.9" stroke-linecap="round"/>
<path d="M483.3 362.9Q481.1 360.0 477.5 356.3" fill="none" stroke="rgb(13,49,12)" stroke-width="0.9" stroke-linecap="round"/>
<path d="M467.1 356.8Q465.9 353.3 463.2 350.2" fill="none" stroke="rgb(10,29,9)" stroke-width="0.9" stroke-linecap="round"/>
<path d="M521.4 357.6Q518.2 353.6 515.4 349.9" fill="none" stroke="rgb(9,19,8)" stroke-width="0.9" stroke-linecap="round"/>
<path d="M509.6 336.6Q512.5 333.6 516.0 331.3" fill="none" stroke="rgb(11,37,10)" stroke-width="0.9" stroke-linecap="round"/>
</g><g filter="url(#g1)">
<ellipse cx="514.0" cy="321.8" rx="0.77" ry="0.39" transform="rotate(84 514.0 321.8)" fill="rgb(40,124,30)"/>
<ellipse cx="510.8" cy="336.3" rx="0.73" ry="0.37" transform="rotate(173 510.8 336.3)" fill="rgb(30,91,22)"/>
<ellipse cx="520.0" cy="321.7" rx="0.90" ry="0.45" transform="rotate(93 520.0 321.7)" fill="rgb(21,64,16)"/>
<ellipse cx="497.9" cy="335.3" rx="0.73" ry="0.36" transform="rotate(38 497.9 335.3)" fill="rgb(32,97,23)"/>
<ellipse cx="424.4" cy="351.4" rx="0.99" ry="0.49" transform="rotate(168 424.4 351.4)" fill="rgb(31,95,23)"/>
<ellipse cx="448.4" cy="335.3" rx="1.17" ry="0.58" transform="rotate(55 448.4 335.3)" fill="rgb(29,88,21)"/>
<ellipse cx="446.7" cy="342.0" rx="0.80" ry="0.40" transform="rotate(31 446.7 342.0)" fill="rgb(34,104,25)"/>
<ellipse cx="493.3" cy="353.8" rx="0.65" ry="0.32" transform="rotate(45 493.3 353.8)" fill="rgb(31,96,23)"/>
<ellipse cx="426.8" cy="337.1" rx="1.19" ry="0.60" transform="rotate(152 426.8 337.1)" fill="rgb(39,120,28)"/>
<ellipse cx="455.1" cy="353.0" rx="0.83" ry="0.42" transform="rotate(72 455.1 353.0)" fill="rgb(39,119,28)"/>
<ellipse cx="491.4" cy="335.3" rx="0.84" ry="0.42" transform="rotate(148 491.4 335.3)" fill="rgb(29,89,21)"/>
<ellipse cx="470.8" cy="315.9" rx="1.00" ry="0.50" transform="rotate(21 470.8 315.9)" fill="rgb(18,56,14)"/>
<ellipse cx="486.7" cy="325.8" rx="0.83" ry="0.42" transform="rotate(118 486.7 325.8)" fill="rgb(30,93,22)"/>
<ellipse cx="430.1" cy="340.6" rx="0.79" ry="0.39" transform="rotate(178 430.1 340.6)" fill="rgb(33,102,24)"/>
<ellipse cx="520.7" cy="385.0" rx="1.17" ry="0.58" transform="rotate(103 520.7 385.0)" fill="rgb(39,121,29)"/>
<ellipse cx="504.5" cy="340.3" rx="1.16" ry="0.58" transform="rotate(165 504.5 340.3)" fill="rgb(19,60,15)"/>
<ellipse cx="443.3" cy="337.9" rx="1.04" ry="0.52" transform="rotate(30 443.3 337.9)" fill="rgb(23,72,17)"/>
<ellipse cx="501.9" cy="311.0" rx="1.08" ry="0.54" transform="rotate(87 501.9 311.0)" fill="rgb(27,84,20)"/>
<ellipse cx="430.6" cy="310.5" rx="0.68" ry="0.34" transform="rotate(51 430.6 310.5)" fill="rgb(34,104,25)"/>
<ellipse cx="479.6" cy="332.6" rx="1.09" ry="0.54" transform="rotate(130 479.6 332.6)" fill="rgb(19,58,14)"/>
<ellipse cx="480.7" cy="316.1" rx="1.18" ry="0.59" transform="rotate(92 480.7 316.1)" fill="rgb(29,90,21)"/>
<ellipse cx="443.0" cy="382.5" rx="0.93" ry="0.47" transform="rotate(30 443.0 382.5)" fill="rgb(26,80,19)"/>
<ellipse cx="507.0" cy="362.3" rx="0.92" ry="0.46" transform="rotate(61 507.0 362.3)" fill="rgb(30,93,22)"/>
<ellipse cx="464.6" cy="348.7" rx="1.04" ry="0.52" transform="rotate(136 464.6 348.7)" fill="rgb(18,57,14)"/>
<ellipse cx="419.1" cy="318.9" rx="0.83" ry="0.42" transform="rotate(25 419.1 318.9)" fill="rgb(34,106,25)"/>
<ellipse cx="489.7" cy="386.1" rx="0.97" ry="0.49" transform="rotate(99 489.7 386.1)" fill="rgb(26,80,19)"/>
<ellipse cx="474.8" cy="355.4" rx="1.12" ry="0.56" transform="rotate(160 474.8 355.4)" fill="rgb(39,120,29)"/>
<ellipse cx="488.7" cy="368.6" rx="1.06" ry="0.53" transform="rotate(123 488.7 368.6)" fill="rgb(35,109,26)"/>
<ellipse cx="496.2" cy="312.7" rx="1.00" ry="0.50" transform="rotate(76 496.2 312.7)" fill="rgb(22,67,16)"/>
<ellipse cx="440.3" cy="359.4" rx="1.06" ry="0.53" transform="rotate(57 440.3 359.4)" fill="rgb(23,70,17)"/>
<ellipse cx="512.8" cy="333.2" rx="0.82" ry="0.41" transform="rotate(141 512.8 333.2)" fill="rgb(40,124,29)"/>
<ellipse cx="430.5" cy="348.1" rx="1.12" ry="0.56" transform="rotate(128 430.5 348.1)" fill="rgb(26,81,19)"/>
<ellipse cx="476.3" cy="317.1" rx="0.77" ry="0.39" transform="rotate(18 476.3 317.1)" fill="rgb(30,92,22)"/>
<ellipse cx="490.3" cy="351.4" rx="1.11" ry="0.56" transform="rotate(8 490.3 351.4)" fill="rgb(41,126,30)"/>
<ellipse cx="515.6" cy="350.2" rx="0.81" ry="0.41" transform="rotate(84 515.6 350.2)" fill="rgb(41,126,30)"/>
<ellipse cx="489.4" cy="328.4" rx="0.83" ry="0.41" transform="rotate(61 489.4 328.4)" fill="rgb(27,84,20)"/>
<ellipse cx="473.1" cy="347.9" rx="0.78" ry="0.39" transform="rotate(43 473.1 347.9)" fill="rgb(38,118,28)"/>
<ellipse cx="446.6" cy="308.4" rx="0.83" ry="0.42" transform="rotate(17 446.6 308.4)" fill="rgb(26,79,19)"/>
<ellipse cx="470.7" cy="315.0" rx="1.17" ry="0.58" transform="rotate(110 470.7 315.0)" fill="rgb(36,112,27)"/>
<ellipse cx="437.3" cy="320.2" rx="0.74" ry="0.37" transform="rotate(153 437.3 320.2)" fill="rgb(19,60,15)"/>
<ellipse cx="496.8" cy="376.5" rx="0.95" ry="0.48" transform="rotate(129 496.8 376.5)" fill="rgb(26,81,20)"/>
<ellipse cx="485.7" cy="359.5" rx="1.20" ry="0.60" transform="rotate(104 485.7 359.5)" fill="rgb(19,57,14)"/>
<ellipse cx="445.8" cy="334.0" rx="1.16" ry="0.58" transform="rotate(7 445.8 334.0)" fill="rgb(35,109,26)"/>
<ellipse cx="438.8" cy="312.1" rx="0.98" ry="0.49" transform="rotate(112 438.8 312.1)" fill="rgb(33,101,24)"/>
<ellipse cx="436.1" cy="341.2" rx="0.82" ry="0.41" transform="rotate(36 436.1 341.2)" fill="rgb(38,118,28)"/>
<ellipse cx="438.5" cy="371.6" rx="1.04" ry="0.52" transform="rotate(110 438.5 371.6)" fill="rgb(23,72,17)"/>
<ellipse cx="502.6" cy="313.0" rx="1.18" ry="0.59" transform="rotate(90 502.6 313.0)" fill="rgb(25,77,18)"/>
<ellipse cx="425.2" cy="317.0" rx="1.01" ry="0.50" transform="rotate(58 425.2 317.0)" fill="rgb(22,68,17)"/>
<ellipse cx="426.3" cy="329.0" rx="1.04" ry="0.52" transform="rotate(86 426.3 329.0)" fill="rgb(36,112,27)"/>
<ellipse cx="444.2" cy="315.8" rx="1.13" ry="0.57" transform="rotate(110 444.2 315.8)" fill="rgb(20,63,15)"/>
<ellipse cx="417.3" cy="370.1" rx="0.86" ry="0.43" transform="rotate(161 417.3 370.1)" fill="rgb(40,122,29)"/>
<ellipse cx="450.9" cy="335.6" rx="0.93" ry="0.46" transform="rotate(68 450.9 335.6)" fill="rgb(27,84,20)"/>
<ellipse cx="441.0" cy="314.7" rx="0.96" ry="0.48" transform="rotate(156 441.0 314.7)" fill="rgb(25,76,18)"/>
<ellipse cx="490.1" cy="348.6" rx="0.73" ry="0.36" transform="rotate(125 490.1 348.6)" fill="rgb(27,84,20)"/>
<ellipse cx="500.0" cy="336.0" rx="1.11" ry="0.56" transform="rotate(63 500.0 336.0)" fill="rgb(35,109,26)"/>
<ellipse cx="416.7" cy="374.3" rx="0.68" ry="0.34" transform="rotate(109 416.7 374.3)" fill="rgb(30,92,22)"/>
<ellipse cx="482.5" cy="357.5" rx="0.95" ry="0.47" transform="rotate(8 482.5 357.5)" fill="rgb(33,101,24)"/>
<ellipse cx="510.4" cy="360.5" rx="0.93" ry="0.46" transform="rotate(123 510.4 360.5)" fill="rgb(38,116,28)"/>
<ellipse cx="466.0" cy="367.5" rx="0.82" ry="0.41" transform="rotate(139 466.0 367.5)" fill="rgb(20,62,15)"/>
<ellipse cx="453.5" cy="349.9" rx="1.07" ry="0.54" transform="rotate(21 453.5 349.9)" fill="rgb(26,80,19)"/>
<ellipse cx="447.2" cy="313.2" rx="0.86" ry="0.43" transform="rotate(170 447.2 313.2)" fill="rgb(20,60,15)"/>
<ellipse cx="433.5" cy="357.1" rx="1.04" ry="0.52" transform="rotate(7 433.5 357.1)" fill="rgb(35,108,26)"/>
<ellipse cx="418.9" cy="365.9" rx="1.08" ry="0.54" transform="rotate(117 418.9 365.9)" fill="rgb(23,71,17)"/>
<ellipse cx="518.6" cy="339.3" rx="0.73" ry="0.36" transform="rotate(48 518.6 339.3)" fill="rgb(36,112,27)"/>
<ellipse cx="456.0" cy="337.4" rx="0.80" ry="0.40" transform="rotate(22 456.0 337.4)" fill="rgb(30,94,22)"/>
<ellipse cx="466.1" cy="347.2" rx="0.96" ry="0.48" transform="rotate(83 466.1 347.2)" fill="rgb(37,113,27)"/>
<ellipse cx="439.5" cy="365.9" rx="0.68" ry="0.34" transform="rotate(51 439.5 365.9)" fill="rgb(38,118,28)"/>
<ellipse cx="494.8" cy="327.6" rx="0.77" ry="0.39" transform="rotate(176 494.8 327.6)" fill="rgb(20,60,15)"/>
<ellipse cx="431.8" cy="316.4" rx="0.72" ry="0.36" transform="rotate(148 431.8 316.4)" fill="rgb(34,104,25)"/>
<ellipse cx="445.1" cy="345.8" rx="1.14" ry="0.57" transform="rotate(168 445.1 345.8)" fill="rgb(29,91,22)"/>
<ellipse cx="439.1" cy="331.4" rx="0.73" ry="0.36" transform="rotate(154 439.1 331.4)" fill="rgb(20,62,15)"/>
<ellipse cx="442.1" cy="350.1" rx="0.80" ry="0.40" transform="rotate(12 442.1 350.1)" fill="rgb(31,95,23)"/>
<ellipse cx="416.5" cy="328.0" rx="0.77" ry="0.38" transform="rotate(51 416.5 328.0)" fill="rgb(38,117,28)"/>
<ellipse cx="514.9" cy="380.5" rx="1.07" ry="0.53" transform="rotate(78 514.9 380.5)" fill="rgb(20,60,15)"/>
<ellipse cx="462.0" cy="373.5" rx="0.94" ry="0.47" transform="rotate(158 462.0 373.5)" fill="rgb(18,56,14)"/>
<ellipse cx="518.0" cy="371.0" rx="0.80" ry="0.40" transform="rotate(173 518.0 371.0)" fill="rgb(29,91,22)"/>
<ellipse cx="416.4" cy="316.8" rx="1.18" ry="0.59" transform="rotate(71 416.4 316.8)" fill="rgb(24,76,18)"/>
<ellipse cx="509.0" cy="314.3" rx="0.79" ry="0.40" transform="rotate(1 509.0 314.3)" fill="rgb(24,75,18)"/>
<ellipse cx="498.3" cy="370.5" rx="0.82" ry="0.41" transform="rotate(117 498.3 370.5)" fill="rgb(32,99,24)"/>
<ellipse cx="492.6" cy="331.6" rx="0.64" ry="0.32" transform="rotate(165 492.6 331.6)" fill="rgb(28,87,21)"/>
<ellipse cx="419.4" cy="322.5" rx="0.66" ry="0.33" transform="rotate(33 419.4 322.5)" fill="rgb(38,119,28)"/>
<ellipse cx="461.2" cy="387.4" rx="0.76" ry="0.38" transform="rotate(121 461.2 387.4)" fill="rgb(38,118,28)"/>
<ellipse cx="441.1" cy="339.9" rx="0.75" ry="0.38" transform="rotate(47 441.1 339.9)" fill="rgb(38,116,28)"/>
<ellipse cx="511.6" cy="325.2" rx="0.94" ry="0.47" transform="rotate(60 511.6 325.2)" fill="rgb(20,61,15)"/>
<ellipse cx="454.0" cy="326.7" rx="1.18" ry="0.59" transform="rotate(32 454.0 326.7)" fill="rgb(34,104,25)"/>
<ellipse cx="434.6" cy="313.8" rx="0.68" ry="0.34" transform="rotate(29 434.6 313.8)" fill="rgb(30,94,22)"/>
<ellipse cx="500.7" cy="378.9" rx="1.15" ry="0.58" transform="rotate(44 500.7 378.9)" fill="rgb(29,91,22)"/>
<ellipse cx="487.8" cy="365.0" rx="0.83" ry="0.42" transform="rotate(30 487.8 365.0)" fill="rgb(32,98,24)"/>
<ellipse cx="435.0" cy="370.3" rx="0.95" ry="0.48" transform="rotate(139 435.0 370.3)" fill="rgb(34,105,25)"/>
<ellipse cx="421.8" cy="373.7" rx="1.02" ry="0.51" transform="rotate(38 421.8 373.7)" fill="rgb(33,101,24)"/>
<ellipse cx="515.2" cy="331.4" rx="1.20" ry="0.60" transform="rotate(98 515.2 331.4)" fill="rgb(26,79,19)"/>
<ellipse cx="490.6" cy="372.2" rx="0.92" ry="0.46" transform="rotate(32 490.6 372.2)" fill="rgb(37,115,27)"/>
<ellipse cx="474.5" cy="323.9" rx="0.71" ry="0.36" transform="rotate(178 474.5 323.9)" fill="rgb(30,91,22)"/>
<ellipse cx="459.3" cy="365.8" rx="0.87" ry="0.43" transform="rotate(67 459.3 365.8)" fill="rgb(33,100,24)"/>
<ellipse cx="416.6" cy="376.1" rx="0.76" ry="0.38" transform="rotate(93 416.6 376.1)" fill="rgb(19,59,14)"/>
<ellipse cx="442.2" cy="365.9" rx="0.92" ry="0.46" transform="rotate(176 442.2 365.9)" fill="rgb(38,117,28)"/>
<ellipse cx="437.2" cy="360.6" rx="0.68" ry="0.34" transform="rotate(126 437.2 360.6)" fill="rgb(41,126,30)"/>
<ellipse cx="482.6" cy="370.0" rx="1.12" ry="0.56" transform="rotate(53 482.6 370.0)" fill="rgb(33,101,24)"/>
<ellipse cx="476.9" cy="309.7" rx="1.06" ry="0.53" transform="rotate(61 476.9 309.7)" fill="rgb(18,57,14)"/>
<ellipse cx="491.4" cy="317.5" rx="1.19" ry="0.60" transform="rotate(167 491.4 317.5)" fill="rgb(33,101,24)"/>
<ellipse cx="484.6" cy="310.5" rx="1.02" ry="0.51" transform="rotate(92 484.6 310.5)" fill="rgb(29,88,21)"/>
<ellipse cx="497.9" cy="337.4" rx="1.05" ry="0.53" transform="rotate(119 497.9 337.4)" fill="rgb(36,112,27)"/>
<ellipse cx="451.2" cy="350.9" rx="0.72" ry="0.36" transform="rotate(38 451.2 350.9)" fill="rgb(30,93,22)"/>
<ellipse cx="487.9" cy="327.1" rx="0.68" ry="0.34" transform="rotate(25 487.9 327.1)" fill="rgb(40,124,30)"/>
<ellipse cx="445.0" cy="312.0" rx="0.80" ry="0.40" transform="rotate(171 445.0 312.0)" fill="rgb(21,65,16)"/>
<ellipse cx="454.7" cy="350.7" rx="0.84" ry="0.42" transform="rotate(163 454.7 350.7)" fill="rgb(20,61,15)"/>
<ellipse cx="510.7" cy="345.1" rx="1.11" ry="0.56" transform="rotate(70 510.7 345.1)" fill="rgb(36,109,26)"/>
<ellipse cx="450.5" cy="379.7" rx="1.08" ry="0.54" transform="rotate(50 450.5 379.7)" fill="rgb(24,73,18)"/>
<ellipse cx="520.7" cy="385.9" rx="0.70" ry="0.35" transform="rotate(180 520.7 385.9)" fill="rgb(26,80,19)"/>
<ellipse cx="479.0" cy="375.9" rx="1.00" ry="0.50" transform="rotate(31 479.0 375.9)" fill="rgb(26,81,19)"/>
<ellipse cx="440.4" cy="369.8" rx="0.77" ry="0.39" transform="rotate(127 440.4 369.8)" fill="rgb(23,70,17)"/>
<ellipse cx="440.4" cy="380.9" rx="0.98" ry="0.49" transform="rotate(147 440.4 380.9)" fill="rgb(40,123,29)"/>
<ellipse cx="506.7" cy="317.5" rx="0.91" ry="0.45" transform="rotate(151 506.7 317.5)" fill="rgb(27,82,20)"/>
<ellipse cx="427.6" cy="378.3" rx="1.08" ry="0.54" transform="rotate(44 427.6 378.3)" fill="rgb(28,87,21)"/>
<ellipse cx="439.9" cy="322.7" rx="1.09" ry="0.54" transform="rotate(37 439.9 322.7)" fill="rgb(22,68,16)"/>
<ellipse cx="442.0" cy="342.2" rx="0.88" ry="0.44" transform="rotate(112 442.0 342.2)" fill="rgb(19,60,14)"/>
<ellipse cx="485.1" cy="365.7" rx="0.72" ry="0.36" transform="rotate(69 485.1 365.7)" fill="rgb(21,64,15)"/>
<ellipse cx="453.8" cy="377.3" rx="0.93" ry="0.46" transform="rotate(18 453.8 377.3)" fill="rgb(22,68,17)"/>
<ellipse cx="478.0" cy="348.3" rx="0.80" ry="0.40" transform="rotate(152 478.0 348.3)" fill="rgb(31,96,23)"/>
<ellipse cx="475.5" cy="372.3" rx="1.01" ry="0.51" transform="rotate(67 475.5 372.3)" fill="rgb(28,85,20)"/>
<ellipse cx="427.5" cy="350.2" rx="0.99" ry="0.50" transform="rotate(93 427.5 350.2)" fill="rgb(20,61,15)"/>
<ellipse cx="516.3" cy="310.2" rx="0.99" ry="0.49" transform="rotate(46 516.3 310.2)" fill="rgb(36,112,27)"/>
<ellipse cx="458.6" cy="385.0" rx="1.01" ry="0.51" transform="rotate(79 458.6 385.0)" fill="rgb(31,97,23)"/>
<ellipse cx="518.2" cy="374.0" rx="0.74" ry="0.37" transform="rotate(64 518.2 374.0)" fill="rgb(24,74,18)"/>
<ellipse cx="467.5" cy="347.0" rx="0.82" ry="0.41" transform="rotate(50 467.5 347.0)" fill="rgb(34,105,25)"/>
<ellipse cx="481.5" cy="326.4" rx="0.82" ry="0.41" transform="rotate(39 481.5 326.4)" fill="rgb(39,121,29)"/>
<ellipse cx="489.4" cy="352.5" rx="1.09" ry="0.55" transform="rotate(138 489.4 352.5)" fill="rgb(39,120,29)"/>
<ellipse cx="497.8" cy="372.4" rx="0.69" ry="0.35" transform="rotate(1 497.8 372.4)" fill="rgb(24,75,18)"/>
<ellipse cx="446.6" cy="382.4" rx="1.10" ry="0.55" transform="rotate(39 446.6 382.4)" fill="rgb(37,115,27)"/>
<ellipse cx="432.9" cy="333.6" rx="0.70" ry="0.35" transform="rotate(144 432.9 333.6)" fill="rgb(20,60,15)"/>
</g></g>
<line x1="491.20" y1="384.40" x2="500.80" y2="384.40" stroke="#fff" stroke-width="1.6" stroke-linecap="butt"/>
<text x="496.00" y="383.10" font-size="2.4" font-weight="normal" text-anchor="middle" fill="#cfcfcf">100 μm</text>
<text x="531.90" y="14.90" font-size="15" font-weight="normal" text-anchor="start" >e</text>
<line x1="562.10" y1="155.60" x2="566.10" y2="155.60" stroke="#000" stroke-width="1.2" stroke-linecap="butt"/>
<text x="560.60" y="158.66" font-size="8.5" font-weight="bold" text-anchor="end" >0</text>
<line x1="562.10" y1="118.36" x2="566.10" y2="118.36" stroke="#000" stroke-width="1.2" stroke-linecap="butt"/>
<text x="560.60" y="121.42" font-size="8.5" font-weight="bold" text-anchor="end" >2</text>
<line x1="562.10" y1="81.12" x2="566.10" y2="81.12" stroke="#000" stroke-width="1.2" stroke-linecap="butt"/>
<text x="560.60" y="84.18" font-size="8.5" font-weight="bold" text-anchor="end" >4</text>
<line x1="562.10" y1="43.88" x2="566.10" y2="43.88" stroke="#000" stroke-width="1.2" stroke-linecap="butt"/>
<text x="560.60" y="46.94" font-size="8.5" font-weight="bold" text-anchor="end" >6</text>
<text transform="translate(537.40,99.20) rotate(-90)" font-size="9.18" font-weight="bold" text-anchor="middle">Fluorescent intensities of ROS</text>
<text transform="translate(550.3,99.70) rotate(-90)" font-size="9.5" font-weight="bold" text-anchor="middle">CTCF(×10<tspan font-size="6.3" dy="-3.6">6</tspan><tspan dy="3.6">)</tspan></text>
<rect x="574.10" y="133.30" width="14.70" height="22.30" fill="#2d4a4b" />
<line x1="581.45" y1="130.70" x2="581.45" y2="133.30" stroke="#2d4a4b" stroke-width="0.8" stroke-linecap="butt"/>
<line x1="577.95" y1="130.70" x2="584.95" y2="130.70" stroke="#2d4a4b" stroke-width="0.8" stroke-linecap="butt"/>
<rect x="596.60" y="60.20" width="14.70" height="95.40" fill="#2aacac" />
<line x1="603.95" y1="55.00" x2="603.95" y2="60.20" stroke="#2aacac" stroke-width="0.8" stroke-linecap="butt"/>
<line x1="600.45" y1="55.00" x2="607.45" y2="55.00" stroke="#2aacac" stroke-width="0.8" stroke-linecap="butt"/>
<rect x="633.50" y="141.00" width="15.00" height="14.60" fill="#2d4a4b" />
<line x1="641.00" y1="137.40" x2="641.00" y2="141.00" stroke="#2d4a4b" stroke-width="0.8" stroke-linecap="butt"/>
<line x1="637.50" y1="137.40" x2="644.50" y2="137.40" stroke="#2d4a4b" stroke-width="0.8" stroke-linecap="butt"/>
<rect x="656.00" y="139.50" width="15.00" height="16.10" fill="#2aacac" />
<line x1="663.50" y1="137.40" x2="663.50" y2="139.50" stroke="#2aacac" stroke-width="0.8" stroke-linecap="butt"/>
<line x1="660.00" y1="137.40" x2="667.00" y2="137.40" stroke="#2aacac" stroke-width="0.8" stroke-linecap="butt"/>
<line x1="592.70" y1="155.60" x2="592.70" y2="160.40" stroke="#000" stroke-width="1.2" stroke-linecap="butt"/>
<text x="592.70" y="169.60" font-size="9.2" font-weight="bold" text-anchor="middle" >NF</text>
<line x1="652.10" y1="155.60" x2="652.10" y2="160.40" stroke="#000" stroke-width="1.2" stroke-linecap="butt"/>
<text x="652.10" y="169.60" font-size="9.2" font-weight="bold" text-anchor="middle" >SF</text>
<line x1="566.10" y1="43.28" x2="566.10" y2="156.20" stroke="#000" stroke-width="1.2" stroke-linecap="butt"/>
<line x1="565.50" y1="155.60" x2="679.30" y2="155.60" stroke="#000" stroke-width="1.2" stroke-linecap="butt"/>
<path d="M581.30 123.70V43.90H603.80V53.00" fill="none" stroke="#000" stroke-width="1.6" stroke-linejoin="miter"/>
<path d="M640.50 132.80V124.20H664.00V132.80" fill="none" stroke="#000" stroke-width="1.6" stroke-linejoin="miter"/>
<text x="592.70" y="41.90" font-family="DejaVu Sans, sans-serif" font-size="12" font-weight="bold" text-anchor="middle" stroke="#000" stroke-width="0.3" letter-spacing="0.6">**</text>
<text x="652.10" y="118.70" font-size="9.6" font-weight="bold" text-anchor="middle" >ns</text>
<rect x="634.00" y="48.85" width="12.20" height="5.80" fill="#2d4a4b" />
<text x="652.40" y="54.80" font-size="9.4" font-weight="bold" text-anchor="start" >Control</text>
<rect x="634.00" y="64.00" width="12.20" height="5.80" fill="#2aacac" />
<text x="652.40" y="69.95" font-size="9.4" font-weight="bold" text-anchor="start" >Erastin</text>
<text x="532.00" y="217.90" font-size="14.4" font-weight="normal" text-anchor="start" >g</text>
<line x1="562.10" y1="358.10" x2="566.10" y2="358.10" stroke="#000" stroke-width="1.2" stroke-linecap="butt"/>
<text x="560.60" y="360.98" font-size="8.0" font-weight="bold" text-anchor="end" >0</text>
<line x1="562.10" y1="330.24" x2="566.10" y2="330.24" stroke="#000" stroke-width="1.2" stroke-linecap="butt"/>
<text x="560.60" y="333.12" font-size="8.0" font-weight="bold" text-anchor="end" >2</text>
<line x1="562.10" y1="302.38" x2="566.10" y2="302.38" stroke="#000" stroke-width="1.2" stroke-linecap="butt"/>
<text x="560.60" y="305.26" font-size="8.0" font-weight="bold" text-anchor="end" >4</text>
<line x1="562.10" y1="274.52" x2="566.10" y2="274.52" stroke="#000" stroke-width="1.2" stroke-linecap="butt"/>
<text x="560.60" y="277.40" font-size="8.0" font-weight="bold" text-anchor="end" >6</text>
<line x1="562.10" y1="246.66" x2="566.10" y2="246.66" stroke="#000" stroke-width="1.2" stroke-linecap="butt"/>
<text x="560.60" y="249.54" font-size="8.0" font-weight="bold" text-anchor="end" >8</text>
<text transform="translate(537.40,302.20) rotate(-90)" font-size="9.18" font-weight="bold" text-anchor="middle">Fluorescent intensities of LPO</text>
<text transform="translate(550.3,301.50) rotate(-90)" font-size="9.5" font-weight="bold" text-anchor="middle">CTCF(×10<tspan font-size="6.3" dy="-3.6">6</tspan><tspan dy="3.6">)</tspan></text>
<rect x="574.10" y="335.60" width="14.70" height="22.50" fill="#2d4a4b" />
<line x1="581.45" y1="334.50" x2="581.45" y2="335.60" stroke="#2d4a4b" stroke-width="0.8" stroke-linecap="butt"/>
<line x1="577.95" y1="334.50" x2="584.95" y2="334.50" stroke="#2d4a4b" stroke-width="0.8" stroke-linecap="butt"/>
<rect x="596.60" y="271.00" width="14.70" height="87.10" fill="#2aacac" />
<line x1="603.95" y1="267.60" x2="603.95" y2="271.00" stroke="#2aacac" stroke-width="0.8" stroke-linecap="butt"/>
<line x1="600.45" y1="267.60" x2="607.45" y2="267.60" stroke="#2aacac" stroke-width="0.8" stroke-linecap="butt"/>
<rect x="633.50" y="327.00" width="15.00" height="31.10" fill="#2d4a4b" />
<line x1="641.00" y1="321.90" x2="641.00" y2="327.00" stroke="#2d4a4b" stroke-width="0.8" stroke-linecap="butt"/>
<line x1="637.50" y1="321.90" x2="644.50" y2="321.90" stroke="#2d4a4b" stroke-width="0.8" stroke-linecap="butt"/>
<rect x="656.00" y="310.80" width="15.00" height="47.30" fill="#2aacac" />
<line x1="663.50" y1="305.10" x2="663.50" y2="310.80" stroke="#2aacac" stroke-width="0.8" stroke-linecap="butt"/>
<line x1="660.00" y1="305.10" x2="667.00" y2="305.10" stroke="#2aacac" stroke-width="0.8" stroke-linecap="butt"/>
<line x1="592.70" y1="358.10" x2="592.70" y2="362.90" stroke="#000" stroke-width="1.2" stroke-linecap="butt"/>
<text x="592.70" y="373.10" font-size="9.2" font-weight="bold" text-anchor="middle" >NF</text>
<line x1="652.10" y1="358.10" x2="652.10" y2="362.90" stroke="#000" stroke-width="1.2" stroke-linecap="butt"/>
<text x="652.10" y="373.10" font-size="9.2" font-weight="bold" text-anchor="middle" >SF</text>
<line x1="566.10" y1="246.06" x2="566.10" y2="358.70" stroke="#000" stroke-width="1.2" stroke-linecap="butt"/>
<line x1="565.50" y1="358.10" x2="679.30" y2="358.10" stroke="#000" stroke-width="1.2" stroke-linecap="butt"/>
<path d="M581.30 333.50V261.20H604.30V266.40" fill="none" stroke="#000" stroke-width="1.6" stroke-linejoin="miter"/>
<path d="M640.50 320.60V297.90H664.00V303.80" fill="none" stroke="#000" stroke-width="1.6" stroke-linejoin="miter"/>
<text x="592.70" y="260.20" font-family="DejaVu Sans, sans-serif" font-size="12" font-weight="bold" text-anchor="middle" stroke="#000" stroke-width="0.3" letter-spacing="0.6">**</text>
<text x="652.10" y="291.60" font-size="9.6" font-weight="bold" text-anchor="middle" >ns</text>
<rect x="632.00" y="247.85" width="12.20" height="5.80" fill="#2d4a4b" />
<text x="650.40" y="253.80" font-size="9.3" font-weight="bold" text-anchor="start" >Control</text>
<rect x="632.00" y="262.70" width="12.20" height="5.80" fill="#2aacac" />
<text x="650.40" y="268.65" font-size="9.3" font-weight="bold" text-anchor="start" >Erastin</text>
</svg>
</body></html>
